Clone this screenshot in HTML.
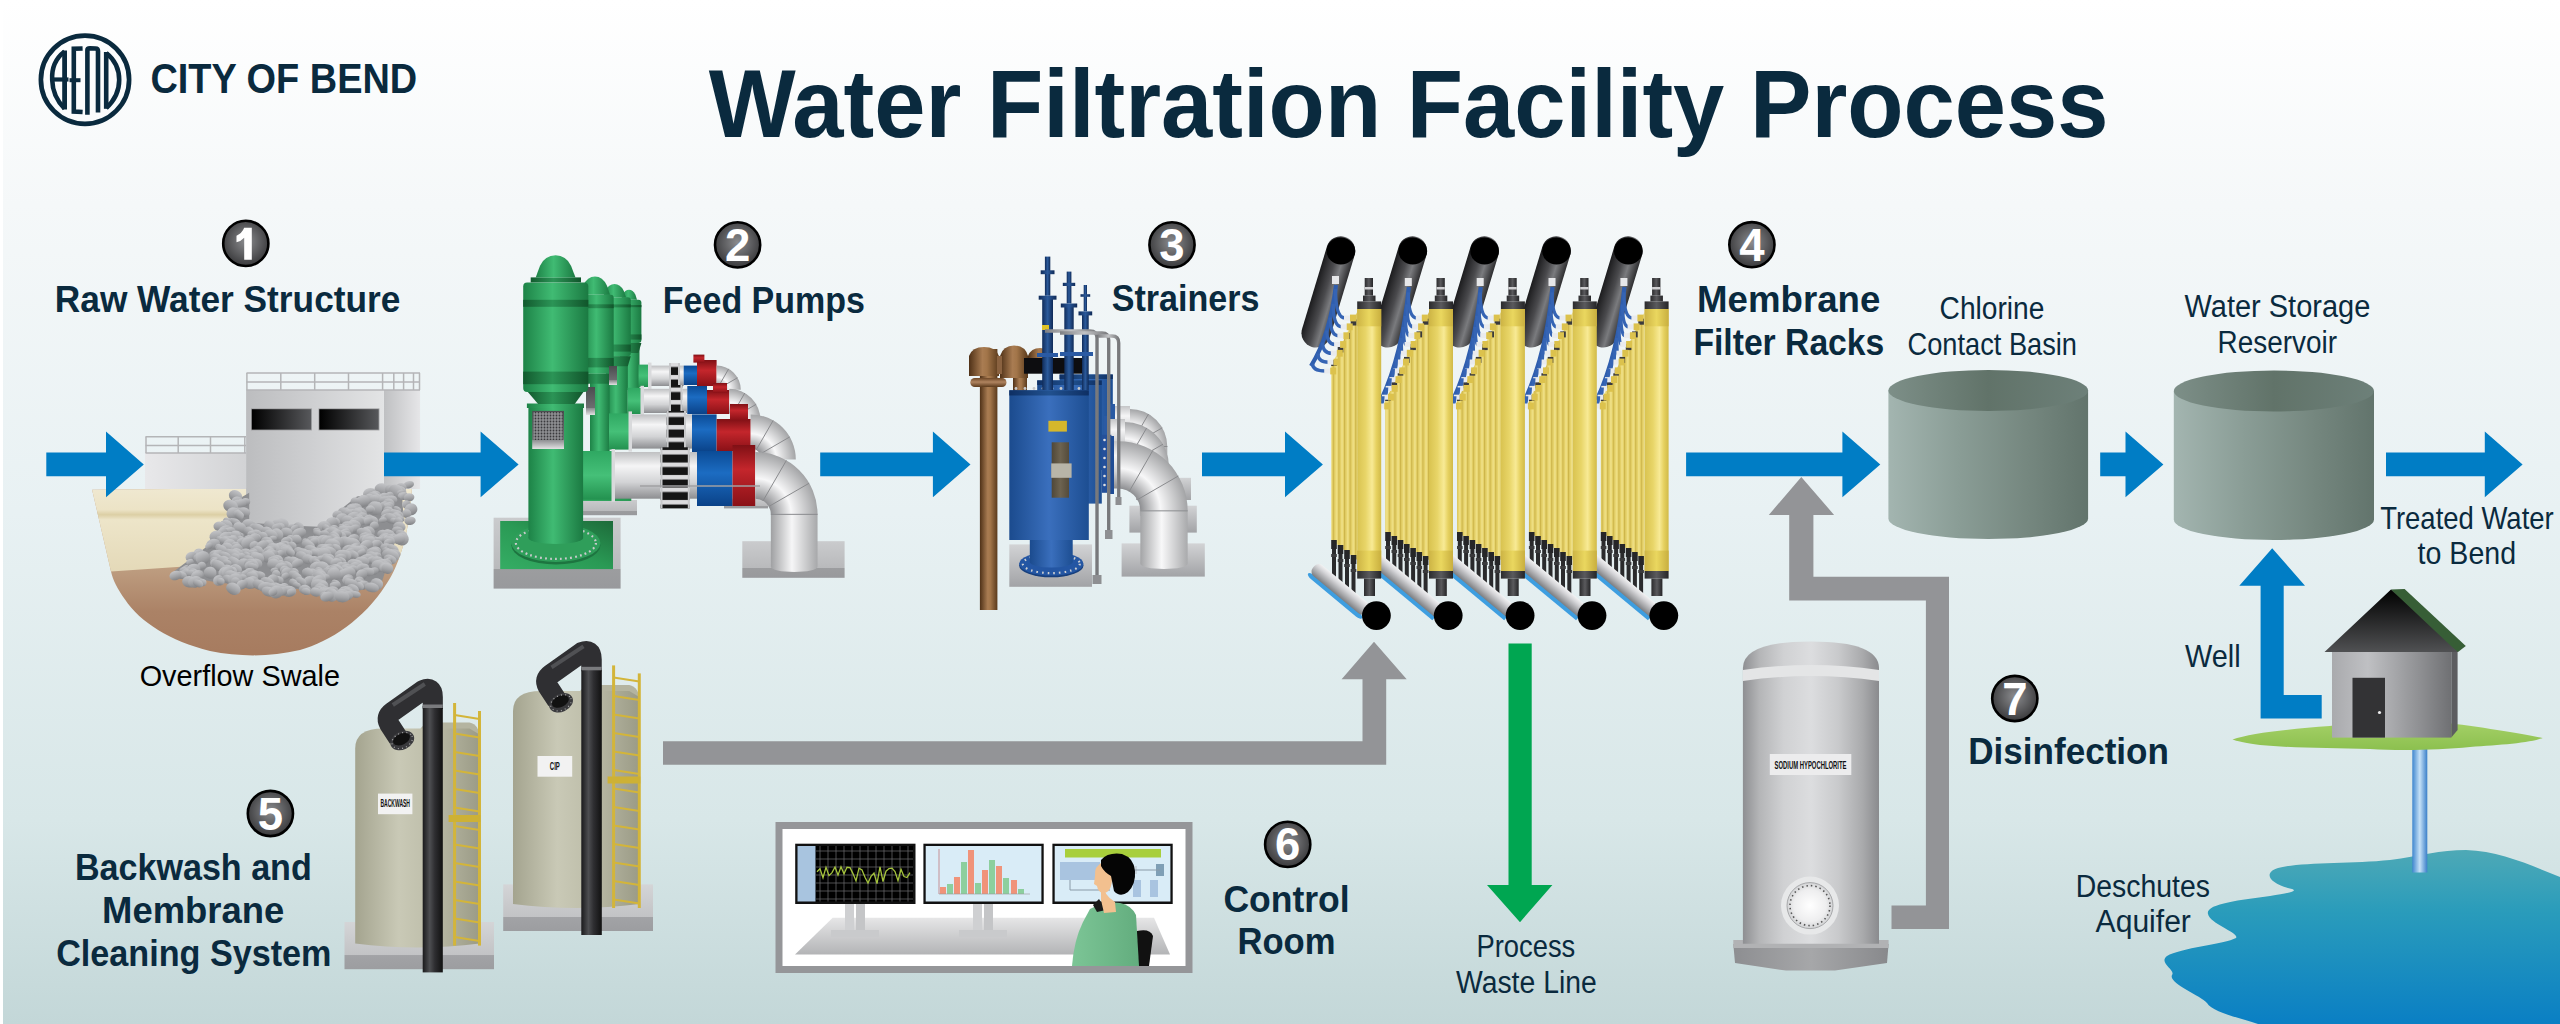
<!DOCTYPE html>
<html><head><meta charset="utf-8"><title>Water Filtration Facility Process</title>
<style>html,body{margin:0;padding:0;background:#fff;overflow:hidden}svg{display:block}</style>
</head><body>
<svg width="2560" height="1024" viewBox="0 0 2560 1024">

<defs>
<linearGradient id="bg" x1="0" y1="0" x2="0" y2="1">
 <stop offset="0" stop-color="#ffffff"/>
 <stop offset="0.2" stop-color="#f5f8f9"/>
 <stop offset="0.5" stop-color="#e8f1f3"/>
 <stop offset="0.8" stop-color="#d8e7e8"/>
 <stop offset="1" stop-color="#c3d7d8"/>
</linearGradient>
<radialGradient id="numg" cx="0.5" cy="0.45" r="0.55">
 <stop offset="0" stop-color="#8b8c8f"/>
 <stop offset="1" stop-color="#3a3a3c"/>
</radialGradient>
</defs>

<rect x="0" y="0" width="2560" height="1024" fill="#ffffff"/>
<rect x="3" y="0" width="2557" height="1024" fill="url(#bg)"/>
<circle cx="85" cy="79.7" r="44.1" fill="none" stroke="#0a2a3e" stroke-width="4.7"/>
<text x="150.4" y="92.5" font-family='"Liberation Sans", sans-serif' font-weight="bold" font-size="42.15" textLength="266.8" lengthAdjust="spacingAndGlyphs" fill="#0a2a3e" >CITY OF BEND</text>
<defs><linearGradient id="rw_sand" x1="0" y1="489" x2="0" y2="572" gradientUnits="userSpaceOnUse"><stop offset="0" stop-color="#efe8d0"/><stop offset="0.25" stop-color="#ece3c6"/><stop offset="0.31" stop-color="#dccfa5"/><stop offset="0.37" stop-color="#ede5c9"/><stop offset="1" stop-color="#e4d9b8"/></linearGradient><linearGradient id="rw_soil" x1="0" y1="565" x2="0" y2="650" gradientUnits="userSpaceOnUse"><stop offset="0" stop-color="#bf9f82"/><stop offset="0.55" stop-color="#ab8266"/><stop offset="1" stop-color="#a77c60"/></linearGradient><linearGradient id="rw_b1" x1="0" y1="0" x2="1" y2="0" ><stop offset="0" stop-color="#e8e8ea"/><stop offset="1" stop-color="#d2d3d5"/></linearGradient><linearGradient id="rw_b2" x1="0" y1="0" x2="1" y2="0" ><stop offset="0" stop-color="#bcbdbf"/><stop offset="0.5" stop-color="#cfd0d2"/><stop offset="1" stop-color="#e3e4e5"/></linearGradient><linearGradient id="rw_b3" x1="0" y1="0" x2="1" y2="0" ><stop offset="0" stop-color="#bfc0c2"/><stop offset="1" stop-color="#e6e6e8"/></linearGradient><linearGradient id="rw_win" x1="0" y1="0" x2="1" y2="0" ><stop offset="0" stop-color="#000"/><stop offset="1" stop-color="#57585b"/></linearGradient><radialGradient id="rw_rock" cx="0.45" cy="0.3" r="0.75" ><stop offset="0" stop-color="#bdbec1"/><stop offset="0.6" stop-color="#9c9da0"/><stop offset="1" stop-color="#7c7d80"/></radialGradient><linearGradient id="rw_rock2" x1="0" y1="0" x2="0" y2="1" ><stop offset="0" stop-color="#c4c5c8"/><stop offset="0.55" stop-color="#a3a4a7"/><stop offset="1" stop-color="#818285"/></linearGradient><clipPath id="rw_rc"><polygon points="165.6,575 188.5,557 213,538 223.6,520 236,494 246,488 246,521 283,524 327,526 345,506 362,492 389,488 410,484 412,515 399,554 389,586 343,598 266,593 213,588 167,579"/></clipPath></defs>
<path d="M92.1,489.7 L412,487 C410,530 400,565 385.4,585.5 C365,618 330,642 300,650 C270,657 240,657 210,651 C170,641 140,622 125,599.5 C117,588 113,580 111,571.4 Z" fill="url(#rw_soil)"/>
<clipPath id="rw_swc"><path d="M92.1,489.7 L412,487 C410,530 400,565 385.4,585.5 C365,618 330,642 300,650 C270,657 240,657 210,651 C170,641 140,622 125,599.5 C117,588 113,580 111,571.4 Z"/></clipPath>
<polygon points="80,480 420,480 420,558 243,562.6 111,571.5 80,573" fill="url(#rw_sand)" clip-path="url(#rw_swc)"/>
<rect x="145.0" y="453.0" width="101.1" height="36.0" fill="url(#rw_b1)" />
<g stroke="#b4b5b7" stroke-width="1.5" fill="none"><line x1="145.5" y1="436.8" x2="246" y2="436.8"/><line x1="145.5" y1="445.4" x2="246" y2="445.4"/><line x1="145.5" y1="453" x2="246" y2="453"/><line x1="146" y1="436.8" x2="146" y2="453"/><line x1="178.2" y1="436.8" x2="178.2" y2="453"/><line x1="210.5" y1="436.8" x2="210.5" y2="453"/><line x1="244.8" y1="436.8" x2="244.8" y2="453"/></g>
<rect x="383.9" y="390.0" width="36.2" height="99.0" fill="url(#rw_b3)" />
<rect x="246.1" y="390.0" width="137.8" height="142.0" fill="url(#rw_b2)" />
<g stroke="#b4b5b7" stroke-width="1.5" fill="none"><line x1="246.5" y1="373" x2="420" y2="373"/><line x1="246.5" y1="382" x2="420" y2="382"/><line x1="246.5" y1="390" x2="420" y2="390"/><line x1="246.9" y1="373" x2="246.9" y2="390"/><line x1="280.8" y1="373" x2="280.8" y2="390"/><line x1="314.7" y1="373" x2="314.7" y2="390"/><line x1="348.5" y1="373" x2="348.5" y2="390"/><line x1="382.6" y1="373" x2="382.6" y2="390"/><line x1="393.8" y1="373" x2="393.8" y2="390"/><line x1="403.6" y1="373" x2="403.6" y2="390"/><line x1="413.5" y1="373" x2="413.5" y2="390"/><line x1="419.5" y1="373" x2="419.5" y2="390"/></g>
<rect x="251.0" y="408.4" width="60.9" height="22.0" fill="#9d9ea0" />
<rect x="251.8" y="409.2" width="59.3" height="20.4" fill="url(#rw_win)" />
<rect x="318.5" y="408.4" width="60.9" height="22.0" fill="#9d9ea0" />
<rect x="319.3" y="409.2" width="59.3" height="20.4" fill="url(#rw_win)" />
<polygon points="174.4,571.1 195.7,554.9 218.5,537.8 228.3,521.6 239.9,498.2 249.2,492.8 249.2,522.5 283.6,525.2 324.5,527.0 341.2,509.0 357.0,496.4 382.2,492.8 401.7,489.2 403.5,517.1 391.5,552.2 382.2,581.0 339.4,591.8 267.8,587.3 218.5,582.8 175.7,574.7" fill="#8d8e91" />
<ellipse cx="408.7" cy="484.7" rx="5.4" ry="3.6" fill="url(#rw_rock2)" transform="rotate(-14 408.7 484.7)"/>
<ellipse cx="401.3" cy="487.2" rx="5.3" ry="4.1" fill="url(#rw_rock2)" transform="rotate(5 401.3 487.2)"/>
<ellipse cx="398.6" cy="488.5" rx="3.8" ry="3.0" fill="url(#rw_rock2)" transform="rotate(24 398.6 488.5)"/>
<ellipse cx="381.8" cy="489.5" rx="7.3" ry="6.3" fill="url(#rw_rock2)" transform="rotate(11 381.8 489.5)"/>
<ellipse cx="390.8" cy="490.1" rx="6.0" ry="5.7" fill="url(#rw_rock2)" transform="rotate(17 390.8 490.1)"/>
<ellipse cx="401.0" cy="490.7" rx="5.5" ry="4.4" fill="url(#rw_rock2)" transform="rotate(26 401.0 490.7)"/>
<ellipse cx="397.6" cy="491.3" rx="5.8" ry="4.8" fill="url(#rw_rock2)" transform="rotate(-12 397.6 491.3)"/>
<ellipse cx="392.0" cy="491.5" rx="6.3" ry="5.0" fill="url(#rw_rock2)" transform="rotate(27 392.0 491.5)"/>
<ellipse cx="395.7" cy="491.6" rx="7.5" ry="7.1" fill="url(#rw_rock2)" transform="rotate(27 395.7 491.6)"/>
<ellipse cx="401.0" cy="492.6" rx="4.0" ry="2.7" fill="url(#rw_rock2)" transform="rotate(-10 401.0 492.6)"/>
<ellipse cx="369.8" cy="493.6" rx="6.9" ry="5.6" fill="url(#rw_rock2)" transform="rotate(-15 369.8 493.6)"/>
<ellipse cx="402.0" cy="495.3" rx="4.2" ry="3.0" fill="url(#rw_rock2)" transform="rotate(-22 402.0 495.3)"/>
<ellipse cx="389.7" cy="495.6" rx="4.3" ry="3.8" fill="url(#rw_rock2)" transform="rotate(-18 389.7 495.6)"/>
<ellipse cx="403.8" cy="496.0" rx="4.4" ry="3.7" fill="url(#rw_rock2)" transform="rotate(-22 403.8 496.0)"/>
<ellipse cx="235.5" cy="496.0" rx="6.9" ry="5.8" fill="url(#rw_rock2)" transform="rotate(23 235.5 496.0)"/>
<ellipse cx="375.1" cy="496.5" rx="6.5" ry="5.6" fill="url(#rw_rock2)" transform="rotate(-14 375.1 496.5)"/>
<ellipse cx="409.0" cy="497.4" rx="5.4" ry="4.1" fill="url(#rw_rock2)" transform="rotate(-6 409.0 497.4)"/>
<ellipse cx="373.8" cy="497.7" rx="7.2" ry="5.6" fill="url(#rw_rock2)" transform="rotate(18 373.8 497.7)"/>
<ellipse cx="383.6" cy="497.9" rx="6.1" ry="4.1" fill="url(#rw_rock2)" transform="rotate(-17 383.6 497.9)"/>
<ellipse cx="384.0" cy="498.1" rx="5.9" ry="5.3" fill="url(#rw_rock2)" transform="rotate(-16 384.0 498.1)"/>
<ellipse cx="363.3" cy="498.7" rx="4.7" ry="3.6" fill="url(#rw_rock2)" transform="rotate(-2 363.3 498.7)"/>
<ellipse cx="369.3" cy="498.8" rx="5.4" ry="5.0" fill="url(#rw_rock2)" transform="rotate(6 369.3 498.8)"/>
<ellipse cx="392.2" cy="499.1" rx="4.8" ry="3.6" fill="url(#rw_rock2)" transform="rotate(0 392.2 499.1)"/>
<ellipse cx="388.1" cy="499.2" rx="4.4" ry="3.4" fill="url(#rw_rock2)" transform="rotate(-26 388.1 499.2)"/>
<ellipse cx="376.6" cy="499.5" rx="6.2" ry="5.7" fill="url(#rw_rock2)" transform="rotate(24 376.6 499.5)"/>
<ellipse cx="374.4" cy="499.7" rx="6.0" ry="4.6" fill="url(#rw_rock2)" transform="rotate(4 374.4 499.7)"/>
<ellipse cx="391.5" cy="499.9" rx="5.9" ry="4.1" fill="url(#rw_rock2)" transform="rotate(2 391.5 499.9)"/>
<ellipse cx="384.5" cy="500.3" rx="5.6" ry="4.0" fill="url(#rw_rock2)" transform="rotate(-3 384.5 500.3)"/>
<ellipse cx="363.0" cy="501.1" rx="6.9" ry="5.8" fill="url(#rw_rock2)" transform="rotate(-10 363.0 501.1)"/>
<ellipse cx="355.3" cy="501.2" rx="4.7" ry="3.9" fill="url(#rw_rock2)" transform="rotate(3 355.3 501.2)"/>
<ellipse cx="245.4" cy="501.9" rx="4.9" ry="3.9" fill="url(#rw_rock2)" transform="rotate(-6 245.4 501.9)"/>
<ellipse cx="237.0" cy="502.0" rx="6.1" ry="5.6" fill="url(#rw_rock2)" transform="rotate(-8 237.0 502.0)"/>
<ellipse cx="388.8" cy="503.2" rx="5.8" ry="4.7" fill="url(#rw_rock2)" transform="rotate(10 388.8 503.2)"/>
<ellipse cx="240.8" cy="503.3" rx="4.7" ry="3.4" fill="url(#rw_rock2)" transform="rotate(25 240.8 503.3)"/>
<ellipse cx="236.9" cy="503.6" rx="4.3" ry="3.7" fill="url(#rw_rock2)" transform="rotate(-14 236.9 503.6)"/>
<ellipse cx="240.9" cy="503.8" rx="5.6" ry="4.4" fill="url(#rw_rock2)" transform="rotate(-16 240.9 503.8)"/>
<ellipse cx="406.5" cy="504.5" rx="4.5" ry="4.2" fill="url(#rw_rock2)" transform="rotate(-28 406.5 504.5)"/>
<ellipse cx="384.2" cy="505.2" rx="4.3" ry="3.8" fill="url(#rw_rock2)" transform="rotate(-8 384.2 505.2)"/>
<ellipse cx="377.2" cy="505.6" rx="4.5" ry="4.0" fill="url(#rw_rock2)" transform="rotate(29 377.2 505.6)"/>
<ellipse cx="389.5" cy="505.9" rx="4.6" ry="3.9" fill="url(#rw_rock2)" transform="rotate(-6 389.5 505.9)"/>
<ellipse cx="230.6" cy="506.1" rx="7.5" ry="6.2" fill="url(#rw_rock2)" transform="rotate(24 230.6 506.1)"/>
<ellipse cx="386.1" cy="507.5" rx="6.3" ry="4.3" fill="url(#rw_rock2)" transform="rotate(-3 386.1 507.5)"/>
<ellipse cx="378.5" cy="507.7" rx="6.4" ry="4.5" fill="url(#rw_rock2)" transform="rotate(-25 378.5 507.7)"/>
<ellipse cx="374.7" cy="508.3" rx="7.5" ry="6.9" fill="url(#rw_rock2)" transform="rotate(9 374.7 508.3)"/>
<ellipse cx="370.7" cy="508.9" rx="4.0" ry="3.5" fill="url(#rw_rock2)" transform="rotate(29 370.7 508.9)"/>
<ellipse cx="355.5" cy="509.0" rx="6.7" ry="5.8" fill="url(#rw_rock2)" transform="rotate(-4 355.5 509.0)"/>
<ellipse cx="352.3" cy="509.2" rx="6.1" ry="5.7" fill="url(#rw_rock2)" transform="rotate(-0 352.3 509.2)"/>
<ellipse cx="397.1" cy="509.3" rx="4.1" ry="2.8" fill="url(#rw_rock2)" transform="rotate(27 397.1 509.3)"/>
<ellipse cx="411.0" cy="509.4" rx="6.4" ry="6.0" fill="url(#rw_rock2)" transform="rotate(-21 411.0 509.4)"/>
<ellipse cx="369.8" cy="509.6" rx="4.2" ry="3.6" fill="url(#rw_rock2)" transform="rotate(-4 369.8 509.6)"/>
<ellipse cx="388.5" cy="510.7" rx="5.5" ry="4.0" fill="url(#rw_rock2)" transform="rotate(16 388.5 510.7)"/>
<ellipse cx="351.5" cy="511.0" rx="6.7" ry="5.8" fill="url(#rw_rock2)" transform="rotate(-4 351.5 511.0)"/>
<ellipse cx="359.4" cy="511.5" rx="5.6" ry="4.3" fill="url(#rw_rock2)" transform="rotate(-2 359.4 511.5)"/>
<ellipse cx="239.5" cy="511.7" rx="5.0" ry="4.0" fill="url(#rw_rock2)" transform="rotate(28 239.5 511.7)"/>
<ellipse cx="243.5" cy="512.0" rx="6.8" ry="4.7" fill="url(#rw_rock2)" transform="rotate(10 243.5 512.0)"/>
<ellipse cx="234.2" cy="512.6" rx="6.8" ry="5.1" fill="url(#rw_rock2)" transform="rotate(23 234.2 512.6)"/>
<ellipse cx="359.6" cy="512.6" rx="7.3" ry="4.9" fill="url(#rw_rock2)" transform="rotate(8 359.6 512.6)"/>
<ellipse cx="352.4" cy="513.0" rx="5.2" ry="4.1" fill="url(#rw_rock2)" transform="rotate(3 352.4 513.0)"/>
<ellipse cx="344.6" cy="513.3" rx="7.0" ry="5.9" fill="url(#rw_rock2)" transform="rotate(23 344.6 513.3)"/>
<ellipse cx="393.6" cy="513.4" rx="4.7" ry="4.2" fill="url(#rw_rock2)" transform="rotate(-6 393.6 513.4)"/>
<ellipse cx="349.0" cy="513.5" rx="4.5" ry="4.0" fill="url(#rw_rock2)" transform="rotate(5 349.0 513.5)"/>
<ellipse cx="406.7" cy="513.6" rx="4.6" ry="4.3" fill="url(#rw_rock2)" transform="rotate(-1 406.7 513.6)"/>
<ellipse cx="232.8" cy="513.7" rx="6.3" ry="6.0" fill="url(#rw_rock2)" transform="rotate(-10 232.8 513.7)"/>
<ellipse cx="386.9" cy="513.8" rx="5.8" ry="4.7" fill="url(#rw_rock2)" transform="rotate(-13 386.9 513.8)"/>
<ellipse cx="356.9" cy="514.0" rx="5.8" ry="5.4" fill="url(#rw_rock2)" transform="rotate(12 356.9 514.0)"/>
<ellipse cx="237.9" cy="514.1" rx="4.8" ry="4.1" fill="url(#rw_rock2)" transform="rotate(7 237.9 514.1)"/>
<ellipse cx="337.6" cy="514.8" rx="5.2" ry="4.4" fill="url(#rw_rock2)" transform="rotate(-7 337.6 514.8)"/>
<ellipse cx="396.9" cy="515.0" rx="6.7" ry="5.1" fill="url(#rw_rock2)" transform="rotate(19 396.9 515.0)"/>
<ellipse cx="396.8" cy="515.3" rx="4.9" ry="3.4" fill="url(#rw_rock2)" transform="rotate(-10 396.8 515.3)"/>
<ellipse cx="239.6" cy="515.5" rx="4.3" ry="3.9" fill="url(#rw_rock2)" transform="rotate(30 239.6 515.5)"/>
<ellipse cx="397.4" cy="517.0" rx="5.3" ry="3.9" fill="url(#rw_rock2)" transform="rotate(23 397.4 517.0)"/>
<ellipse cx="361.6" cy="517.4" rx="6.9" ry="5.0" fill="url(#rw_rock2)" transform="rotate(-12 361.6 517.4)"/>
<ellipse cx="385.9" cy="517.7" rx="5.6" ry="3.9" fill="url(#rw_rock2)" transform="rotate(-17 385.9 517.7)"/>
<ellipse cx="387.9" cy="517.9" rx="5.3" ry="3.6" fill="url(#rw_rock2)" transform="rotate(-21 387.9 517.9)"/>
<ellipse cx="395.8" cy="517.9" rx="6.0" ry="4.5" fill="url(#rw_rock2)" transform="rotate(25 395.8 517.9)"/>
<ellipse cx="353.9" cy="518.1" rx="7.4" ry="6.3" fill="url(#rw_rock2)" transform="rotate(-14 353.9 518.1)"/>
<ellipse cx="390.7" cy="518.3" rx="6.6" ry="5.0" fill="url(#rw_rock2)" transform="rotate(22 390.7 518.3)"/>
<ellipse cx="358.6" cy="518.8" rx="5.4" ry="4.6" fill="url(#rw_rock2)" transform="rotate(15 358.6 518.8)"/>
<ellipse cx="342.2" cy="518.8" rx="6.4" ry="5.6" fill="url(#rw_rock2)" transform="rotate(-9 342.2 518.8)"/>
<ellipse cx="358.6" cy="519.1" rx="4.4" ry="3.3" fill="url(#rw_rock2)" transform="rotate(28 358.6 519.1)"/>
<ellipse cx="400.6" cy="519.5" rx="3.9" ry="2.9" fill="url(#rw_rock2)" transform="rotate(-11 400.6 519.5)"/>
<ellipse cx="369.0" cy="519.5" rx="5.4" ry="4.9" fill="url(#rw_rock2)" transform="rotate(-20 369.0 519.5)"/>
<ellipse cx="382.8" cy="520.1" rx="4.2" ry="2.7" fill="url(#rw_rock2)" transform="rotate(-10 382.8 520.1)"/>
<ellipse cx="347.9" cy="520.7" rx="6.5" ry="5.1" fill="url(#rw_rock2)" transform="rotate(9 347.9 520.7)"/>
<ellipse cx="410.0" cy="520.7" rx="5.7" ry="4.3" fill="url(#rw_rock2)" transform="rotate(-6 410.0 520.7)"/>
<ellipse cx="363.2" cy="520.9" rx="4.0" ry="3.7" fill="url(#rw_rock2)" transform="rotate(14 363.2 520.9)"/>
<ellipse cx="394.3" cy="521.1" rx="4.2" ry="3.0" fill="url(#rw_rock2)" transform="rotate(17 394.3 521.1)"/>
<ellipse cx="372.7" cy="521.1" rx="5.7" ry="5.0" fill="url(#rw_rock2)" transform="rotate(15 372.7 521.1)"/>
<ellipse cx="368.2" cy="521.2" rx="4.3" ry="3.9" fill="url(#rw_rock2)" transform="rotate(-18 368.2 521.2)"/>
<ellipse cx="398.5" cy="521.4" rx="4.3" ry="3.8" fill="url(#rw_rock2)" transform="rotate(19 398.5 521.4)"/>
<ellipse cx="335.3" cy="521.5" rx="4.9" ry="3.8" fill="url(#rw_rock2)" transform="rotate(14 335.3 521.5)"/>
<ellipse cx="227.6" cy="521.6" rx="4.9" ry="3.8" fill="url(#rw_rock2)" transform="rotate(30 227.6 521.6)"/>
<ellipse cx="231.9" cy="522.1" rx="4.3" ry="4.0" fill="url(#rw_rock2)" transform="rotate(23 231.9 522.1)"/>
<ellipse cx="356.3" cy="522.4" rx="7.5" ry="5.4" fill="url(#rw_rock2)" transform="rotate(-18 356.3 522.4)"/>
<ellipse cx="235.5" cy="522.4" rx="5.4" ry="3.8" fill="url(#rw_rock2)" transform="rotate(25 235.5 522.4)"/>
<ellipse cx="332.0" cy="522.5" rx="5.9" ry="5.3" fill="url(#rw_rock2)" transform="rotate(-1 332.0 522.5)"/>
<ellipse cx="332.3" cy="522.8" rx="5.6" ry="5.3" fill="url(#rw_rock2)" transform="rotate(-22 332.3 522.8)"/>
<ellipse cx="248.6" cy="523.4" rx="4.6" ry="4.2" fill="url(#rw_rock2)" transform="rotate(5 248.6 523.4)"/>
<ellipse cx="282.1" cy="524.5" rx="6.7" ry="6.3" fill="url(#rw_rock2)" transform="rotate(16 282.1 524.5)"/>
<ellipse cx="247.8" cy="524.6" rx="6.1" ry="5.3" fill="url(#rw_rock2)" transform="rotate(2 247.8 524.6)"/>
<ellipse cx="224.2" cy="524.8" rx="4.6" ry="3.4" fill="url(#rw_rock2)" transform="rotate(25 224.2 524.8)"/>
<ellipse cx="226.1" cy="524.9" rx="5.7" ry="3.8" fill="url(#rw_rock2)" transform="rotate(8 226.1 524.9)"/>
<ellipse cx="278.4" cy="525.3" rx="7.5" ry="6.3" fill="url(#rw_rock2)" transform="rotate(-0 278.4 525.3)"/>
<ellipse cx="355.3" cy="525.3" rx="5.5" ry="4.6" fill="url(#rw_rock2)" transform="rotate(7 355.3 525.3)"/>
<ellipse cx="269.4" cy="525.5" rx="5.6" ry="5.2" fill="url(#rw_rock2)" transform="rotate(23 269.4 525.5)"/>
<ellipse cx="226.1" cy="525.7" rx="6.7" ry="5.8" fill="url(#rw_rock2)" transform="rotate(13 226.1 525.7)"/>
<ellipse cx="238.0" cy="525.8" rx="4.5" ry="3.6" fill="url(#rw_rock2)" transform="rotate(-14 238.0 525.8)"/>
<ellipse cx="374.3" cy="525.9" rx="4.6" ry="4.3" fill="url(#rw_rock2)" transform="rotate(-16 374.3 525.9)"/>
<ellipse cx="353.2" cy="526.1" rx="6.8" ry="6.1" fill="url(#rw_rock2)" transform="rotate(-6 353.2 526.1)"/>
<ellipse cx="223.1" cy="526.2" rx="3.9" ry="2.7" fill="url(#rw_rock2)" transform="rotate(9 223.1 526.2)"/>
<ellipse cx="219.8" cy="526.5" rx="6.4" ry="4.9" fill="url(#rw_rock2)" transform="rotate(6 219.8 526.5)"/>
<ellipse cx="280.2" cy="526.6" rx="4.4" ry="3.7" fill="url(#rw_rock2)" transform="rotate(17 280.2 526.6)"/>
<ellipse cx="347.5" cy="526.7" rx="6.7" ry="5.5" fill="url(#rw_rock2)" transform="rotate(4 347.5 526.7)"/>
<ellipse cx="291.6" cy="526.7" rx="3.8" ry="2.8" fill="url(#rw_rock2)" transform="rotate(-6 291.6 526.7)"/>
<ellipse cx="342.4" cy="526.9" rx="4.1" ry="2.7" fill="url(#rw_rock2)" transform="rotate(27 342.4 526.9)"/>
<ellipse cx="399.3" cy="526.9" rx="6.3" ry="5.2" fill="url(#rw_rock2)" transform="rotate(11 399.3 526.9)"/>
<ellipse cx="324.1" cy="527.0" rx="7.0" ry="5.9" fill="url(#rw_rock2)" transform="rotate(-4 324.1 527.0)"/>
<ellipse cx="298.6" cy="527.0" rx="5.3" ry="4.9" fill="url(#rw_rock2)" transform="rotate(27 298.6 527.0)"/>
<ellipse cx="278.7" cy="527.6" rx="4.4" ry="3.9" fill="url(#rw_rock2)" transform="rotate(9 278.7 527.6)"/>
<ellipse cx="276.8" cy="527.9" rx="5.1" ry="4.4" fill="url(#rw_rock2)" transform="rotate(-14 276.8 527.9)"/>
<ellipse cx="239.6" cy="527.9" rx="6.6" ry="5.4" fill="url(#rw_rock2)" transform="rotate(5 239.6 527.9)"/>
<ellipse cx="326.0" cy="528.2" rx="4.0" ry="3.7" fill="url(#rw_rock2)" transform="rotate(27 326.0 528.2)"/>
<ellipse cx="255.5" cy="528.3" rx="6.6" ry="4.9" fill="url(#rw_rock2)" transform="rotate(13 255.5 528.3)"/>
<ellipse cx="334.0" cy="528.4" rx="4.2" ry="3.4" fill="url(#rw_rock2)" transform="rotate(-9 334.0 528.4)"/>
<ellipse cx="346.1" cy="528.4" rx="5.5" ry="4.1" fill="url(#rw_rock2)" transform="rotate(-26 346.1 528.4)"/>
<ellipse cx="354.8" cy="528.5" rx="5.4" ry="3.9" fill="url(#rw_rock2)" transform="rotate(-19 354.8 528.5)"/>
<ellipse cx="294.8" cy="528.6" rx="5.0" ry="3.5" fill="url(#rw_rock2)" transform="rotate(-29 294.8 528.6)"/>
<ellipse cx="258.3" cy="529.0" rx="7.4" ry="4.9" fill="url(#rw_rock2)" transform="rotate(24 258.3 529.0)"/>
<ellipse cx="348.7" cy="529.5" rx="5.4" ry="3.7" fill="url(#rw_rock2)" transform="rotate(-4 348.7 529.5)"/>
<ellipse cx="397.6" cy="530.2" rx="5.7" ry="3.8" fill="url(#rw_rock2)" transform="rotate(3 397.6 530.2)"/>
<ellipse cx="316.8" cy="530.7" rx="3.8" ry="2.8" fill="url(#rw_rock2)" transform="rotate(13 316.8 530.7)"/>
<ellipse cx="346.2" cy="530.9" rx="6.9" ry="4.9" fill="url(#rw_rock2)" transform="rotate(-6 346.2 530.9)"/>
<ellipse cx="225.1" cy="530.9" rx="7.3" ry="5.4" fill="url(#rw_rock2)" transform="rotate(-23 225.1 530.9)"/>
<ellipse cx="231.0" cy="531.2" rx="4.7" ry="4.3" fill="url(#rw_rock2)" transform="rotate(-9 231.0 531.2)"/>
<ellipse cx="342.8" cy="531.3" rx="6.3" ry="5.8" fill="url(#rw_rock2)" transform="rotate(7 342.8 531.3)"/>
<ellipse cx="228.1" cy="531.4" rx="4.5" ry="3.6" fill="url(#rw_rock2)" transform="rotate(-10 228.1 531.4)"/>
<ellipse cx="248.9" cy="531.5" rx="5.6" ry="4.7" fill="url(#rw_rock2)" transform="rotate(29 248.9 531.5)"/>
<ellipse cx="267.1" cy="531.8" rx="6.3" ry="5.1" fill="url(#rw_rock2)" transform="rotate(19 267.1 531.8)"/>
<ellipse cx="362.2" cy="531.9" rx="5.7" ry="4.0" fill="url(#rw_rock2)" transform="rotate(10 362.2 531.9)"/>
<ellipse cx="345.6" cy="532.0" rx="4.8" ry="3.4" fill="url(#rw_rock2)" transform="rotate(-7 345.6 532.0)"/>
<ellipse cx="368.7" cy="532.3" rx="5.6" ry="3.7" fill="url(#rw_rock2)" transform="rotate(-8 368.7 532.3)"/>
<ellipse cx="367.6" cy="532.3" rx="7.4" ry="5.9" fill="url(#rw_rock2)" transform="rotate(-8 367.6 532.3)"/>
<ellipse cx="328.9" cy="532.4" rx="5.5" ry="4.7" fill="url(#rw_rock2)" transform="rotate(0 328.9 532.4)"/>
<ellipse cx="329.7" cy="532.5" rx="5.3" ry="4.4" fill="url(#rw_rock2)" transform="rotate(-13 329.7 532.5)"/>
<ellipse cx="286.6" cy="532.6" rx="6.3" ry="4.9" fill="url(#rw_rock2)" transform="rotate(12 286.6 532.6)"/>
<ellipse cx="276.2" cy="532.6" rx="5.1" ry="4.3" fill="url(#rw_rock2)" transform="rotate(-18 276.2 532.6)"/>
<ellipse cx="222.3" cy="532.7" rx="5.6" ry="4.5" fill="url(#rw_rock2)" transform="rotate(-29 222.3 532.7)"/>
<ellipse cx="388.3" cy="532.9" rx="4.3" ry="3.4" fill="url(#rw_rock2)" transform="rotate(16 388.3 532.9)"/>
<ellipse cx="333.2" cy="533.1" rx="6.8" ry="6.1" fill="url(#rw_rock2)" transform="rotate(18 333.2 533.1)"/>
<ellipse cx="299.1" cy="533.3" rx="7.4" ry="5.2" fill="url(#rw_rock2)" transform="rotate(-21 299.1 533.3)"/>
<ellipse cx="344.1" cy="533.4" rx="4.3" ry="3.8" fill="url(#rw_rock2)" transform="rotate(-19 344.1 533.4)"/>
<ellipse cx="318.0" cy="533.4" rx="5.0" ry="3.4" fill="url(#rw_rock2)" transform="rotate(25 318.0 533.4)"/>
<ellipse cx="324.7" cy="533.7" rx="4.6" ry="3.3" fill="url(#rw_rock2)" transform="rotate(6 324.7 533.7)"/>
<ellipse cx="255.8" cy="533.8" rx="6.4" ry="4.2" fill="url(#rw_rock2)" transform="rotate(5 255.8 533.8)"/>
<ellipse cx="337.1" cy="533.9" rx="5.8" ry="4.7" fill="url(#rw_rock2)" transform="rotate(1 337.1 533.9)"/>
<ellipse cx="365.1" cy="534.0" rx="6.8" ry="6.1" fill="url(#rw_rock2)" transform="rotate(22 365.1 534.0)"/>
<ellipse cx="346.4" cy="534.2" rx="5.0" ry="3.3" fill="url(#rw_rock2)" transform="rotate(-2 346.4 534.2)"/>
<ellipse cx="251.3" cy="534.3" rx="3.9" ry="3.3" fill="url(#rw_rock2)" transform="rotate(-1 251.3 534.3)"/>
<ellipse cx="276.8" cy="534.6" rx="6.6" ry="5.9" fill="url(#rw_rock2)" transform="rotate(14 276.8 534.6)"/>
<ellipse cx="383.5" cy="534.6" rx="6.4" ry="4.8" fill="url(#rw_rock2)" transform="rotate(14 383.5 534.6)"/>
<ellipse cx="401.4" cy="534.6" rx="6.2" ry="4.4" fill="url(#rw_rock2)" transform="rotate(22 401.4 534.6)"/>
<ellipse cx="268.8" cy="534.8" rx="5.5" ry="4.5" fill="url(#rw_rock2)" transform="rotate(-18 268.8 534.8)"/>
<ellipse cx="270.7" cy="535.0" rx="6.9" ry="5.4" fill="url(#rw_rock2)" transform="rotate(15 270.7 535.0)"/>
<ellipse cx="388.2" cy="535.1" rx="6.9" ry="5.6" fill="url(#rw_rock2)" transform="rotate(5 388.2 535.1)"/>
<ellipse cx="340.9" cy="535.5" rx="5.5" ry="4.0" fill="url(#rw_rock2)" transform="rotate(18 340.9 535.5)"/>
<ellipse cx="335.2" cy="535.7" rx="7.2" ry="4.8" fill="url(#rw_rock2)" transform="rotate(-28 335.2 535.7)"/>
<ellipse cx="238.4" cy="535.9" rx="5.5" ry="3.7" fill="url(#rw_rock2)" transform="rotate(-4 238.4 535.9)"/>
<ellipse cx="230.9" cy="535.9" rx="5.1" ry="3.7" fill="url(#rw_rock2)" transform="rotate(17 230.9 535.9)"/>
<ellipse cx="235.9" cy="536.0" rx="6.0" ry="5.5" fill="url(#rw_rock2)" transform="rotate(-18 235.9 536.0)"/>
<ellipse cx="262.7" cy="536.1" rx="5.2" ry="4.3" fill="url(#rw_rock2)" transform="rotate(16 262.7 536.1)"/>
<ellipse cx="364.8" cy="536.2" rx="5.4" ry="3.8" fill="url(#rw_rock2)" transform="rotate(-7 364.8 536.2)"/>
<ellipse cx="235.2" cy="536.4" rx="5.9" ry="5.5" fill="url(#rw_rock2)" transform="rotate(9 235.2 536.4)"/>
<ellipse cx="216.4" cy="536.7" rx="6.9" ry="6.2" fill="url(#rw_rock2)" transform="rotate(-4 216.4 536.7)"/>
<ellipse cx="226.3" cy="536.9" rx="5.7" ry="5.1" fill="url(#rw_rock2)" transform="rotate(13 226.3 536.9)"/>
<ellipse cx="255.5" cy="537.0" rx="5.3" ry="3.7" fill="url(#rw_rock2)" transform="rotate(14 255.5 537.0)"/>
<ellipse cx="393.3" cy="537.3" rx="4.9" ry="3.6" fill="url(#rw_rock2)" transform="rotate(-15 393.3 537.3)"/>
<ellipse cx="333.9" cy="537.4" rx="6.3" ry="5.4" fill="url(#rw_rock2)" transform="rotate(26 333.9 537.4)"/>
<ellipse cx="385.6" cy="537.7" rx="6.0" ry="4.8" fill="url(#rw_rock2)" transform="rotate(23 385.6 537.7)"/>
<ellipse cx="390.0" cy="537.9" rx="4.3" ry="3.6" fill="url(#rw_rock2)" transform="rotate(29 390.0 537.9)"/>
<ellipse cx="399.4" cy="537.9" rx="5.0" ry="3.5" fill="url(#rw_rock2)" transform="rotate(-23 399.4 537.9)"/>
<ellipse cx="290.8" cy="538.3" rx="3.9" ry="3.4" fill="url(#rw_rock2)" transform="rotate(-5 290.8 538.3)"/>
<ellipse cx="225.3" cy="538.5" rx="6.8" ry="6.2" fill="url(#rw_rock2)" transform="rotate(-28 225.3 538.5)"/>
<ellipse cx="396.9" cy="538.6" rx="4.9" ry="3.6" fill="url(#rw_rock2)" transform="rotate(-14 396.9 538.6)"/>
<ellipse cx="272.9" cy="538.6" rx="3.9" ry="2.8" fill="url(#rw_rock2)" transform="rotate(-10 272.9 538.6)"/>
<ellipse cx="333.5" cy="538.8" rx="5.5" ry="4.4" fill="url(#rw_rock2)" transform="rotate(29 333.5 538.8)"/>
<ellipse cx="315.0" cy="539.0" rx="4.2" ry="2.9" fill="url(#rw_rock2)" transform="rotate(24 315.0 539.0)"/>
<ellipse cx="248.4" cy="539.0" rx="4.9" ry="3.9" fill="url(#rw_rock2)" transform="rotate(-12 248.4 539.0)"/>
<ellipse cx="401.7" cy="539.0" rx="7.1" ry="6.6" fill="url(#rw_rock2)" transform="rotate(4 401.7 539.0)"/>
<ellipse cx="316.8" cy="539.1" rx="4.1" ry="3.2" fill="url(#rw_rock2)" transform="rotate(12 316.8 539.1)"/>
<ellipse cx="364.7" cy="539.2" rx="5.9" ry="4.3" fill="url(#rw_rock2)" transform="rotate(-6 364.7 539.2)"/>
<ellipse cx="374.4" cy="539.2" rx="4.0" ry="3.1" fill="url(#rw_rock2)" transform="rotate(19 374.4 539.2)"/>
<ellipse cx="233.0" cy="539.2" rx="5.2" ry="4.1" fill="url(#rw_rock2)" transform="rotate(-20 233.0 539.2)"/>
<ellipse cx="399.0" cy="539.3" rx="6.4" ry="5.0" fill="url(#rw_rock2)" transform="rotate(-7 399.0 539.3)"/>
<ellipse cx="353.0" cy="539.3" rx="6.7" ry="4.9" fill="url(#rw_rock2)" transform="rotate(-25 353.0 539.3)"/>
<ellipse cx="254.0" cy="539.3" rx="6.2" ry="5.4" fill="url(#rw_rock2)" transform="rotate(-27 254.0 539.3)"/>
<ellipse cx="296.5" cy="539.4" rx="5.1" ry="4.6" fill="url(#rw_rock2)" transform="rotate(1 296.5 539.4)"/>
<ellipse cx="225.7" cy="539.6" rx="5.3" ry="3.7" fill="url(#rw_rock2)" transform="rotate(-13 225.7 539.6)"/>
<ellipse cx="383.6" cy="539.7" rx="6.0" ry="5.5" fill="url(#rw_rock2)" transform="rotate(10 383.6 539.7)"/>
<ellipse cx="368.7" cy="539.7" rx="7.4" ry="5.7" fill="url(#rw_rock2)" transform="rotate(-26 368.7 539.7)"/>
<ellipse cx="386.8" cy="539.7" rx="5.1" ry="3.8" fill="url(#rw_rock2)" transform="rotate(-27 386.8 539.7)"/>
<ellipse cx="240.5" cy="539.7" rx="4.1" ry="3.8" fill="url(#rw_rock2)" transform="rotate(24 240.5 539.7)"/>
<ellipse cx="220.0" cy="539.8" rx="4.3" ry="2.9" fill="url(#rw_rock2)" transform="rotate(29 220.0 539.8)"/>
<ellipse cx="380.7" cy="539.9" rx="4.4" ry="3.3" fill="url(#rw_rock2)" transform="rotate(-16 380.7 539.9)"/>
<ellipse cx="377.4" cy="540.0" rx="4.6" ry="3.0" fill="url(#rw_rock2)" transform="rotate(-2 377.4 540.0)"/>
<ellipse cx="231.6" cy="540.3" rx="6.7" ry="4.5" fill="url(#rw_rock2)" transform="rotate(-1 231.6 540.3)"/>
<ellipse cx="288.3" cy="540.5" rx="4.3" ry="3.8" fill="url(#rw_rock2)" transform="rotate(24 288.3 540.5)"/>
<ellipse cx="323.0" cy="540.6" rx="7.0" ry="5.7" fill="url(#rw_rock2)" transform="rotate(-21 323.0 540.6)"/>
<ellipse cx="313.1" cy="540.7" rx="6.5" ry="4.3" fill="url(#rw_rock2)" transform="rotate(17 313.1 540.7)"/>
<ellipse cx="372.1" cy="540.8" rx="4.9" ry="4.5" fill="url(#rw_rock2)" transform="rotate(-13 372.1 540.8)"/>
<ellipse cx="327.3" cy="540.8" rx="6.5" ry="5.2" fill="url(#rw_rock2)" transform="rotate(-16 327.3 540.8)"/>
<ellipse cx="343.6" cy="540.9" rx="5.6" ry="4.4" fill="url(#rw_rock2)" transform="rotate(-21 343.6 540.9)"/>
<ellipse cx="389.2" cy="540.9" rx="5.8" ry="4.7" fill="url(#rw_rock2)" transform="rotate(12 389.2 540.9)"/>
<ellipse cx="285.9" cy="541.2" rx="5.1" ry="4.2" fill="url(#rw_rock2)" transform="rotate(-18 285.9 541.2)"/>
<ellipse cx="225.6" cy="541.2" rx="5.7" ry="4.1" fill="url(#rw_rock2)" transform="rotate(17 225.6 541.2)"/>
<ellipse cx="370.1" cy="541.3" rx="4.5" ry="3.3" fill="url(#rw_rock2)" transform="rotate(-26 370.1 541.3)"/>
<ellipse cx="241.3" cy="542.0" rx="4.9" ry="4.0" fill="url(#rw_rock2)" transform="rotate(-16 241.3 542.0)"/>
<ellipse cx="314.0" cy="542.0" rx="4.2" ry="3.9" fill="url(#rw_rock2)" transform="rotate(-11 314.0 542.0)"/>
<ellipse cx="306.4" cy="542.0" rx="4.6" ry="3.5" fill="url(#rw_rock2)" transform="rotate(20 306.4 542.0)"/>
<ellipse cx="369.6" cy="542.3" rx="6.6" ry="6.0" fill="url(#rw_rock2)" transform="rotate(3 369.6 542.3)"/>
<ellipse cx="349.6" cy="542.5" rx="5.0" ry="4.0" fill="url(#rw_rock2)" transform="rotate(-26 349.6 542.5)"/>
<ellipse cx="266.8" cy="542.5" rx="6.3" ry="5.7" fill="url(#rw_rock2)" transform="rotate(25 266.8 542.5)"/>
<ellipse cx="346.6" cy="542.6" rx="6.9" ry="5.8" fill="url(#rw_rock2)" transform="rotate(18 346.6 542.6)"/>
<ellipse cx="388.6" cy="542.8" rx="4.9" ry="4.0" fill="url(#rw_rock2)" transform="rotate(-20 388.6 542.8)"/>
<ellipse cx="248.4" cy="542.8" rx="7.3" ry="5.8" fill="url(#rw_rock2)" transform="rotate(-19 248.4 542.8)"/>
<ellipse cx="336.9" cy="543.2" rx="7.4" ry="6.2" fill="url(#rw_rock2)" transform="rotate(-17 336.9 543.2)"/>
<ellipse cx="353.3" cy="543.9" rx="6.9" ry="5.8" fill="url(#rw_rock2)" transform="rotate(7 353.3 543.9)"/>
<ellipse cx="213.2" cy="544.0" rx="7.0" ry="5.2" fill="url(#rw_rock2)" transform="rotate(-13 213.2 544.0)"/>
<ellipse cx="377.2" cy="544.1" rx="5.9" ry="4.2" fill="url(#rw_rock2)" transform="rotate(12 377.2 544.1)"/>
<ellipse cx="376.2" cy="544.3" rx="5.6" ry="4.0" fill="url(#rw_rock2)" transform="rotate(-23 376.2 544.3)"/>
<ellipse cx="268.8" cy="544.5" rx="4.4" ry="3.6" fill="url(#rw_rock2)" transform="rotate(25 268.8 544.5)"/>
<ellipse cx="331.4" cy="544.6" rx="6.7" ry="6.1" fill="url(#rw_rock2)" transform="rotate(4 331.4 544.6)"/>
<ellipse cx="333.3" cy="544.7" rx="6.8" ry="5.1" fill="url(#rw_rock2)" transform="rotate(-8 333.3 544.7)"/>
<ellipse cx="333.3" cy="544.7" rx="7.1" ry="5.2" fill="url(#rw_rock2)" transform="rotate(7 333.3 544.7)"/>
<ellipse cx="285.5" cy="544.9" rx="5.9" ry="3.9" fill="url(#rw_rock2)" transform="rotate(4 285.5 544.9)"/>
<ellipse cx="229.7" cy="545.1" rx="6.7" ry="6.2" fill="url(#rw_rock2)" transform="rotate(-5 229.7 545.1)"/>
<ellipse cx="308.3" cy="545.3" rx="7.1" ry="4.7" fill="url(#rw_rock2)" transform="rotate(24 308.3 545.3)"/>
<ellipse cx="268.5" cy="545.5" rx="6.3" ry="5.6" fill="url(#rw_rock2)" transform="rotate(-3 268.5 545.5)"/>
<ellipse cx="366.8" cy="545.5" rx="6.0" ry="5.4" fill="url(#rw_rock2)" transform="rotate(-17 366.8 545.5)"/>
<ellipse cx="292.1" cy="545.5" rx="4.5" ry="3.9" fill="url(#rw_rock2)" transform="rotate(23 292.1 545.5)"/>
<ellipse cx="235.7" cy="545.6" rx="4.6" ry="3.8" fill="url(#rw_rock2)" transform="rotate(0 235.7 545.6)"/>
<ellipse cx="254.5" cy="545.6" rx="5.0" ry="4.5" fill="url(#rw_rock2)" transform="rotate(-13 254.5 545.6)"/>
<ellipse cx="262.6" cy="545.8" rx="6.7" ry="5.2" fill="url(#rw_rock2)" transform="rotate(-21 262.6 545.8)"/>
<ellipse cx="365.9" cy="546.0" rx="7.4" ry="5.1" fill="url(#rw_rock2)" transform="rotate(-24 365.9 546.0)"/>
<ellipse cx="209.0" cy="546.0" rx="3.9" ry="3.0" fill="url(#rw_rock2)" transform="rotate(-28 209.0 546.0)"/>
<ellipse cx="285.9" cy="546.3" rx="4.4" ry="4.1" fill="url(#rw_rock2)" transform="rotate(-15 285.9 546.3)"/>
<ellipse cx="281.7" cy="546.5" rx="6.4" ry="4.6" fill="url(#rw_rock2)" transform="rotate(-29 281.7 546.5)"/>
<ellipse cx="326.2" cy="546.8" rx="3.8" ry="2.6" fill="url(#rw_rock2)" transform="rotate(27 326.2 546.8)"/>
<ellipse cx="355.3" cy="547.1" rx="5.5" ry="4.0" fill="url(#rw_rock2)" transform="rotate(-27 355.3 547.1)"/>
<ellipse cx="278.8" cy="547.4" rx="6.2" ry="4.6" fill="url(#rw_rock2)" transform="rotate(-19 278.8 547.4)"/>
<ellipse cx="227.1" cy="547.4" rx="5.4" ry="4.7" fill="url(#rw_rock2)" transform="rotate(-10 227.1 547.4)"/>
<ellipse cx="386.4" cy="547.5" rx="5.9" ry="4.2" fill="url(#rw_rock2)" transform="rotate(4 386.4 547.5)"/>
<ellipse cx="218.8" cy="547.8" rx="4.0" ry="3.7" fill="url(#rw_rock2)" transform="rotate(26 218.8 547.8)"/>
<ellipse cx="282.0" cy="547.9" rx="5.9" ry="4.7" fill="url(#rw_rock2)" transform="rotate(-6 282.0 547.9)"/>
<ellipse cx="227.1" cy="548.2" rx="6.6" ry="5.4" fill="url(#rw_rock2)" transform="rotate(13 227.1 548.2)"/>
<ellipse cx="335.6" cy="548.4" rx="5.4" ry="4.2" fill="url(#rw_rock2)" transform="rotate(13 335.6 548.4)"/>
<ellipse cx="389.5" cy="548.6" rx="4.5" ry="3.4" fill="url(#rw_rock2)" transform="rotate(-16 389.5 548.6)"/>
<ellipse cx="351.8" cy="548.7" rx="4.6" ry="4.1" fill="url(#rw_rock2)" transform="rotate(-11 351.8 548.7)"/>
<ellipse cx="392.5" cy="548.9" rx="6.5" ry="4.3" fill="url(#rw_rock2)" transform="rotate(25 392.5 548.9)"/>
<ellipse cx="354.8" cy="548.9" rx="5.5" ry="4.8" fill="url(#rw_rock2)" transform="rotate(-24 354.8 548.9)"/>
<ellipse cx="237.0" cy="549.2" rx="6.0" ry="5.4" fill="url(#rw_rock2)" transform="rotate(-13 237.0 549.2)"/>
<ellipse cx="273.8" cy="549.2" rx="4.1" ry="3.2" fill="url(#rw_rock2)" transform="rotate(16 273.8 549.2)"/>
<ellipse cx="348.6" cy="549.3" rx="6.6" ry="4.4" fill="url(#rw_rock2)" transform="rotate(-11 348.6 549.3)"/>
<ellipse cx="327.6" cy="549.4" rx="7.2" ry="5.3" fill="url(#rw_rock2)" transform="rotate(-25 327.6 549.4)"/>
<ellipse cx="280.2" cy="549.4" rx="7.0" ry="6.3" fill="url(#rw_rock2)" transform="rotate(-3 280.2 549.4)"/>
<ellipse cx="322.7" cy="549.6" rx="6.4" ry="5.6" fill="url(#rw_rock2)" transform="rotate(20 322.7 549.6)"/>
<ellipse cx="312.0" cy="549.7" rx="4.5" ry="3.9" fill="url(#rw_rock2)" transform="rotate(25 312.0 549.7)"/>
<ellipse cx="286.0" cy="549.9" rx="6.7" ry="5.4" fill="url(#rw_rock2)" transform="rotate(-6 286.0 549.9)"/>
<ellipse cx="273.0" cy="550.0" rx="7.4" ry="7.0" fill="url(#rw_rock2)" transform="rotate(18 273.0 550.0)"/>
<ellipse cx="221.4" cy="550.2" rx="5.7" ry="5.2" fill="url(#rw_rock2)" transform="rotate(22 221.4 550.2)"/>
<ellipse cx="375.7" cy="550.4" rx="5.7" ry="3.9" fill="url(#rw_rock2)" transform="rotate(7 375.7 550.4)"/>
<ellipse cx="284.1" cy="550.6" rx="4.3" ry="3.2" fill="url(#rw_rock2)" transform="rotate(4 284.1 550.6)"/>
<ellipse cx="257.7" cy="550.8" rx="5.7" ry="4.8" fill="url(#rw_rock2)" transform="rotate(19 257.7 550.8)"/>
<ellipse cx="311.1" cy="550.8" rx="7.3" ry="5.4" fill="url(#rw_rock2)" transform="rotate(27 311.1 550.8)"/>
<ellipse cx="298.7" cy="550.9" rx="5.0" ry="3.8" fill="url(#rw_rock2)" transform="rotate(15 298.7 550.9)"/>
<ellipse cx="353.7" cy="551.0" rx="7.4" ry="5.9" fill="url(#rw_rock2)" transform="rotate(18 353.7 551.0)"/>
<ellipse cx="353.8" cy="551.0" rx="6.9" ry="5.1" fill="url(#rw_rock2)" transform="rotate(7 353.8 551.0)"/>
<ellipse cx="269.1" cy="551.1" rx="7.3" ry="4.8" fill="url(#rw_rock2)" transform="rotate(-23 269.1 551.1)"/>
<ellipse cx="361.2" cy="551.1" rx="7.0" ry="5.8" fill="url(#rw_rock2)" transform="rotate(-5 361.2 551.1)"/>
<ellipse cx="361.2" cy="551.2" rx="6.7" ry="5.3" fill="url(#rw_rock2)" transform="rotate(-22 361.2 551.2)"/>
<ellipse cx="269.3" cy="551.2" rx="5.1" ry="4.5" fill="url(#rw_rock2)" transform="rotate(9 269.3 551.2)"/>
<ellipse cx="387.0" cy="551.4" rx="5.6" ry="3.7" fill="url(#rw_rock2)" transform="rotate(30 387.0 551.4)"/>
<ellipse cx="253.4" cy="551.4" rx="4.1" ry="3.0" fill="url(#rw_rock2)" transform="rotate(17 253.4 551.4)"/>
<ellipse cx="325.7" cy="551.7" rx="7.3" ry="6.2" fill="url(#rw_rock2)" transform="rotate(-7 325.7 551.7)"/>
<ellipse cx="359.0" cy="551.7" rx="6.6" ry="5.6" fill="url(#rw_rock2)" transform="rotate(5 359.0 551.7)"/>
<ellipse cx="287.3" cy="551.7" rx="6.7" ry="5.5" fill="url(#rw_rock2)" transform="rotate(2 287.3 551.7)"/>
<ellipse cx="327.4" cy="551.8" rx="4.8" ry="4.2" fill="url(#rw_rock2)" transform="rotate(-24 327.4 551.8)"/>
<ellipse cx="375.3" cy="551.9" rx="4.2" ry="3.5" fill="url(#rw_rock2)" transform="rotate(-27 375.3 551.9)"/>
<ellipse cx="329.4" cy="552.1" rx="7.0" ry="5.0" fill="url(#rw_rock2)" transform="rotate(-2 329.4 552.1)"/>
<ellipse cx="199.1" cy="552.3" rx="4.8" ry="3.8" fill="url(#rw_rock2)" transform="rotate(7 199.1 552.3)"/>
<ellipse cx="290.5" cy="552.4" rx="4.5" ry="3.7" fill="url(#rw_rock2)" transform="rotate(28 290.5 552.4)"/>
<ellipse cx="361.5" cy="552.6" rx="4.4" ry="3.1" fill="url(#rw_rock2)" transform="rotate(-18 361.5 552.6)"/>
<ellipse cx="299.6" cy="552.6" rx="4.2" ry="2.7" fill="url(#rw_rock2)" transform="rotate(28 299.6 552.6)"/>
<ellipse cx="318.5" cy="552.7" rx="7.4" ry="4.9" fill="url(#rw_rock2)" transform="rotate(20 318.5 552.7)"/>
<ellipse cx="316.0" cy="552.8" rx="5.9" ry="4.2" fill="url(#rw_rock2)" transform="rotate(23 316.0 552.8)"/>
<ellipse cx="313.8" cy="552.9" rx="4.2" ry="3.6" fill="url(#rw_rock2)" transform="rotate(10 313.8 552.9)"/>
<ellipse cx="350.0" cy="552.9" rx="6.4" ry="4.6" fill="url(#rw_rock2)" transform="rotate(-21 350.0 552.9)"/>
<ellipse cx="245.8" cy="553.0" rx="6.1" ry="4.5" fill="url(#rw_rock2)" transform="rotate(6 245.8 553.0)"/>
<ellipse cx="390.8" cy="553.1" rx="6.5" ry="4.3" fill="url(#rw_rock2)" transform="rotate(14 390.8 553.1)"/>
<ellipse cx="373.4" cy="553.2" rx="7.4" ry="5.7" fill="url(#rw_rock2)" transform="rotate(4 373.4 553.2)"/>
<ellipse cx="270.8" cy="553.2" rx="5.0" ry="4.6" fill="url(#rw_rock2)" transform="rotate(-17 270.8 553.2)"/>
<ellipse cx="252.5" cy="553.2" rx="4.2" ry="3.3" fill="url(#rw_rock2)" transform="rotate(-3 252.5 553.2)"/>
<ellipse cx="229.7" cy="553.3" rx="5.9" ry="4.2" fill="url(#rw_rock2)" transform="rotate(26 229.7 553.3)"/>
<ellipse cx="394.9" cy="553.8" rx="5.8" ry="4.4" fill="url(#rw_rock2)" transform="rotate(15 394.9 553.8)"/>
<ellipse cx="308.4" cy="553.8" rx="3.9" ry="3.7" fill="url(#rw_rock2)" transform="rotate(20 308.4 553.8)"/>
<ellipse cx="280.0" cy="554.1" rx="4.8" ry="3.7" fill="url(#rw_rock2)" transform="rotate(-28 280.0 554.1)"/>
<ellipse cx="236.8" cy="554.4" rx="6.7" ry="6.3" fill="url(#rw_rock2)" transform="rotate(6 236.8 554.4)"/>
<ellipse cx="303.5" cy="554.4" rx="7.4" ry="5.9" fill="url(#rw_rock2)" transform="rotate(22 303.5 554.4)"/>
<ellipse cx="324.4" cy="554.5" rx="6.9" ry="6.4" fill="url(#rw_rock2)" transform="rotate(-2 324.4 554.5)"/>
<ellipse cx="353.4" cy="554.6" rx="5.7" ry="3.8" fill="url(#rw_rock2)" transform="rotate(27 353.4 554.6)"/>
<ellipse cx="231.6" cy="554.6" rx="4.1" ry="3.4" fill="url(#rw_rock2)" transform="rotate(6 231.6 554.6)"/>
<ellipse cx="237.1" cy="554.9" rx="4.4" ry="3.4" fill="url(#rw_rock2)" transform="rotate(-12 237.1 554.9)"/>
<ellipse cx="394.3" cy="555.0" rx="3.8" ry="3.0" fill="url(#rw_rock2)" transform="rotate(-7 394.3 555.0)"/>
<ellipse cx="388.0" cy="555.1" rx="6.5" ry="5.6" fill="url(#rw_rock2)" transform="rotate(27 388.0 555.1)"/>
<ellipse cx="216.1" cy="555.2" rx="7.0" ry="5.1" fill="url(#rw_rock2)" transform="rotate(7 216.1 555.2)"/>
<ellipse cx="198.2" cy="555.3" rx="6.4" ry="5.6" fill="url(#rw_rock2)" transform="rotate(-22 198.2 555.3)"/>
<ellipse cx="348.3" cy="555.3" rx="5.0" ry="4.2" fill="url(#rw_rock2)" transform="rotate(-11 348.3 555.3)"/>
<ellipse cx="343.9" cy="555.4" rx="7.2" ry="5.6" fill="url(#rw_rock2)" transform="rotate(12 343.9 555.4)"/>
<ellipse cx="246.4" cy="555.4" rx="4.1" ry="3.7" fill="url(#rw_rock2)" transform="rotate(28 246.4 555.4)"/>
<ellipse cx="392.1" cy="555.6" rx="7.4" ry="5.5" fill="url(#rw_rock2)" transform="rotate(20 392.1 555.6)"/>
<ellipse cx="271.5" cy="555.6" rx="7.4" ry="5.1" fill="url(#rw_rock2)" transform="rotate(-26 271.5 555.6)"/>
<ellipse cx="218.8" cy="555.7" rx="6.3" ry="5.9" fill="url(#rw_rock2)" transform="rotate(-28 218.8 555.7)"/>
<ellipse cx="341.4" cy="555.7" rx="6.9" ry="5.9" fill="url(#rw_rock2)" transform="rotate(-1 341.4 555.7)"/>
<ellipse cx="198.7" cy="555.9" rx="4.3" ry="3.5" fill="url(#rw_rock2)" transform="rotate(-0 198.7 555.9)"/>
<ellipse cx="253.8" cy="556.0" rx="4.5" ry="4.2" fill="url(#rw_rock2)" transform="rotate(14 253.8 556.0)"/>
<ellipse cx="377.0" cy="556.1" rx="4.4" ry="3.7" fill="url(#rw_rock2)" transform="rotate(6 377.0 556.1)"/>
<ellipse cx="233.3" cy="556.2" rx="7.3" ry="6.9" fill="url(#rw_rock2)" transform="rotate(23 233.3 556.2)"/>
<ellipse cx="376.7" cy="556.2" rx="4.0" ry="3.1" fill="url(#rw_rock2)" transform="rotate(-21 376.7 556.2)"/>
<ellipse cx="225.1" cy="556.3" rx="6.6" ry="4.4" fill="url(#rw_rock2)" transform="rotate(20 225.1 556.3)"/>
<ellipse cx="301.5" cy="556.5" rx="6.1" ry="5.1" fill="url(#rw_rock2)" transform="rotate(27 301.5 556.5)"/>
<ellipse cx="268.4" cy="556.6" rx="7.0" ry="6.1" fill="url(#rw_rock2)" transform="rotate(8 268.4 556.6)"/>
<ellipse cx="191.1" cy="556.6" rx="5.8" ry="4.7" fill="url(#rw_rock2)" transform="rotate(-28 191.1 556.6)"/>
<ellipse cx="241.5" cy="557.0" rx="4.5" ry="3.9" fill="url(#rw_rock2)" transform="rotate(-5 241.5 557.0)"/>
<ellipse cx="256.0" cy="557.0" rx="5.5" ry="4.9" fill="url(#rw_rock2)" transform="rotate(-7 256.0 557.0)"/>
<ellipse cx="371.4" cy="557.1" rx="6.5" ry="5.8" fill="url(#rw_rock2)" transform="rotate(20 371.4 557.1)"/>
<ellipse cx="326.0" cy="557.4" rx="4.7" ry="3.9" fill="url(#rw_rock2)" transform="rotate(-2 326.0 557.4)"/>
<ellipse cx="259.1" cy="557.5" rx="6.0" ry="4.0" fill="url(#rw_rock2)" transform="rotate(-19 259.1 557.5)"/>
<ellipse cx="234.8" cy="557.5" rx="4.7" ry="4.2" fill="url(#rw_rock2)" transform="rotate(17 234.8 557.5)"/>
<ellipse cx="198.5" cy="557.8" rx="5.2" ry="4.3" fill="url(#rw_rock2)" transform="rotate(-4 198.5 557.8)"/>
<ellipse cx="340.6" cy="557.9" rx="5.8" ry="4.2" fill="url(#rw_rock2)" transform="rotate(-9 340.6 557.9)"/>
<ellipse cx="202.7" cy="557.9" rx="7.3" ry="6.7" fill="url(#rw_rock2)" transform="rotate(-23 202.7 557.9)"/>
<ellipse cx="257.4" cy="558.1" rx="4.2" ry="3.9" fill="url(#rw_rock2)" transform="rotate(-3 257.4 558.1)"/>
<ellipse cx="258.0" cy="558.4" rx="6.2" ry="5.1" fill="url(#rw_rock2)" transform="rotate(6 258.0 558.4)"/>
<ellipse cx="216.3" cy="558.7" rx="7.2" ry="5.0" fill="url(#rw_rock2)" transform="rotate(22 216.3 558.7)"/>
<ellipse cx="320.5" cy="558.9" rx="4.8" ry="3.2" fill="url(#rw_rock2)" transform="rotate(-12 320.5 558.9)"/>
<ellipse cx="329.4" cy="559.0" rx="5.7" ry="5.1" fill="url(#rw_rock2)" transform="rotate(5 329.4 559.0)"/>
<ellipse cx="367.3" cy="559.1" rx="7.4" ry="5.2" fill="url(#rw_rock2)" transform="rotate(-7 367.3 559.1)"/>
<ellipse cx="308.1" cy="559.3" rx="5.9" ry="4.9" fill="url(#rw_rock2)" transform="rotate(12 308.1 559.3)"/>
<ellipse cx="248.7" cy="559.3" rx="5.7" ry="3.9" fill="url(#rw_rock2)" transform="rotate(17 248.7 559.3)"/>
<ellipse cx="390.1" cy="559.4" rx="6.7" ry="4.5" fill="url(#rw_rock2)" transform="rotate(19 390.1 559.4)"/>
<ellipse cx="311.6" cy="559.6" rx="3.8" ry="3.3" fill="url(#rw_rock2)" transform="rotate(7 311.6 559.6)"/>
<ellipse cx="371.9" cy="559.7" rx="4.9" ry="3.3" fill="url(#rw_rock2)" transform="rotate(-15 371.9 559.7)"/>
<ellipse cx="277.4" cy="559.9" rx="6.1" ry="5.0" fill="url(#rw_rock2)" transform="rotate(19 277.4 559.9)"/>
<ellipse cx="272.5" cy="560.0" rx="4.4" ry="3.7" fill="url(#rw_rock2)" transform="rotate(-12 272.5 560.0)"/>
<ellipse cx="388.5" cy="560.5" rx="4.0" ry="2.8" fill="url(#rw_rock2)" transform="rotate(-23 388.5 560.5)"/>
<ellipse cx="341.9" cy="560.6" rx="4.4" ry="2.9" fill="url(#rw_rock2)" transform="rotate(29 341.9 560.6)"/>
<ellipse cx="314.4" cy="560.6" rx="5.1" ry="4.5" fill="url(#rw_rock2)" transform="rotate(-5 314.4 560.6)"/>
<ellipse cx="232.6" cy="560.8" rx="5.7" ry="4.1" fill="url(#rw_rock2)" transform="rotate(27 232.6 560.8)"/>
<ellipse cx="275.1" cy="560.8" rx="4.6" ry="4.3" fill="url(#rw_rock2)" transform="rotate(17 275.1 560.8)"/>
<ellipse cx="328.2" cy="561.0" rx="7.0" ry="4.8" fill="url(#rw_rock2)" transform="rotate(29 328.2 561.0)"/>
<ellipse cx="377.5" cy="561.4" rx="6.2" ry="5.1" fill="url(#rw_rock2)" transform="rotate(4 377.5 561.4)"/>
<ellipse cx="288.8" cy="561.5" rx="5.4" ry="5.1" fill="url(#rw_rock2)" transform="rotate(29 288.8 561.5)"/>
<ellipse cx="361.9" cy="561.6" rx="7.3" ry="5.1" fill="url(#rw_rock2)" transform="rotate(2 361.9 561.6)"/>
<ellipse cx="216.0" cy="561.8" rx="6.4" ry="4.5" fill="url(#rw_rock2)" transform="rotate(23 216.0 561.8)"/>
<ellipse cx="220.6" cy="561.9" rx="6.6" ry="4.5" fill="url(#rw_rock2)" transform="rotate(-12 220.6 561.9)"/>
<ellipse cx="221.5" cy="562.1" rx="6.3" ry="5.8" fill="url(#rw_rock2)" transform="rotate(30 221.5 562.1)"/>
<ellipse cx="295.6" cy="562.1" rx="4.8" ry="4.3" fill="url(#rw_rock2)" transform="rotate(5 295.6 562.1)"/>
<ellipse cx="215.0" cy="562.2" rx="5.1" ry="3.7" fill="url(#rw_rock2)" transform="rotate(-24 215.0 562.2)"/>
<ellipse cx="190.1" cy="562.2" rx="3.9" ry="3.1" fill="url(#rw_rock2)" transform="rotate(-23 190.1 562.2)"/>
<ellipse cx="352.1" cy="562.4" rx="4.6" ry="3.4" fill="url(#rw_rock2)" transform="rotate(-22 352.1 562.4)"/>
<ellipse cx="316.6" cy="562.4" rx="4.5" ry="3.3" fill="url(#rw_rock2)" transform="rotate(29 316.6 562.4)"/>
<ellipse cx="336.7" cy="562.4" rx="5.4" ry="4.5" fill="url(#rw_rock2)" transform="rotate(2 336.7 562.4)"/>
<ellipse cx="223.9" cy="562.6" rx="7.4" ry="6.6" fill="url(#rw_rock2)" transform="rotate(26 223.9 562.6)"/>
<ellipse cx="293.5" cy="562.8" rx="7.0" ry="6.1" fill="url(#rw_rock2)" transform="rotate(23 293.5 562.8)"/>
<ellipse cx="335.4" cy="562.9" rx="5.0" ry="4.2" fill="url(#rw_rock2)" transform="rotate(-10 335.4 562.9)"/>
<ellipse cx="234.2" cy="562.9" rx="7.2" ry="5.3" fill="url(#rw_rock2)" transform="rotate(30 234.2 562.9)"/>
<ellipse cx="227.0" cy="563.1" rx="4.7" ry="3.5" fill="url(#rw_rock2)" transform="rotate(15 227.0 563.1)"/>
<ellipse cx="297.5" cy="563.3" rx="5.9" ry="4.2" fill="url(#rw_rock2)" transform="rotate(-22 297.5 563.3)"/>
<ellipse cx="385.1" cy="563.7" rx="7.0" ry="5.0" fill="url(#rw_rock2)" transform="rotate(1 385.1 563.7)"/>
<ellipse cx="255.5" cy="564.0" rx="6.9" ry="5.5" fill="url(#rw_rock2)" transform="rotate(-1 255.5 564.0)"/>
<ellipse cx="280.9" cy="564.1" rx="4.4" ry="4.1" fill="url(#rw_rock2)" transform="rotate(6 280.9 564.1)"/>
<ellipse cx="244.4" cy="564.1" rx="6.3" ry="4.8" fill="url(#rw_rock2)" transform="rotate(13 244.4 564.1)"/>
<ellipse cx="215.9" cy="564.3" rx="5.2" ry="3.7" fill="url(#rw_rock2)" transform="rotate(-9 215.9 564.3)"/>
<ellipse cx="243.7" cy="564.3" rx="6.6" ry="6.0" fill="url(#rw_rock2)" transform="rotate(1 243.7 564.3)"/>
<ellipse cx="273.4" cy="564.3" rx="6.2" ry="5.8" fill="url(#rw_rock2)" transform="rotate(9 273.4 564.3)"/>
<ellipse cx="251.5" cy="564.4" rx="7.4" ry="5.4" fill="url(#rw_rock2)" transform="rotate(22 251.5 564.4)"/>
<ellipse cx="381.8" cy="564.6" rx="6.6" ry="5.4" fill="url(#rw_rock2)" transform="rotate(6 381.8 564.6)"/>
<ellipse cx="320.4" cy="564.9" rx="4.4" ry="2.9" fill="url(#rw_rock2)" transform="rotate(-28 320.4 564.9)"/>
<ellipse cx="356.3" cy="564.9" rx="7.1" ry="5.5" fill="url(#rw_rock2)" transform="rotate(6 356.3 564.9)"/>
<ellipse cx="357.6" cy="565.4" rx="5.4" ry="5.0" fill="url(#rw_rock2)" transform="rotate(14 357.6 565.4)"/>
<ellipse cx="249.7" cy="565.4" rx="5.2" ry="4.4" fill="url(#rw_rock2)" transform="rotate(-17 249.7 565.4)"/>
<ellipse cx="218.4" cy="565.6" rx="7.3" ry="5.1" fill="url(#rw_rock2)" transform="rotate(25 218.4 565.6)"/>
<ellipse cx="287.2" cy="565.6" rx="5.8" ry="4.0" fill="url(#rw_rock2)" transform="rotate(29 287.2 565.6)"/>
<ellipse cx="201.6" cy="565.8" rx="4.5" ry="3.9" fill="url(#rw_rock2)" transform="rotate(-14 201.6 565.8)"/>
<ellipse cx="316.9" cy="565.9" rx="4.3" ry="3.8" fill="url(#rw_rock2)" transform="rotate(23 316.9 565.9)"/>
<ellipse cx="378.3" cy="566.1" rx="7.1" ry="6.0" fill="url(#rw_rock2)" transform="rotate(9 378.3 566.1)"/>
<ellipse cx="345.6" cy="566.1" rx="4.4" ry="4.2" fill="url(#rw_rock2)" transform="rotate(-10 345.6 566.1)"/>
<ellipse cx="281.4" cy="566.4" rx="6.2" ry="4.1" fill="url(#rw_rock2)" transform="rotate(-11 281.4 566.4)"/>
<ellipse cx="340.9" cy="566.5" rx="5.7" ry="4.5" fill="url(#rw_rock2)" transform="rotate(-5 340.9 566.5)"/>
<ellipse cx="252.7" cy="566.5" rx="5.2" ry="3.4" fill="url(#rw_rock2)" transform="rotate(9 252.7 566.5)"/>
<ellipse cx="282.7" cy="566.7" rx="5.1" ry="3.5" fill="url(#rw_rock2)" transform="rotate(-8 282.7 566.7)"/>
<ellipse cx="385.4" cy="566.9" rx="6.3" ry="5.5" fill="url(#rw_rock2)" transform="rotate(-5 385.4 566.9)"/>
<ellipse cx="315.5" cy="567.2" rx="4.2" ry="3.5" fill="url(#rw_rock2)" transform="rotate(6 315.5 567.2)"/>
<ellipse cx="355.0" cy="567.2" rx="5.6" ry="5.3" fill="url(#rw_rock2)" transform="rotate(-8 355.0 567.2)"/>
<ellipse cx="361.4" cy="567.4" rx="5.7" ry="3.8" fill="url(#rw_rock2)" transform="rotate(-22 361.4 567.4)"/>
<ellipse cx="234.3" cy="567.6" rx="4.5" ry="3.2" fill="url(#rw_rock2)" transform="rotate(-20 234.3 567.6)"/>
<ellipse cx="364.9" cy="567.6" rx="4.2" ry="3.9" fill="url(#rw_rock2)" transform="rotate(5 364.9 567.6)"/>
<ellipse cx="385.1" cy="567.6" rx="5.6" ry="4.6" fill="url(#rw_rock2)" transform="rotate(-13 385.1 567.6)"/>
<ellipse cx="316.6" cy="567.9" rx="7.0" ry="6.1" fill="url(#rw_rock2)" transform="rotate(-4 316.6 567.9)"/>
<ellipse cx="185.2" cy="568.1" rx="3.9" ry="2.5" fill="url(#rw_rock2)" transform="rotate(-28 185.2 568.1)"/>
<ellipse cx="346.7" cy="568.2" rx="6.5" ry="4.3" fill="url(#rw_rock2)" transform="rotate(-3 346.7 568.2)"/>
<ellipse cx="336.3" cy="568.4" rx="5.7" ry="4.4" fill="url(#rw_rock2)" transform="rotate(-12 336.3 568.4)"/>
<ellipse cx="322.4" cy="568.4" rx="7.3" ry="6.8" fill="url(#rw_rock2)" transform="rotate(15 322.4 568.4)"/>
<ellipse cx="387.5" cy="568.5" rx="5.8" ry="5.4" fill="url(#rw_rock2)" transform="rotate(12 387.5 568.5)"/>
<ellipse cx="330.1" cy="568.5" rx="4.7" ry="3.2" fill="url(#rw_rock2)" transform="rotate(-21 330.1 568.5)"/>
<ellipse cx="353.7" cy="568.6" rx="4.2" ry="3.2" fill="url(#rw_rock2)" transform="rotate(6 353.7 568.6)"/>
<ellipse cx="350.6" cy="569.3" rx="4.6" ry="3.1" fill="url(#rw_rock2)" transform="rotate(-10 350.6 569.3)"/>
<ellipse cx="236.5" cy="569.5" rx="5.5" ry="5.0" fill="url(#rw_rock2)" transform="rotate(23 236.5 569.5)"/>
<ellipse cx="336.0" cy="569.5" rx="6.8" ry="5.0" fill="url(#rw_rock2)" transform="rotate(19 336.0 569.5)"/>
<ellipse cx="337.2" cy="569.5" rx="4.8" ry="4.0" fill="url(#rw_rock2)" transform="rotate(2 337.2 569.5)"/>
<ellipse cx="284.5" cy="569.5" rx="4.7" ry="3.8" fill="url(#rw_rock2)" transform="rotate(-14 284.5 569.5)"/>
<ellipse cx="227.8" cy="569.7" rx="6.7" ry="4.9" fill="url(#rw_rock2)" transform="rotate(17 227.8 569.7)"/>
<ellipse cx="231.8" cy="569.7" rx="4.5" ry="2.9" fill="url(#rw_rock2)" transform="rotate(-4 231.8 569.7)"/>
<ellipse cx="193.4" cy="569.7" rx="7.1" ry="5.9" fill="url(#rw_rock2)" transform="rotate(-15 193.4 569.7)"/>
<ellipse cx="346.0" cy="569.8" rx="5.7" ry="4.2" fill="url(#rw_rock2)" transform="rotate(10 346.0 569.8)"/>
<ellipse cx="339.7" cy="569.9" rx="4.9" ry="3.4" fill="url(#rw_rock2)" transform="rotate(30 339.7 569.9)"/>
<ellipse cx="274.4" cy="570.3" rx="3.9" ry="2.7" fill="url(#rw_rock2)" transform="rotate(-11 274.4 570.3)"/>
<ellipse cx="184.3" cy="571.0" rx="5.0" ry="4.1" fill="url(#rw_rock2)" transform="rotate(-0 184.3 571.0)"/>
<ellipse cx="318.8" cy="571.0" rx="4.4" ry="3.9" fill="url(#rw_rock2)" transform="rotate(13 318.8 571.0)"/>
<ellipse cx="306.7" cy="571.1" rx="4.5" ry="3.1" fill="url(#rw_rock2)" transform="rotate(-23 306.7 571.1)"/>
<ellipse cx="333.5" cy="571.2" rx="5.7" ry="4.8" fill="url(#rw_rock2)" transform="rotate(13 333.5 571.2)"/>
<ellipse cx="232.5" cy="571.3" rx="4.7" ry="4.3" fill="url(#rw_rock2)" transform="rotate(24 232.5 571.3)"/>
<ellipse cx="373.4" cy="571.3" rx="5.6" ry="3.8" fill="url(#rw_rock2)" transform="rotate(-20 373.4 571.3)"/>
<ellipse cx="367.9" cy="571.8" rx="6.5" ry="4.3" fill="url(#rw_rock2)" transform="rotate(7 367.9 571.8)"/>
<ellipse cx="187.6" cy="571.8" rx="6.5" ry="4.2" fill="url(#rw_rock2)" transform="rotate(-21 187.6 571.8)"/>
<ellipse cx="294.2" cy="571.8" rx="4.7" ry="3.7" fill="url(#rw_rock2)" transform="rotate(21 294.2 571.8)"/>
<ellipse cx="224.8" cy="572.1" rx="6.8" ry="5.2" fill="url(#rw_rock2)" transform="rotate(-29 224.8 572.1)"/>
<ellipse cx="249.5" cy="572.1" rx="5.8" ry="4.1" fill="url(#rw_rock2)" transform="rotate(-13 249.5 572.1)"/>
<ellipse cx="348.5" cy="572.4" rx="7.2" ry="5.3" fill="url(#rw_rock2)" transform="rotate(-6 348.5 572.4)"/>
<ellipse cx="228.0" cy="572.5" rx="6.3" ry="5.8" fill="url(#rw_rock2)" transform="rotate(-26 228.0 572.5)"/>
<ellipse cx="287.1" cy="572.6" rx="6.0" ry="5.1" fill="url(#rw_rock2)" transform="rotate(-22 287.1 572.6)"/>
<ellipse cx="187.7" cy="572.6" rx="4.2" ry="3.1" fill="url(#rw_rock2)" transform="rotate(-10 187.7 572.6)"/>
<ellipse cx="210.1" cy="572.7" rx="6.4" ry="6.0" fill="url(#rw_rock2)" transform="rotate(10 210.1 572.7)"/>
<ellipse cx="327.0" cy="572.8" rx="5.4" ry="5.1" fill="url(#rw_rock2)" transform="rotate(26 327.0 572.8)"/>
<ellipse cx="312.2" cy="572.9" rx="5.4" ry="4.3" fill="url(#rw_rock2)" transform="rotate(1 312.2 572.9)"/>
<ellipse cx="186.7" cy="573.0" rx="4.2" ry="3.5" fill="url(#rw_rock2)" transform="rotate(13 186.7 573.0)"/>
<ellipse cx="193.6" cy="573.1" rx="5.6" ry="4.6" fill="url(#rw_rock2)" transform="rotate(25 193.6 573.1)"/>
<ellipse cx="308.0" cy="573.2" rx="6.1" ry="5.2" fill="url(#rw_rock2)" transform="rotate(23 308.0 573.2)"/>
<ellipse cx="329.3" cy="573.2" rx="6.5" ry="5.1" fill="url(#rw_rock2)" transform="rotate(27 329.3 573.2)"/>
<ellipse cx="334.1" cy="573.5" rx="7.3" ry="4.9" fill="url(#rw_rock2)" transform="rotate(30 334.1 573.5)"/>
<ellipse cx="191.2" cy="573.7" rx="4.4" ry="4.0" fill="url(#rw_rock2)" transform="rotate(9 191.2 573.7)"/>
<ellipse cx="344.2" cy="573.8" rx="6.7" ry="5.0" fill="url(#rw_rock2)" transform="rotate(-13 344.2 573.8)"/>
<ellipse cx="362.8" cy="574.1" rx="4.5" ry="3.1" fill="url(#rw_rock2)" transform="rotate(-23 362.8 574.1)"/>
<ellipse cx="276.2" cy="574.1" rx="4.4" ry="4.0" fill="url(#rw_rock2)" transform="rotate(2 276.2 574.1)"/>
<ellipse cx="333.9" cy="574.3" rx="7.0" ry="6.6" fill="url(#rw_rock2)" transform="rotate(-4 333.9 574.3)"/>
<ellipse cx="245.1" cy="574.4" rx="4.5" ry="4.1" fill="url(#rw_rock2)" transform="rotate(-23 245.1 574.4)"/>
<ellipse cx="361.7" cy="574.6" rx="5.7" ry="5.2" fill="url(#rw_rock2)" transform="rotate(-23 361.7 574.6)"/>
<ellipse cx="182.3" cy="574.7" rx="4.8" ry="4.1" fill="url(#rw_rock2)" transform="rotate(-24 182.3 574.7)"/>
<ellipse cx="319.1" cy="575.0" rx="7.0" ry="6.1" fill="url(#rw_rock2)" transform="rotate(3 319.1 575.0)"/>
<ellipse cx="255.1" cy="575.0" rx="6.7" ry="4.6" fill="url(#rw_rock2)" transform="rotate(21 255.1 575.0)"/>
<ellipse cx="293.8" cy="575.1" rx="5.8" ry="4.4" fill="url(#rw_rock2)" transform="rotate(19 293.8 575.1)"/>
<ellipse cx="181.5" cy="575.3" rx="5.5" ry="3.6" fill="url(#rw_rock2)" transform="rotate(12 181.5 575.3)"/>
<ellipse cx="238.5" cy="575.3" rx="3.9" ry="3.2" fill="url(#rw_rock2)" transform="rotate(-17 238.5 575.3)"/>
<ellipse cx="260.1" cy="575.4" rx="5.3" ry="4.1" fill="url(#rw_rock2)" transform="rotate(12 260.1 575.4)"/>
<ellipse cx="175.5" cy="575.5" rx="6.2" ry="4.7" fill="url(#rw_rock2)" transform="rotate(-16 175.5 575.5)"/>
<ellipse cx="233.0" cy="575.7" rx="6.7" ry="4.5" fill="url(#rw_rock2)" transform="rotate(5 233.0 575.7)"/>
<ellipse cx="197.8" cy="575.7" rx="6.5" ry="5.4" fill="url(#rw_rock2)" transform="rotate(-28 197.8 575.7)"/>
<ellipse cx="231.1" cy="575.8" rx="4.1" ry="3.5" fill="url(#rw_rock2)" transform="rotate(17 231.1 575.8)"/>
<ellipse cx="230.3" cy="576.0" rx="6.1" ry="5.8" fill="url(#rw_rock2)" transform="rotate(12 230.3 576.0)"/>
<ellipse cx="254.5" cy="576.1" rx="5.4" ry="5.0" fill="url(#rw_rock2)" transform="rotate(-16 254.5 576.1)"/>
<ellipse cx="285.4" cy="576.1" rx="4.2" ry="3.2" fill="url(#rw_rock2)" transform="rotate(-28 285.4 576.1)"/>
<ellipse cx="196.7" cy="576.2" rx="5.9" ry="4.8" fill="url(#rw_rock2)" transform="rotate(-19 196.7 576.2)"/>
<ellipse cx="252.1" cy="576.3" rx="6.1" ry="4.8" fill="url(#rw_rock2)" transform="rotate(12 252.1 576.3)"/>
<ellipse cx="320.8" cy="576.6" rx="6.7" ry="6.0" fill="url(#rw_rock2)" transform="rotate(11 320.8 576.6)"/>
<ellipse cx="315.7" cy="577.1" rx="4.2" ry="3.4" fill="url(#rw_rock2)" transform="rotate(10 315.7 577.1)"/>
<ellipse cx="242.4" cy="577.6" rx="4.5" ry="3.4" fill="url(#rw_rock2)" transform="rotate(1 242.4 577.6)"/>
<ellipse cx="325.1" cy="577.7" rx="4.8" ry="3.2" fill="url(#rw_rock2)" transform="rotate(-13 325.1 577.7)"/>
<ellipse cx="296.9" cy="577.8" rx="5.3" ry="4.7" fill="url(#rw_rock2)" transform="rotate(29 296.9 577.8)"/>
<ellipse cx="318.9" cy="578.0" rx="6.9" ry="6.4" fill="url(#rw_rock2)" transform="rotate(29 318.9 578.0)"/>
<ellipse cx="348.0" cy="579.3" rx="5.7" ry="4.8" fill="url(#rw_rock2)" transform="rotate(-28 348.0 579.3)"/>
<ellipse cx="236.1" cy="579.4" rx="6.5" ry="5.8" fill="url(#rw_rock2)" transform="rotate(-9 236.1 579.4)"/>
<ellipse cx="228.3" cy="579.4" rx="6.1" ry="4.1" fill="url(#rw_rock2)" transform="rotate(26 228.3 579.4)"/>
<ellipse cx="347.7" cy="580.0" rx="5.4" ry="4.2" fill="url(#rw_rock2)" transform="rotate(-17 347.7 580.0)"/>
<ellipse cx="235.1" cy="580.0" rx="7.0" ry="6.6" fill="url(#rw_rock2)" transform="rotate(-5 235.1 580.0)"/>
<ellipse cx="278.0" cy="580.0" rx="5.7" ry="4.2" fill="url(#rw_rock2)" transform="rotate(12 278.0 580.0)"/>
<ellipse cx="272.8" cy="580.0" rx="6.1" ry="5.5" fill="url(#rw_rock2)" transform="rotate(-29 272.8 580.0)"/>
<ellipse cx="218.7" cy="580.4" rx="5.7" ry="5.3" fill="url(#rw_rock2)" transform="rotate(-29 218.7 580.4)"/>
<ellipse cx="311.5" cy="581.2" rx="6.1" ry="4.7" fill="url(#rw_rock2)" transform="rotate(-23 311.5 581.2)"/>
<ellipse cx="359.3" cy="581.2" rx="4.9" ry="4.6" fill="url(#rw_rock2)" transform="rotate(-17 359.3 581.2)"/>
<ellipse cx="309.0" cy="581.2" rx="5.6" ry="5.1" fill="url(#rw_rock2)" transform="rotate(-23 309.0 581.2)"/>
<ellipse cx="348.1" cy="581.4" rx="3.9" ry="3.2" fill="url(#rw_rock2)" transform="rotate(7 348.1 581.4)"/>
<ellipse cx="220.7" cy="581.5" rx="3.9" ry="3.6" fill="url(#rw_rock2)" transform="rotate(16 220.7 581.5)"/>
<ellipse cx="300.7" cy="581.6" rx="6.0" ry="4.3" fill="url(#rw_rock2)" transform="rotate(25 300.7 581.6)"/>
<ellipse cx="235.6" cy="581.6" rx="4.6" ry="4.4" fill="url(#rw_rock2)" transform="rotate(3 235.6 581.6)"/>
<ellipse cx="189.3" cy="581.8" rx="7.2" ry="5.8" fill="url(#rw_rock2)" transform="rotate(6 189.3 581.8)"/>
<ellipse cx="195.3" cy="581.9" rx="7.3" ry="5.7" fill="url(#rw_rock2)" transform="rotate(-11 195.3 581.9)"/>
<ellipse cx="319.0" cy="582.2" rx="7.4" ry="7.0" fill="url(#rw_rock2)" transform="rotate(-22 319.0 582.2)"/>
<ellipse cx="252.3" cy="582.3" rx="7.0" ry="6.1" fill="url(#rw_rock2)" transform="rotate(-17 252.3 582.3)"/>
<ellipse cx="360.0" cy="582.3" rx="4.7" ry="3.1" fill="url(#rw_rock2)" transform="rotate(20 360.0 582.3)"/>
<ellipse cx="202.4" cy="582.4" rx="4.1" ry="3.7" fill="url(#rw_rock2)" transform="rotate(18 202.4 582.4)"/>
<ellipse cx="267.3" cy="582.5" rx="7.5" ry="5.1" fill="url(#rw_rock2)" transform="rotate(19 267.3 582.5)"/>
<ellipse cx="335.4" cy="582.6" rx="4.1" ry="2.8" fill="url(#rw_rock2)" transform="rotate(21 335.4 582.6)"/>
<ellipse cx="293.1" cy="582.7" rx="4.3" ry="3.8" fill="url(#rw_rock2)" transform="rotate(29 293.1 582.7)"/>
<ellipse cx="377.6" cy="583.0" rx="5.6" ry="4.3" fill="url(#rw_rock2)" transform="rotate(24 377.6 583.0)"/>
<ellipse cx="249.3" cy="583.1" rx="6.2" ry="5.8" fill="url(#rw_rock2)" transform="rotate(11 249.3 583.1)"/>
<ellipse cx="198.1" cy="583.4" rx="5.5" ry="3.6" fill="url(#rw_rock2)" transform="rotate(24 198.1 583.4)"/>
<ellipse cx="351.2" cy="583.4" rx="6.6" ry="4.6" fill="url(#rw_rock2)" transform="rotate(11 351.2 583.4)"/>
<ellipse cx="317.9" cy="583.7" rx="4.8" ry="3.8" fill="url(#rw_rock2)" transform="rotate(-20 317.9 583.7)"/>
<ellipse cx="241.2" cy="584.0" rx="4.1" ry="3.2" fill="url(#rw_rock2)" transform="rotate(13 241.2 584.0)"/>
<ellipse cx="376.6" cy="584.1" rx="6.4" ry="5.8" fill="url(#rw_rock2)" transform="rotate(25 376.6 584.1)"/>
<ellipse cx="321.8" cy="584.6" rx="6.6" ry="4.8" fill="url(#rw_rock2)" transform="rotate(16 321.8 584.6)"/>
<ellipse cx="241.8" cy="584.8" rx="6.5" ry="4.5" fill="url(#rw_rock2)" transform="rotate(-29 241.8 584.8)"/>
<ellipse cx="259.5" cy="584.8" rx="7.2" ry="5.0" fill="url(#rw_rock2)" transform="rotate(22 259.5 584.8)"/>
<ellipse cx="318.0" cy="584.9" rx="7.3" ry="5.7" fill="url(#rw_rock2)" transform="rotate(2 318.0 584.9)"/>
<ellipse cx="296.8" cy="585.0" rx="4.1" ry="2.7" fill="url(#rw_rock2)" transform="rotate(21 296.8 585.0)"/>
<ellipse cx="363.3" cy="585.2" rx="6.1" ry="4.4" fill="url(#rw_rock2)" transform="rotate(-18 363.3 585.2)"/>
<ellipse cx="361.3" cy="585.2" rx="4.1" ry="3.6" fill="url(#rw_rock2)" transform="rotate(-14 361.3 585.2)"/>
<ellipse cx="336.8" cy="585.2" rx="4.0" ry="3.6" fill="url(#rw_rock2)" transform="rotate(-11 336.8 585.2)"/>
<ellipse cx="334.1" cy="585.6" rx="4.4" ry="3.6" fill="url(#rw_rock2)" transform="rotate(-8 334.1 585.6)"/>
<ellipse cx="322.6" cy="585.8" rx="5.7" ry="4.5" fill="url(#rw_rock2)" transform="rotate(2 322.6 585.8)"/>
<ellipse cx="359.4" cy="586.1" rx="4.8" ry="3.8" fill="url(#rw_rock2)" transform="rotate(27 359.4 586.1)"/>
<ellipse cx="284.2" cy="586.6" rx="4.6" ry="3.6" fill="url(#rw_rock2)" transform="rotate(-2 284.2 586.6)"/>
<ellipse cx="275.5" cy="586.6" rx="5.5" ry="4.1" fill="url(#rw_rock2)" transform="rotate(8 275.5 586.6)"/>
<ellipse cx="265.4" cy="586.9" rx="7.3" ry="5.0" fill="url(#rw_rock2)" transform="rotate(-3 265.4 586.9)"/>
<ellipse cx="371.7" cy="587.4" rx="7.4" ry="4.8" fill="url(#rw_rock2)" transform="rotate(12 371.7 587.4)"/>
<ellipse cx="272.0" cy="587.5" rx="5.2" ry="4.1" fill="url(#rw_rock2)" transform="rotate(14 272.0 587.5)"/>
<ellipse cx="282.9" cy="587.8" rx="4.7" ry="3.2" fill="url(#rw_rock2)" transform="rotate(8 282.9 587.8)"/>
<ellipse cx="233.3" cy="588.7" rx="7.5" ry="5.9" fill="url(#rw_rock2)" transform="rotate(26 233.3 588.7)"/>
<ellipse cx="279.9" cy="588.8" rx="5.7" ry="4.9" fill="url(#rw_rock2)" transform="rotate(10 279.9 588.8)"/>
<ellipse cx="320.5" cy="589.0" rx="6.6" ry="5.6" fill="url(#rw_rock2)" transform="rotate(11 320.5 589.0)"/>
<ellipse cx="352.8" cy="589.0" rx="6.4" ry="4.7" fill="url(#rw_rock2)" transform="rotate(23 352.8 589.0)"/>
<ellipse cx="304.9" cy="589.6" rx="6.1" ry="4.8" fill="url(#rw_rock2)" transform="rotate(8 304.9 589.6)"/>
<ellipse cx="318.7" cy="589.7" rx="5.1" ry="3.7" fill="url(#rw_rock2)" transform="rotate(25 318.7 589.7)"/>
<ellipse cx="326.5" cy="589.9" rx="4.6" ry="3.5" fill="url(#rw_rock2)" transform="rotate(5 326.5 589.9)"/>
<ellipse cx="288.4" cy="590.1" rx="5.6" ry="3.8" fill="url(#rw_rock2)" transform="rotate(-14 288.4 590.1)"/>
<ellipse cx="332.3" cy="590.9" rx="6.6" ry="4.6" fill="url(#rw_rock2)" transform="rotate(-1 332.3 590.9)"/>
<ellipse cx="327.2" cy="591.0" rx="4.2" ry="2.8" fill="url(#rw_rock2)" transform="rotate(29 327.2 591.0)"/>
<ellipse cx="278.8" cy="591.1" rx="5.4" ry="4.3" fill="url(#rw_rock2)" transform="rotate(-26 278.8 591.1)"/>
<ellipse cx="314.9" cy="591.1" rx="4.4" ry="3.5" fill="url(#rw_rock2)" transform="rotate(26 314.9 591.1)"/>
<ellipse cx="289.0" cy="591.3" rx="7.3" ry="5.6" fill="url(#rw_rock2)" transform="rotate(1 289.0 591.3)"/>
<ellipse cx="282.9" cy="591.4" rx="4.6" ry="4.2" fill="url(#rw_rock2)" transform="rotate(-22 282.9 591.4)"/>
<ellipse cx="306.2" cy="591.5" rx="4.9" ry="3.5" fill="url(#rw_rock2)" transform="rotate(14 306.2 591.5)"/>
<ellipse cx="345.0" cy="591.6" rx="7.0" ry="5.5" fill="url(#rw_rock2)" transform="rotate(-10 345.0 591.6)"/>
<ellipse cx="268.7" cy="591.6" rx="7.2" ry="4.9" fill="url(#rw_rock2)" transform="rotate(16 268.7 591.6)"/>
<ellipse cx="323.4" cy="591.9" rx="5.0" ry="4.6" fill="url(#rw_rock2)" transform="rotate(-15 323.4 591.9)"/>
<ellipse cx="276.2" cy="592.0" rx="7.0" ry="6.4" fill="url(#rw_rock2)" transform="rotate(-11 276.2 592.0)"/>
<ellipse cx="273.0" cy="592.1" rx="4.6" ry="3.8" fill="url(#rw_rock2)" transform="rotate(-25 273.0 592.1)"/>
<ellipse cx="315.8" cy="592.2" rx="5.9" ry="4.4" fill="url(#rw_rock2)" transform="rotate(10 315.8 592.2)"/>
<ellipse cx="291.2" cy="592.2" rx="4.2" ry="3.6" fill="url(#rw_rock2)" transform="rotate(-14 291.2 592.2)"/>
<ellipse cx="348.0" cy="592.2" rx="5.9" ry="5.1" fill="url(#rw_rock2)" transform="rotate(-20 348.0 592.2)"/>
<ellipse cx="348.7" cy="592.7" rx="5.0" ry="4.3" fill="url(#rw_rock2)" transform="rotate(11 348.7 592.7)"/>
<ellipse cx="327.0" cy="593.0" rx="7.1" ry="4.7" fill="url(#rw_rock2)" transform="rotate(-7 327.0 593.0)"/>
<ellipse cx="324.5" cy="593.2" rx="5.1" ry="4.7" fill="url(#rw_rock2)" transform="rotate(-0 324.5 593.2)"/>
<ellipse cx="351.7" cy="593.9" rx="5.0" ry="3.5" fill="url(#rw_rock2)" transform="rotate(-3 351.7 593.9)"/>
<ellipse cx="355.7" cy="594.4" rx="5.1" ry="3.3" fill="url(#rw_rock2)" transform="rotate(8 355.7 594.4)"/>
<ellipse cx="341.9" cy="594.5" rx="7.1" ry="5.5" fill="url(#rw_rock2)" transform="rotate(-3 341.9 594.5)"/>
<ellipse cx="331.4" cy="594.9" rx="7.1" ry="6.6" fill="url(#rw_rock2)" transform="rotate(28 331.4 594.9)"/>
<ellipse cx="346.6" cy="596.0" rx="6.6" ry="4.6" fill="url(#rw_rock2)" transform="rotate(-8 346.6 596.0)"/>
<ellipse cx="324.7" cy="596.3" rx="5.1" ry="4.5" fill="url(#rw_rock2)" transform="rotate(17 324.7 596.3)"/>
<ellipse cx="327.1" cy="596.6" rx="6.8" ry="4.8" fill="url(#rw_rock2)" transform="rotate(-16 327.1 596.6)"/>
<ellipse cx="342.1" cy="596.8" rx="7.5" ry="5.6" fill="url(#rw_rock2)" transform="rotate(6 342.1 596.8)"/>
<defs><linearGradient id="fp_g" x1="0" y1="0" x2="1" y2="0" ><stop offset="0" stop-color="#1d8347"/><stop offset="0.45" stop-color="#40bb73"/><stop offset="1" stop-color="#1b7a42"/></linearGradient><linearGradient id="fp_gh" x1="0" y1="0" x2="0" y2="1" ><stop offset="0" stop-color="#2fa862"/><stop offset="0.5" stop-color="#45c078"/><stop offset="1" stop-color="#23914f"/></linearGradient><linearGradient id="fp_gdk" x1="0" y1="0" x2="1" y2="0" ><stop offset="0" stop-color="#125a2e"/><stop offset="0.45" stop-color="#2b9456"/><stop offset="1" stop-color="#11552b"/></linearGradient><linearGradient id="fp_plate" x1="1" y1="0" x2="0" y2="1" ><stop offset="0" stop-color="#1d6b3a"/><stop offset="0.5" stop-color="#2a9a55"/><stop offset="1" stop-color="#35ad64"/></linearGradient><linearGradient id="fp_slab" x1="0" y1="0" x2="0" y2="1" ><stop offset="0" stop-color="#cacbcd"/><stop offset="0.72" stop-color="#b9babc"/><stop offset="0.73" stop-color="#9c9d9f"/><stop offset="1" stop-color="#98999c"/></linearGradient><linearGradient id="fp_silh" x1="0" y1="0" x2="0" y2="1" ><stop offset="0" stop-color="#bfc0c2"/><stop offset="0.3" stop-color="#f5f5f6"/><stop offset="0.65" stop-color="#d2d3d5"/><stop offset="1" stop-color="#8d8e91"/></linearGradient><linearGradient id="fp_silv" x1="0" y1="0" x2="1" y2="0" ><stop offset="0" stop-color="#9fa0a2"/><stop offset="0.45" stop-color="#f6f6f7"/><stop offset="1" stop-color="#a7a8aa"/></linearGradient><linearGradient id="fp_blue" x1="0" y1="0" x2="0" y2="1" ><stop offset="0" stop-color="#0b4b96"/><stop offset="0.4" stop-color="#1c6cc2"/><stop offset="1" stop-color="#0a4288"/></linearGradient><linearGradient id="fp_red" x1="0" y1="0" x2="0" y2="1" ><stop offset="0" stop-color="#7f1015"/><stop offset="0.4" stop-color="#c4262c"/><stop offset="1" stop-color="#8a1117"/></linearGradient><linearGradient id="fp_grille" x1="0" y1="0" x2="0" y2="1" ><stop offset="0" stop-color="#4b4c4f"/><stop offset="0.75" stop-color="#6d6e71"/><stop offset="0.76" stop-color="#8c8d90"/><stop offset="1" stop-color="#e2e2e3"/></linearGradient><pattern id="fp_perf" patternUnits="userSpaceOnUse" width="3" height="3"><rect width="3" height="3" fill="#8e8f92"/><circle cx="1.5" cy="1.5" r="0.9" fill="#3a3a3d"/></pattern><pattern id="fp_joint" patternUnits="userSpaceOnUse" width="4" height="12.5" y="2"><rect width="4" height="12.5" fill="#dcdcde"/><rect y="2.5" width="4" height="8" fill="#151515"/></pattern></defs>
<rect x="620.0" y="343.0" width="19.5" height="47.0" fill="url(#fp_g)" />
<path d="M621,299.8 L622.6,294.8 Q625.0,289.8 629.0,289.8 Q633.0,289.8 635.4,294.8 L637,299.8 Z" fill="url(#fp_g)"/>
<rect x="612" y="299.8" width="29.399999999999977" height="43.19999999999999" rx="3" fill="url(#fp_g)"/>
<rect x="612.0" y="305.0" width="29.4" height="2.2" fill="url(#fp_gdk)" />
<rect x="612.0" y="334.4" width="29.4" height="5.2" fill="url(#fp_gdk)" />
<polygon points="612,343 641.4,343 638.4,353 618,353" fill="url(#fp_gdk)"/>
<rect x="606.0" y="356.3" width="21.8" height="58.7" fill="url(#fp_g)" />
<path d="M603,297.3 L605.3,290.65 Q608.75,284 614.5,284 Q620.25,284 623.7,290.65 L626,297.3 Z" fill="url(#fp_g)"/>
<rect x="598" y="297.3" width="32.799999999999955" height="59.0" rx="3" fill="url(#fp_g)"/>
<rect x="598.0" y="304.4" width="32.8" height="3.0" fill="url(#fp_gdk)" />
<rect x="598.0" y="344.5" width="32.8" height="7.1" fill="url(#fp_gdk)" />
<polygon points="598,356.3 630.8,356.3 627.8,366.3 604,366.3" fill="url(#fp_gdk)"/>
<rect x="590.0" y="373.7" width="19.6" height="126.3" fill="url(#fp_g)" />
<path d="M580,294.8 L583.0,285.70000000000005 Q587.5,276.6 595.0,276.6 Q602.5,276.6 607.0,285.70000000000005 L610,294.8 Z" fill="url(#fp_g)"/>
<rect x="582" y="294.8" width="31.700000000000045" height="78.89999999999998" rx="3" fill="url(#fp_g)"/>
<rect x="582.0" y="304.3" width="31.7" height="3.9" fill="url(#fp_gdk)" />
<rect x="582.0" y="357.9" width="31.7" height="9.5" fill="url(#fp_gdk)" />
<polygon points="582,373.7 613.7,373.7 610.7,383.7 588,383.7" fill="url(#fp_gdk)"/>
<rect x="586.0" y="387.0" width="9.0" height="28.0" fill="url(#fp_grille)" />
<rect x="609.0" y="366.0" width="8.0" height="19.0" fill="url(#fp_grille)" />
<rect x="583.0" y="500.0" width="54.0" height="15.2" fill="url(#fp_slab)" />
<rect x="583.0" y="489.5" width="48.3" height="11.5" fill="url(#fp_plate)" />
<rect x="638.5" y="364.6" width="11.0" height="22.4" fill="url(#fp_gh)" />
<rect x="649.5" y="365.6" width="19.5" height="20.4" fill="url(#fp_silh)" />
<rect x="648.0" y="362.6" width="3.5" height="26.4" fill="#d9dadc" />
<rect x="669.0" y="363.0" width="11.0" height="26.0" fill="url(#fp_joint)" />
<rect x="669.0" y="363.0" width="2.0" height="26.0" fill="#c8c9cb" />
<rect x="678.0" y="363.0" width="2.0" height="26.0" fill="#c8c9cb" />
<rect x="680.0" y="365.6" width="3.7" height="20.4" fill="url(#fp_silh)" />
<rect x="683.7" y="365.6" width="13.3" height="19.4" fill="url(#fp_blue)" />
<rect x="697.0" y="360.0" width="19.6" height="26.0" fill="url(#fp_red)" />
<radialGradient id="fp_elb4" gradientUnits="userSpaceOnUse" cx="716.6" cy="389.8" r="24.19999999999999"><stop offset="0.157" stop-color="#8e8f92"/><stop offset="0.529" stop-color="#f7f7f8"/><stop offset="1" stop-color="#a3a4a6"/></radialGradient>
<path d="M716.6,365.6 A24.19999999999999,24.19999999999999 0 0 1 740.8,389.8 L720.4000000000001,389.8 A3.8000000000000114,3.8000000000000114 0 0 0 716.6,386.0 Z" fill="url(#fp_elb4)"/>
<line x1="718.5" y1="386.5" x2="728.7" y2="368.8" stroke="#8a8b8e" stroke-width="1"/>
<line x1="719.9" y1="387.9" x2="737.6" y2="377.7" stroke="#8a8b8e" stroke-width="1"/>
<rect x="693.4" y="354.6" width="11" height="8" fill="url(#fp_red)"/>
<rect x="627.6" y="387.8" width="14.4" height="26.2" fill="url(#fp_gh)" />
<rect x="642.0" y="388.8" width="27.0" height="24.2" fill="url(#fp_silh)" />
<rect x="640.5" y="385.8" width="3.5" height="30.2" fill="#d9dadc" />
<rect x="669.0" y="385.0" width="13.4" height="31.0" fill="url(#fp_joint)" />
<rect x="669.0" y="385.0" width="2.0" height="31.0" fill="#c8c9cb" />
<rect x="680.4" y="385.0" width="2.0" height="31.0" fill="#c8c9cb" />
<rect x="682.4" y="388.8" width="4.9" height="24.2" fill="url(#fp_silh)" />
<rect x="687.3" y="386.0" width="19.7" height="28.0" fill="url(#fp_blue)" />
<rect x="707.0" y="390.0" width="22.3" height="24.0" fill="url(#fp_red)" />
<radialGradient id="fp_elb3" gradientUnits="userSpaceOnUse" cx="729.3" cy="419.9" r="31.099999999999994"><stop offset="0.222" stop-color="#8e8f92"/><stop offset="0.561" stop-color="#f7f7f8"/><stop offset="1" stop-color="#a3a4a6"/></radialGradient>
<path d="M729.3,388.79999999999995 A31.099999999999994,31.099999999999994 0 0 1 760.4,419.9 L736.1999999999999,419.9 A6.900000000000006,6.900000000000006 0 0 0 729.3,413.0 Z" fill="url(#fp_elb3)"/>
<line x1="732.8" y1="413.9" x2="744.8" y2="393.0" stroke="#8a8b8e" stroke-width="1"/>
<line x1="735.3" y1="416.4" x2="756.2" y2="404.3" stroke="#8a8b8e" stroke-width="1"/>
<rect x="713" y="383" width="14" height="10" fill="url(#fp_red)"/>
<rect x="609.0" y="413.4" width="21.0" height="36.2" fill="url(#fp_gh)" />
<rect x="630.0" y="414.4" width="36.6" height="34.2" fill="url(#fp_silh)" />
<rect x="628.5" y="411.4" width="3.5" height="40.2" fill="#d9dadc" />
<rect x="666.6" y="411.0" width="19.4" height="41.0" fill="url(#fp_joint)" />
<rect x="666.6" y="411.0" width="2.0" height="41.0" fill="#c8c9cb" />
<rect x="684.0" y="411.0" width="2.0" height="41.0" fill="#c8c9cb" />
<rect x="686.0" y="414.4" width="6.0" height="34.2" fill="url(#fp_silh)" />
<rect x="692.0" y="414.4" width="24.6" height="37.6" fill="url(#fp_blue)" />
<rect x="716.6" y="419.0" width="34.1" height="32.0" fill="url(#fp_red)" />
<radialGradient id="fp_elb2" gradientUnits="userSpaceOnUse" cx="750.7" cy="459.5" r="45.10000000000002"><stop offset="0.242" stop-color="#8e8f92"/><stop offset="0.571" stop-color="#f7f7f8"/><stop offset="1" stop-color="#a3a4a6"/></radialGradient>
<path d="M750.7,414.4 A45.10000000000002,45.10000000000002 0 0 1 795.8000000000001,459.5 L761.6,459.5 A10.899999999999977,10.899999999999977 0 0 0 750.7,448.6 Z" fill="url(#fp_elb2)"/>
<line x1="756.1" y1="450.1" x2="773.2" y2="420.4" stroke="#8a8b8e" stroke-width="1"/>
<line x1="760.1" y1="454.1" x2="789.8" y2="436.9" stroke="#8a8b8e" stroke-width="1"/>
<rect x="730" y="404" width="18" height="16" fill="url(#fp_red)"/>
<rect x="724.0" y="498.7" width="44.0" height="9.7" fill="url(#fp_slab)" />
<rect x="742.3" y="541.2" width="102.3" height="36.6" fill="url(#fp_slab)" />
<rect x="582.4" y="451.0" width="30.6" height="48.7" fill="url(#fp_gh)" />
<rect x="613.0" y="452.0" width="47.5" height="46.7" fill="url(#fp_silh)" />
<rect x="611.5" y="449.0" width="3.5" height="52.7" fill="#d9dadc" />
<rect x="660.5" y="447.3" width="29.3" height="61.1" fill="url(#fp_joint)" />
<rect x="660.5" y="447.3" width="2.0" height="61.1" fill="#c8c9cb" />
<rect x="687.8" y="447.3" width="2.0" height="61.1" fill="#c8c9cb" />
<rect x="689.8" y="452.0" width="7.2" height="46.7" fill="url(#fp_silh)" />
<rect x="697.0" y="451.0" width="35.5" height="55.0" fill="url(#fp_blue)" />
<rect x="732.5" y="445.0" width="22.7" height="61.0" fill="url(#fp_red)" />
<radialGradient id="fp_elb1" gradientUnits="userSpaceOnUse" cx="755.2" cy="514.35" r="62.349999999999994"><stop offset="0.251" stop-color="#8e8f92"/><stop offset="0.576" stop-color="#f7f7f8"/><stop offset="1" stop-color="#a3a4a6"/></radialGradient>
<path d="M755.2,452.0 A62.349999999999994,62.349999999999994 0 0 1 817.5500000000001,514.35 L770.85,514.35 A15.650000000000006,15.650000000000006 0 0 0 755.2,498.70000000000005 Z" fill="url(#fp_elb1)"/>
<line x1="763.0" y1="500.8" x2="786.4" y2="460.4" stroke="#8a8b8e" stroke-width="1"/>
<line x1="768.8" y1="506.5" x2="809.2" y2="483.2" stroke="#8a8b8e" stroke-width="1"/>
<rect x="770.85" y="513.85" width="46.69999999999999" height="52.44999999999993" fill="url(#fp_silv)"/>
<ellipse cx="794.2" cy="566.8" rx="23.349999999999994" ry="5.1" fill="url(#fp_silv)"/>
<line x1="770.85" y1="514.35" x2="817.5500000000001" y2="514.35" stroke="#8a8b8e" stroke-width="1"/>
<line x1="640" y1="486" x2="760" y2="486" stroke="#a0a1a3" stroke-width="1.6"/>
<rect x="493.6" y="517.7" width="127.0" height="70.9" fill="url(#fp_slab)" />
<rect x="500.2" y="521.0" width="112.8" height="48.1" fill="url(#fp_plate)" />
<ellipse cx="555.9" cy="545.5" rx="44.5" ry="19" fill="#1d7540"/>
<ellipse cx="555.9" cy="542.9" rx="44.5" ry="19" fill="#2f9e5a"/>
<ellipse cx="555.9" cy="542.9" rx="40" ry="16" fill="none" stroke="#c9cacc" stroke-width="2.2" stroke-dasharray="1.8 3.2"/>
<rect x="528.4" y="404.8" width="54.7" height="133.2" fill="url(#fp_g)" />
<ellipse cx="555.75" cy="538" rx="27.35" ry="6" fill="url(#fp_g)"/>
<rect x="526.9" y="403.5" width="57.1" height="4.5" fill="url(#fp_g)" />
<rect x="532.2" y="410.9" width="31.8" height="38.1" fill="url(#fp_grille)" />
<rect x="533.5" y="412.0" width="29.0" height="28.0" fill="url(#fp_perf)" />
<polygon points="527.4,391.5 583.8,391.5 574.7,404 538.1,404" fill="url(#fp_gdk)"/>
<rect x="523.2" y="282.4" width="65.1" height="109.6" rx="4" fill="url(#fp_g)"/>
<rect x="523.2" y="299.8" width="65.1" height="7.0" fill="url(#fp_gdk)" />
<rect x="523.2" y="371.6" width="65.1" height="12.6" fill="url(#fp_gdk)" />
<rect x="530.7" y="277.4" width="50.3" height="5.0" fill="url(#fp_gdk)" />
<path d="M535.7,277.6 L540,265.8 Q545,255.3 555.6,255.3 Q566,255.3 571,265.8 L575.5,277.6 Z" fill="url(#fp_g)"/>
<defs><linearGradient id="st_brown" x1="0" y1="0" x2="1" y2="0" ><stop offset="0" stop-color="#4f3117"/><stop offset="0.45" stop-color="#a97c52"/><stop offset="0.6" stop-color="#a27549"/><stop offset="1" stop-color="#5a3a1c"/></linearGradient><linearGradient id="st_brownh" x1="0" y1="0" x2="0" y2="1" ><stop offset="0" stop-color="#6d4726"/><stop offset="0.45" stop-color="#b08460"/><stop offset="1" stop-color="#5c3b1d"/></linearGradient><linearGradient id="st_blue" x1="0" y1="0" x2="1" y2="0" ><stop offset="0" stop-color="#1b4b8e"/><stop offset="0.5" stop-color="#3a6fbd"/><stop offset="1" stop-color="#1d4e92"/></linearGradient><linearGradient id="st_bluedk" x1="0" y1="0" x2="1" y2="0" ><stop offset="0" stop-color="#0e2f63"/><stop offset="0.5" stop-color="#21518f"/><stop offset="1" stop-color="#0e2f63"/></linearGradient><linearGradient id="st_rod" x1="0" y1="0" x2="1" y2="0" ><stop offset="0" stop-color="#102c5a"/><stop offset="0.5" stop-color="#2b5a9b"/><stop offset="1" stop-color="#0f2a57"/></linearGradient><linearGradient id="st_slab" x1="0" y1="0" x2="0" y2="1" ><stop offset="0" stop-color="#d2d3d5"/><stop offset="1" stop-color="#a2a3a6"/></linearGradient><linearGradient id="st_silv" x1="0" y1="0" x2="1" y2="0" ><stop offset="0" stop-color="#a3a4a6"/><stop offset="0.45" stop-color="#f8f8f9"/><stop offset="1" stop-color="#a9aaac"/></linearGradient><linearGradient id="st_silh" x1="0" y1="0" x2="0" y2="1" ><stop offset="0" stop-color="#c4c5c7"/><stop offset="0.3" stop-color="#f5f5f6"/><stop offset="0.65" stop-color="#d2d3d5"/><stop offset="1" stop-color="#8d8e91"/></linearGradient><linearGradient id="st_panel" x1="0" y1="0" x2="1" y2="0" ><stop offset="0" stop-color="#4f4738"/><stop offset="0.5" stop-color="#6d6350"/><stop offset="1" stop-color="#544b3b"/></linearGradient><linearGradient id="st_gp" x1="0" y1="0" x2="1" y2="0" ><stop offset="0" stop-color="#7f8083"/><stop offset="0.5" stop-color="#c2c3c5"/><stop offset="1" stop-color="#77787b"/></linearGradient></defs>
<rect x="1136.0" y="477.8" width="55.0" height="22.2" fill="url(#st_slab)" />
<rect x="1129.4" y="505.7" width="67.4" height="26.9" fill="url(#st_slab)" />
<rect x="1059.6" y="374.5" width="53.2" height="95.5" fill="url(#st_blue)" />
<rect x="1059.6" y="374.5" width="53.2" height="4.5" fill="url(#st_bluedk)" />
<rect x="1037.2" y="380.4" width="64.6" height="123.2" fill="url(#st_blue)" />
<rect x="1037.2" y="380.4" width="64.6" height="4.6" fill="url(#st_bluedk)" />
<radialGradient id="st_e3" gradientUnits="userSpaceOnUse" cx="1129.8" cy="446.5" r="37.5"><stop offset="0.280" stop-color="#8e8f92"/><stop offset="0.590" stop-color="#f7f7f8"/><stop offset="1" stop-color="#a3a4a6"/></radialGradient>
<path d="M1129.8,409.0 A37.5,37.5 0 0 1 1167.3,446.5 L1140.3,446.5 A10.5,10.5 0 0 0 1129.8,436.0 Z" fill="url(#st_e3)"/>
<line x1="1135.0" y1="437.4" x2="1148.5" y2="414.0" stroke="#8a8b8e" stroke-width="1"/>
<line x1="1138.9" y1="441.2" x2="1162.3" y2="427.8" stroke="#8a8b8e" stroke-width="1"/>
<rect x="1140.3" y="446.0" width="27.0" height="33.5" fill="url(#st_silv)"/>
<ellipse cx="1153.8" cy="480" rx="13.5" ry="3.0" fill="url(#st_silv)"/>
<line x1="1140.3" y1="446.5" x2="1167.3" y2="446.5" stroke="#8a8b8e" stroke-width="1"/>
<rect x="1112.0" y="406.0" width="18.0" height="33.0" fill="url(#st_silh)" />
<rect x="1110.0" y="404.0" width="5.0" height="37.0" fill="#2a5aa3" />
<radialGradient id="st_e2" gradientUnits="userSpaceOnUse" cx="1124.4" cy="466.45" r="44.55000000000001"><stop offset="0.347" stop-color="#8e8f92"/><stop offset="0.623" stop-color="#f7f7f8"/><stop offset="1" stop-color="#a3a4a6"/></radialGradient>
<path d="M1124.4,421.9 A44.55000000000001,44.55000000000001 0 0 1 1168.95,466.45 L1139.8500000000001,466.45 A15.449999999999989,15.449999999999989 0 0 0 1124.4,451.0 Z" fill="url(#st_e2)"/>
<line x1="1132.1" y1="453.1" x2="1146.7" y2="427.9" stroke="#8a8b8e" stroke-width="1"/>
<line x1="1137.8" y1="458.7" x2="1163.0" y2="444.2" stroke="#8a8b8e" stroke-width="1"/>
<rect x="1139.8500000000001" y="465.95" width="29.100000000000023" height="48.55000000000001" fill="url(#st_silv)"/>
<ellipse cx="1154.4" cy="515" rx="14.550000000000011" ry="3.2" fill="url(#st_silv)"/>
<line x1="1139.8500000000001" y1="466.45" x2="1168.95" y2="466.45" stroke="#8a8b8e" stroke-width="1"/>
<rect x="1108.0" y="419.0" width="17.0" height="35.0" fill="url(#st_silh)" />
<rect x="1104.0" y="416.0" width="6.0" height="40.0" fill="#2a5aa3" />
<rect x="1101.8" y="434.8" width="9.6" height="58.0" fill="#24509a" />
<rect x="1121.6" y="543.4" width="83.2" height="33.2" fill="url(#st_slab)" />
<radialGradient id="st_e1" gradientUnits="userSpaceOnUse" cx="1118" cy="510.85" r="69.65"><stop offset="0.321" stop-color="#8e8f92"/><stop offset="0.610" stop-color="#f7f7f8"/><stop offset="1" stop-color="#a3a4a6"/></radialGradient>
<path d="M1118,441.20000000000005 A69.65,69.65 0 0 1 1187.65,510.85 L1140.35,510.85 A22.349999999999994,22.349999999999994 0 0 0 1118,488.5 Z" fill="url(#st_e1)"/>
<line x1="1129.2" y1="491.5" x2="1152.8" y2="450.5" stroke="#8a8b8e" stroke-width="1"/>
<line x1="1137.4" y1="499.7" x2="1178.3" y2="476.0" stroke="#8a8b8e" stroke-width="1"/>
<rect x="1140.35" y="510.35" width="47.30000000000001" height="52.94999999999993" fill="url(#st_silv)"/>
<ellipse cx="1164" cy="563.8" rx="23.650000000000006" ry="5.2" fill="url(#st_silv)"/>
<line x1="1140.35" y1="510.85" x2="1187.65" y2="510.85" stroke="#8a8b8e" stroke-width="1"/>
<rect x="1112.5" y="441.2" width="6.5" height="47.3" fill="url(#st_silh)" />
<rect x="1108.0" y="436.0" width="6.0" height="58.0" fill="#1f4c95" />
<g fill="#dfe0e2"><circle cx="1104.5" cy="440" r="1.3"/><circle cx="1104.5" cy="449" r="1.3"/><circle cx="1104.5" cy="458" r="1.3"/><circle cx="1104.5" cy="467" r="1.3"/><circle cx="1104.5" cy="476" r="1.3"/><circle cx="1104.5" cy="485" r="1.3"/></g>
<rect x="979.9" y="349.0" width="17.5" height="261.0" fill="url(#st_brown)" />
<path d="M969,376 L969,356 Q972,347 984,347 Q996,347 999,356 L999,376 Z" fill="url(#st_brown)"/>
<path d="M1000,378 L1000,356 Q1003,345.5 1014,345.5 Q1025,345.5 1028,356 L1028,378 Z" fill="url(#st_brown)"/>
<path d="M1028,372 L1028,356 Q1031,348 1040,348 Q1049,348 1052,356 L1052,372 Z" fill="url(#st_brown)"/>
<rect x="997.0" y="356.0" width="5.0" height="18.0" fill="#8a6240" />
<rect x="970.3" y="378" width="36.2" height="9" rx="4.5" fill="url(#st_brownh)"/>
<rect x="1013.0" y="378.0" width="14.0" height="14.0" fill="url(#st_brown)" />
<rect x="1024.0" y="358.0" width="59.0" height="15.7" fill="#0d0d10" />
<rect x="1009.3" y="544.4" width="82.7" height="42.4" fill="url(#st_slab)" />
<rect x="1009.3" y="390.3" width="79.5" height="149.7" fill="url(#st_blue)" />
<rect x="1009.3" y="390.3" width="79.5" height="5.2" fill="url(#st_bluedk)" />
<g fill="#c8c9cb"><circle cx="1016" cy="388.5" r="1.4"/><circle cx="1025" cy="388.5" r="1.4"/><circle cx="1034" cy="388.5" r="1.4"/><circle cx="1043" cy="388.5" r="1.4"/><circle cx="1052" cy="388.5" r="1.4"/><circle cx="1061" cy="388.5" r="1.4"/><circle cx="1070" cy="388.5" r="1.4"/><circle cx="1079" cy="388.5" r="1.4"/></g>
<rect x="1048.4" y="420.8" width="18.5" height="10.8" fill="#d5b72c" />
<rect x="1051.7" y="442.3" width="17.3" height="55.4" fill="url(#st_panel)" />
<rect x="1051.2" y="463.4" width="20.4" height="14.4" fill="#b8b5a8" />
<ellipse cx="1051.3" cy="565.5" rx="32.2" ry="11.8" fill="#173f7d"/>
<ellipse cx="1051.3" cy="563.8" rx="32.2" ry="11.8" fill="#2456a3"/>
<ellipse cx="1051.3" cy="563.8" rx="28.5" ry="9.3" fill="none" stroke="#d0d1d3" stroke-width="2.2" stroke-dasharray="1.6 4"/>
<rect x="1029.8" y="540.0" width="42.9" height="22.0" fill="url(#st_blue)" />
<ellipse cx="1051.25" cy="562" rx="21.45" ry="5.5" fill="url(#st_blue)"/>
<rect x="1044.9" y="256.6" width="5.4" height="39.1" fill="url(#st_rod)" />
<rect x="1042.2" y="298.7" width="10.8" height="91.3" fill="url(#st_rod)" />
<rect x="1038.7" y="295.7" width="17.8" height="4.0" fill="url(#st_rod)" />
<rect x="1040.7" y="270.3" width="13.8" height="3.9" fill="url(#st_rod)" />
<rect x="1066.7" y="271.6" width="4.7" height="31.9" fill="url(#st_rod)" />
<rect x="1064.3" y="306.5" width="9.4" height="83.5" fill="url(#st_rod)" />
<rect x="1060.8" y="303.5" width="16.4" height="4.0" fill="url(#st_rod)" />
<rect x="1062.8" y="282.8" width="12.4" height="3.2" fill="url(#st_rod)" />
<rect x="1083.7" y="285.0" width="3.3" height="26.4" fill="url(#st_rod)" />
<rect x="1082.0" y="314.4" width="6.7" height="75.6" fill="url(#st_rod)" />
<rect x="1078.5" y="311.4" width="13.7" height="4.0" fill="url(#st_rod)" />
<rect x="1080.5" y="294.2" width="9.7" height="2.6" fill="url(#st_rod)" />
<rect x="1037.0" y="353.0" width="21.0" height="4.0" fill="#2a5aa3" />
<rect x="1060.0" y="352.0" width="33.0" height="4.0" fill="#2a5aa3" />
<rect x="1042.0" y="325.0" width="7.0" height="5.0" fill="#e0c326" />
<g fill="none" stroke="url(#st_gp)" stroke-width="3.4"><path d="M1045,331 L1090,331 Q1097,331 1097,338 L1097,580"/><path d="M1060,333 L1102,333 Q1108.7,333 1108.7,340 L1108.7,536"/><path d="M1098,336 L1112,336 Q1118.7,336 1118.7,343 L1118.7,502"/></g>
<rect x="1092.5" y="575.0" width="9.0" height="9.0" fill="#8e8f92" />
<rect x="1105.0" y="530.0" width="7.5" height="9.0" fill="#8e8f92" />
<rect x="1115.5" y="497.0" width="6.0" height="8.0" fill="#8e8f92" />
<defs><linearGradient id="mb_front" x1="0" y1="0" x2="1" y2="0" ><stop offset="0" stop-color="#d9c350"/><stop offset="0.35" stop-color="#e8d568"/><stop offset="0.62" stop-color="#f8ea95"/><stop offset="0.8" stop-color="#e6d160"/><stop offset="1" stop-color="#d1ba48"/></linearGradient><linearGradient id="mb_collar" x1="0" y1="0" x2="1" y2="0" ><stop offset="0" stop-color="#cdb445"/><stop offset="0.5" stop-color="#ead75f"/><stop offset="1" stop-color="#c9af3f"/></linearGradient><linearGradient id="mb_cap" x1="0" y1="0" x2="1" y2="0" ><stop offset="0" stop-color="#2b2b2d"/><stop offset="0.5" stop-color="#5a5a5d"/><stop offset="1" stop-color="#252527"/></linearGradient><pattern id="mb_back" patternUnits="userSpaceOnUse" width="5.6" height="10"><rect width="5.6" height="10" fill="#e6d26a"/><rect width="1.2" height="10" fill="#cdb54a"/><rect x="3" width="1.4" height="10" fill="#f1e28a"/></pattern><linearGradient id="mb_hdr" x1="0" y1="0" x2="0" y2="1" ><stop offset="0" stop-color="#2e2e30"/><stop offset="0.35" stop-color="#7a7b7e"/><stop offset="0.6" stop-color="#4a4a4d"/><stop offset="1" stop-color="#1c1c1e"/></linearGradient><linearGradient id="mb_pipe2" x1="0" y1="0" x2="0" y2="1" ><stop offset="0" stop-color="#f2f2f3"/><stop offset="0.3" stop-color="#d5d5d8"/><stop offset="0.7" stop-color="#a4a5a8"/><stop offset="1" stop-color="#7c7d80"/></linearGradient><linearGradient id="mb_pipe" x1="0" y1="0" x2="0" y2="1" ><stop offset="0" stop-color="#ececee"/><stop offset="0.25" stop-color="#d3d3d6"/><stop offset="0.6" stop-color="#a2a3a6"/><stop offset="0.8" stop-color="#838487"/><stop offset="0.81" stop-color="#6cb8e8"/><stop offset="1" stop-color="#1f86d0"/></linearGradient></defs>
<g transform="translate(1632.4,236.9) rotate(106.79)"><rect x="0" y="-14.5" width="114.9" height="29.0" rx="14.5" fill="url(#mb_hdr)" /></g>
<ellipse cx="1628.3" cy="251" rx="14.3" ry="13.6" fill="#000"/>
<polygon points="1600.8,401.0 1644.6,312.0 1644.6,560.0 1600.8,532.0" fill="url(#mb_back)" />
<rect x="1600.8" y="395.0" width="5.6" height="6.0" fill="#3a3a3c" />
<rect x="1600.8" y="532.0" width="5.6" height="9.0" fill="#262628" />
<rect x="1607.0" y="382.3" width="5.6" height="6.0" fill="#3a3a3c" />
<rect x="1607.0" y="536.0" width="5.6" height="9.0" fill="#262628" />
<rect x="1613.3" y="369.6" width="5.6" height="6.0" fill="#3a3a3c" />
<rect x="1613.3" y="540.0" width="5.6" height="9.0" fill="#262628" />
<rect x="1619.5" y="356.9" width="5.6" height="6.0" fill="#3a3a3c" />
<rect x="1619.5" y="544.0" width="5.6" height="9.0" fill="#262628" />
<rect x="1625.8" y="344.1" width="5.6" height="6.0" fill="#3a3a3c" />
<rect x="1625.8" y="548.0" width="5.6" height="9.0" fill="#262628" />
<rect x="1632.1" y="331.4" width="5.6" height="6.0" fill="#3a3a3c" />
<rect x="1632.1" y="552.0" width="5.6" height="9.0" fill="#262628" />
<rect x="1638.3" y="318.7" width="5.6" height="6.0" fill="#3a3a3c" />
<rect x="1638.3" y="556.0" width="5.6" height="9.0" fill="#262628" />
<rect x="1620.4" y="278.0" width="7.0" height="8.0" fill="#e6e7e9" />
<path d="M1624.4,287 Q1618.4,353.5 1596.8,400.0" fill="none" stroke="#2f5eae" stroke-width="4.2"/>
<path d="M1623.9,292.3 Q1623.9,318.0 1632.4,318.0" fill="none" stroke="#3564b4" stroke-width="3.4"/>
<rect x="1631.4" y="315.5" width="6.0" height="5.0" fill="#e9ebee" />
<rect x="1637.4" y="314.6" width="6.0" height="6.8" fill="#dcc24d" />
<path d="M1622.5,304.2 Q1622.5,326.8 1628.6,326.8" fill="none" stroke="#3564b4" stroke-width="3.4"/>
<rect x="1627.6" y="324.3" width="6.0" height="5.0" fill="#e9ebee" />
<rect x="1633.6" y="323.4" width="6.0" height="6.8" fill="#dcc24d" />
<path d="M1620.9,315.8 Q1620.9,335.6 1624.9,335.6" fill="none" stroke="#3564b4" stroke-width="3.4"/>
<rect x="1623.9" y="333.1" width="6.0" height="5.0" fill="#e9ebee" />
<rect x="1629.9" y="332.2" width="6.0" height="6.8" fill="#dcc24d" />
<path d="M1619.0,327.0 Q1619.0,344.4 1621.1,344.4" fill="none" stroke="#3564b4" stroke-width="3.4"/>
<rect x="1620.1" y="341.9" width="6.0" height="5.0" fill="#e9ebee" />
<rect x="1626.1" y="341.0" width="6.0" height="6.8" fill="#dcc24d" />
<path d="M1616.9,337.9 Q1616.9,353.2 1617.3,353.2" fill="none" stroke="#3564b4" stroke-width="3.4"/>
<rect x="1616.3" y="350.7" width="6.0" height="5.0" fill="#e9ebee" />
<rect x="1622.3" y="349.8" width="6.0" height="6.8" fill="#dcc24d" />
<path d="M1614.5,348.5 Q1614.5,362.0 1613.6,362.0" fill="none" stroke="#3564b4" stroke-width="3.4"/>
<rect x="1612.6" y="359.5" width="6.0" height="5.0" fill="#e9ebee" />
<rect x="1618.6" y="358.6" width="6.0" height="6.8" fill="#dcc24d" />
<path d="M1611.8,358.7 Q1611.8,370.8 1609.8,370.8" fill="none" stroke="#3564b4" stroke-width="3.4"/>
<rect x="1608.8" y="368.3" width="6.0" height="5.0" fill="#e9ebee" />
<rect x="1614.8" y="367.4" width="6.0" height="6.8" fill="#dcc24d" />
<path d="M1608.9,368.6 Q1608.9,379.6 1606.0,379.6" fill="none" stroke="#3564b4" stroke-width="3.4"/>
<rect x="1605.0" y="377.1" width="6.0" height="5.0" fill="#e9ebee" />
<rect x="1611.0" y="376.2" width="6.0" height="6.8" fill="#dcc24d" />
<path d="M1605.7,378.2 Q1605.7,388.4 1602.3,388.4" fill="none" stroke="#3564b4" stroke-width="3.4"/>
<rect x="1601.3" y="385.9" width="6.0" height="5.0" fill="#e9ebee" />
<rect x="1607.3" y="385.0" width="6.0" height="6.8" fill="#dcc24d" />
<path d="M1602.2,387.4 Q1602.2,397.2 1598.5,397.2" fill="none" stroke="#3564b4" stroke-width="3.4"/>
<rect x="1597.5" y="394.7" width="6.0" height="5.0" fill="#e9ebee" />
<rect x="1603.5" y="393.8" width="6.0" height="6.8" fill="#dcc24d" />
<path d="M1598.5,396.2 Q1598.5,406.0 1594.8,406.0" fill="none" stroke="#3564b4" stroke-width="3.4"/>
<rect x="1593.8" y="403.5" width="6.0" height="5.0" fill="#e9ebee" />
<rect x="1599.8" y="402.6" width="6.0" height="6.8" fill="#dcc24d" />
<rect x="1644.6" y="309.0" width="24.0" height="262.0" fill="url(#mb_front)" />
<rect x="1644.6" y="309.0" width="24.0" height="17.3" fill="url(#mb_collar)" />
<rect x="1644.6" y="550.6" width="24.0" height="20.5" fill="url(#mb_collar)" />
<rect x="1644.6" y="301.4" width="24.0" height="7.6" fill="url(#mb_cap)" />
<rect x="1650.4" y="295.6" width="12.5" height="5.8" fill="url(#mb_cap)" />
<rect x="1652.1" y="278.0" width="8.3" height="17.6" fill="url(#mb_cap)" />
<rect x="1652.1" y="287.0" width="8.3" height="2.5" fill="#d0d0d2" />
<rect x="1644.6" y="571.0" width="24.0" height="7.6" fill="url(#mb_cap)" />
<rect x="1651.4" y="578.6" width="11.0" height="17.4" fill="url(#mb_cap)" />
<rect x="1601.5" y="541.0" width="4.0" height="22.1" fill="#2a2a2c" />
<rect x="1600.8" y="546.0" width="5.6" height="3.0" fill="#3a3a3c" />
<rect x="1607.8" y="545.0" width="4.0" height="23.3" fill="#2a2a2c" />
<rect x="1607.0" y="550.0" width="5.6" height="3.0" fill="#3a3a3c" />
<rect x="1614.1" y="549.0" width="4.0" height="24.5" fill="#2a2a2c" />
<rect x="1613.3" y="554.0" width="5.6" height="3.0" fill="#3a3a3c" />
<rect x="1620.3" y="553.0" width="4.0" height="25.7" fill="#2a2a2c" />
<rect x="1619.5" y="558.0" width="5.6" height="3.0" fill="#3a3a3c" />
<rect x="1626.6" y="557.0" width="4.0" height="26.9" fill="#2a2a2c" />
<rect x="1625.8" y="562.0" width="5.6" height="3.0" fill="#3a3a3c" />
<rect x="1632.9" y="561.0" width="4.0" height="28.1" fill="#2a2a2c" />
<rect x="1632.1" y="566.0" width="5.6" height="3.0" fill="#3a3a3c" />
<rect x="1639.1" y="565.0" width="4.0" height="29.3" fill="#2a2a2c" />
<rect x="1638.3" y="570.0" width="5.6" height="3.0" fill="#3a3a3c" />
<g transform="translate(1596.8,554.5) rotate(39.69)"><rect x="0" y="13" width="81.4" height="5" fill="#3e9ee0" rx="0"/><rect x="0" y="0" width="81.4" height="14" fill="url(#mb_pipe2)" rx="0"/></g>
<circle cx="1663.8" cy="615.6" r="14.4" fill="#000"/>
<g transform="translate(1560.5,236.9) rotate(106.79)"><rect x="0" y="-14.5" width="114.9" height="29.0" rx="14.5" fill="url(#mb_hdr)" /></g>
<ellipse cx="1556.5" cy="251" rx="14.3" ry="13.6" fill="#000"/>
<polygon points="1528.9,401.0 1572.8,312.0 1572.8,560.0 1528.9,532.0" fill="url(#mb_back)" />
<rect x="1528.9" y="395.0" width="5.6" height="6.0" fill="#3a3a3c" />
<rect x="1528.9" y="532.0" width="5.6" height="9.0" fill="#262628" />
<rect x="1535.2" y="382.3" width="5.6" height="6.0" fill="#3a3a3c" />
<rect x="1535.2" y="536.0" width="5.6" height="9.0" fill="#262628" />
<rect x="1541.4" y="369.6" width="5.6" height="6.0" fill="#3a3a3c" />
<rect x="1541.4" y="540.0" width="5.6" height="9.0" fill="#262628" />
<rect x="1547.7" y="356.9" width="5.6" height="6.0" fill="#3a3a3c" />
<rect x="1547.7" y="544.0" width="5.6" height="9.0" fill="#262628" />
<rect x="1554.0" y="344.1" width="5.6" height="6.0" fill="#3a3a3c" />
<rect x="1554.0" y="548.0" width="5.6" height="9.0" fill="#262628" />
<rect x="1560.2" y="331.4" width="5.6" height="6.0" fill="#3a3a3c" />
<rect x="1560.2" y="552.0" width="5.6" height="9.0" fill="#262628" />
<rect x="1566.5" y="318.7" width="5.6" height="6.0" fill="#3a3a3c" />
<rect x="1566.5" y="556.0" width="5.6" height="9.0" fill="#262628" />
<rect x="1548.5" y="278.0" width="7.0" height="8.0" fill="#e6e7e9" />
<path d="M1552.5,287 Q1546.5,353.5 1524.9,400.0" fill="none" stroke="#2f5eae" stroke-width="4.2"/>
<path d="M1552.0,292.3 Q1552.0,318.0 1560.5,318.0" fill="none" stroke="#3564b4" stroke-width="3.4"/>
<rect x="1559.5" y="315.5" width="6.0" height="5.0" fill="#e9ebee" />
<rect x="1565.5" y="314.6" width="6.0" height="6.8" fill="#dcc24d" />
<path d="M1550.7,304.2 Q1550.7,326.8 1556.8,326.8" fill="none" stroke="#3564b4" stroke-width="3.4"/>
<rect x="1555.8" y="324.3" width="6.0" height="5.0" fill="#e9ebee" />
<rect x="1561.8" y="323.4" width="6.0" height="6.8" fill="#dcc24d" />
<path d="M1549.1,315.8 Q1549.1,335.6 1553.0,335.6" fill="none" stroke="#3564b4" stroke-width="3.4"/>
<rect x="1552.0" y="333.1" width="6.0" height="5.0" fill="#e9ebee" />
<rect x="1558.0" y="332.2" width="6.0" height="6.8" fill="#dcc24d" />
<path d="M1547.2,327.0 Q1547.2,344.4 1549.3,344.4" fill="none" stroke="#3564b4" stroke-width="3.4"/>
<rect x="1548.3" y="341.9" width="6.0" height="5.0" fill="#e9ebee" />
<rect x="1554.3" y="341.0" width="6.0" height="6.8" fill="#dcc24d" />
<path d="M1545.0,337.9 Q1545.0,353.2 1545.5,353.2" fill="none" stroke="#3564b4" stroke-width="3.4"/>
<rect x="1544.5" y="350.7" width="6.0" height="5.0" fill="#e9ebee" />
<rect x="1550.5" y="349.8" width="6.0" height="6.8" fill="#dcc24d" />
<path d="M1542.6,348.5 Q1542.6,362.0 1541.7,362.0" fill="none" stroke="#3564b4" stroke-width="3.4"/>
<rect x="1540.7" y="359.5" width="6.0" height="5.0" fill="#e9ebee" />
<rect x="1546.7" y="358.6" width="6.0" height="6.8" fill="#dcc24d" />
<path d="M1540.0,358.7 Q1540.0,370.8 1538.0,370.8" fill="none" stroke="#3564b4" stroke-width="3.4"/>
<rect x="1537.0" y="368.3" width="6.0" height="5.0" fill="#e9ebee" />
<rect x="1543.0" y="367.4" width="6.0" height="6.8" fill="#dcc24d" />
<path d="M1537.0,368.6 Q1537.0,379.6 1534.2,379.6" fill="none" stroke="#3564b4" stroke-width="3.4"/>
<rect x="1533.2" y="377.1" width="6.0" height="5.0" fill="#e9ebee" />
<rect x="1539.2" y="376.2" width="6.0" height="6.8" fill="#dcc24d" />
<path d="M1533.8,378.2 Q1533.8,388.4 1530.4,388.4" fill="none" stroke="#3564b4" stroke-width="3.4"/>
<rect x="1529.4" y="385.9" width="6.0" height="5.0" fill="#e9ebee" />
<rect x="1535.4" y="385.0" width="6.0" height="6.8" fill="#dcc24d" />
<path d="M1530.3,387.4 Q1530.3,397.2 1526.7,397.2" fill="none" stroke="#3564b4" stroke-width="3.4"/>
<rect x="1525.7" y="394.7" width="6.0" height="5.0" fill="#e9ebee" />
<rect x="1531.7" y="393.8" width="6.0" height="6.8" fill="#dcc24d" />
<path d="M1526.6,396.2 Q1526.6,406.0 1522.9,406.0" fill="none" stroke="#3564b4" stroke-width="3.4"/>
<rect x="1521.9" y="403.5" width="6.0" height="5.0" fill="#e9ebee" />
<rect x="1527.9" y="402.6" width="6.0" height="6.8" fill="#dcc24d" />
<rect x="1572.8" y="309.0" width="24.0" height="262.0" fill="url(#mb_front)" />
<rect x="1572.8" y="309.0" width="24.0" height="17.3" fill="url(#mb_collar)" />
<rect x="1572.8" y="550.6" width="24.0" height="20.5" fill="url(#mb_collar)" />
<rect x="1572.8" y="301.4" width="24.0" height="7.6" fill="url(#mb_cap)" />
<rect x="1578.5" y="295.6" width="12.5" height="5.8" fill="url(#mb_cap)" />
<rect x="1580.2" y="278.0" width="8.3" height="17.6" fill="url(#mb_cap)" />
<rect x="1580.2" y="287.0" width="8.3" height="2.5" fill="#d0d0d2" />
<rect x="1572.8" y="571.0" width="24.0" height="7.6" fill="url(#mb_cap)" />
<rect x="1579.5" y="578.6" width="11.0" height="17.4" fill="url(#mb_cap)" />
<rect x="1529.7" y="541.0" width="4.0" height="22.1" fill="#2a2a2c" />
<rect x="1528.9" y="546.0" width="5.6" height="3.0" fill="#3a3a3c" />
<rect x="1536.0" y="545.0" width="4.0" height="23.3" fill="#2a2a2c" />
<rect x="1535.2" y="550.0" width="5.6" height="3.0" fill="#3a3a3c" />
<rect x="1542.2" y="549.0" width="4.0" height="24.5" fill="#2a2a2c" />
<rect x="1541.4" y="554.0" width="5.6" height="3.0" fill="#3a3a3c" />
<rect x="1548.5" y="553.0" width="4.0" height="25.7" fill="#2a2a2c" />
<rect x="1547.7" y="558.0" width="5.6" height="3.0" fill="#3a3a3c" />
<rect x="1554.8" y="557.0" width="4.0" height="26.9" fill="#2a2a2c" />
<rect x="1554.0" y="562.0" width="5.6" height="3.0" fill="#3a3a3c" />
<rect x="1561.0" y="561.0" width="4.0" height="28.1" fill="#2a2a2c" />
<rect x="1560.2" y="566.0" width="5.6" height="3.0" fill="#3a3a3c" />
<rect x="1567.3" y="565.0" width="4.0" height="29.3" fill="#2a2a2c" />
<rect x="1566.5" y="570.0" width="5.6" height="3.0" fill="#3a3a3c" />
<g transform="translate(1524.9,554.5) rotate(39.69)"><rect x="0" y="13" width="81.4" height="5" fill="#3e9ee0" rx="0"/><rect x="0" y="0" width="81.4" height="14" fill="url(#mb_pipe2)" rx="0"/></g>
<circle cx="1592.0" cy="615.6" r="14.4" fill="#000"/>
<g transform="translate(1488.7,236.9) rotate(106.79)"><rect x="0" y="-14.5" width="114.9" height="29.0" rx="14.5" fill="url(#mb_hdr)" /></g>
<ellipse cx="1484.6" cy="251" rx="14.3" ry="13.6" fill="#000"/>
<polygon points="1457.0,401.0 1500.9,312.0 1500.9,560.0 1457.0,532.0" fill="url(#mb_back)" />
<rect x="1457.0" y="395.0" width="5.6" height="6.0" fill="#3a3a3c" />
<rect x="1457.0" y="532.0" width="5.6" height="9.0" fill="#262628" />
<rect x="1463.3" y="382.3" width="5.6" height="6.0" fill="#3a3a3c" />
<rect x="1463.3" y="536.0" width="5.6" height="9.0" fill="#262628" />
<rect x="1469.6" y="369.6" width="5.6" height="6.0" fill="#3a3a3c" />
<rect x="1469.6" y="540.0" width="5.6" height="9.0" fill="#262628" />
<rect x="1475.8" y="356.9" width="5.6" height="6.0" fill="#3a3a3c" />
<rect x="1475.8" y="544.0" width="5.6" height="9.0" fill="#262628" />
<rect x="1482.1" y="344.1" width="5.6" height="6.0" fill="#3a3a3c" />
<rect x="1482.1" y="548.0" width="5.6" height="9.0" fill="#262628" />
<rect x="1488.4" y="331.4" width="5.6" height="6.0" fill="#3a3a3c" />
<rect x="1488.4" y="552.0" width="5.6" height="9.0" fill="#262628" />
<rect x="1494.6" y="318.7" width="5.6" height="6.0" fill="#3a3a3c" />
<rect x="1494.6" y="556.0" width="5.6" height="9.0" fill="#262628" />
<rect x="1476.7" y="278.0" width="7.0" height="8.0" fill="#e6e7e9" />
<path d="M1480.7,287 Q1474.7,353.5 1453.0,400.0" fill="none" stroke="#2f5eae" stroke-width="4.2"/>
<path d="M1480.2,292.3 Q1480.2,318.0 1488.7,318.0" fill="none" stroke="#3564b4" stroke-width="3.4"/>
<rect x="1487.7" y="315.5" width="6.0" height="5.0" fill="#e9ebee" />
<rect x="1493.7" y="314.6" width="6.0" height="6.8" fill="#dcc24d" />
<path d="M1478.8,304.2 Q1478.8,326.8 1484.9,326.8" fill="none" stroke="#3564b4" stroke-width="3.4"/>
<rect x="1483.9" y="324.3" width="6.0" height="5.0" fill="#e9ebee" />
<rect x="1489.9" y="323.4" width="6.0" height="6.8" fill="#dcc24d" />
<path d="M1477.2,315.8 Q1477.2,335.6 1481.2,335.6" fill="none" stroke="#3564b4" stroke-width="3.4"/>
<rect x="1480.2" y="333.1" width="6.0" height="5.0" fill="#e9ebee" />
<rect x="1486.2" y="332.2" width="6.0" height="6.8" fill="#dcc24d" />
<path d="M1475.3,327.0 Q1475.3,344.4 1477.4,344.4" fill="none" stroke="#3564b4" stroke-width="3.4"/>
<rect x="1476.4" y="341.9" width="6.0" height="5.0" fill="#e9ebee" />
<rect x="1482.4" y="341.0" width="6.0" height="6.8" fill="#dcc24d" />
<path d="M1473.2,337.9 Q1473.2,353.2 1473.6,353.2" fill="none" stroke="#3564b4" stroke-width="3.4"/>
<rect x="1472.6" y="350.7" width="6.0" height="5.0" fill="#e9ebee" />
<rect x="1478.6" y="349.8" width="6.0" height="6.8" fill="#dcc24d" />
<path d="M1470.8,348.5 Q1470.8,362.0 1469.9,362.0" fill="none" stroke="#3564b4" stroke-width="3.4"/>
<rect x="1468.9" y="359.5" width="6.0" height="5.0" fill="#e9ebee" />
<rect x="1474.9" y="358.6" width="6.0" height="6.8" fill="#dcc24d" />
<path d="M1468.1,358.7 Q1468.1,370.8 1466.1,370.8" fill="none" stroke="#3564b4" stroke-width="3.4"/>
<rect x="1465.1" y="368.3" width="6.0" height="5.0" fill="#e9ebee" />
<rect x="1471.1" y="367.4" width="6.0" height="6.8" fill="#dcc24d" />
<path d="M1465.2,368.6 Q1465.2,379.6 1462.3,379.6" fill="none" stroke="#3564b4" stroke-width="3.4"/>
<rect x="1461.3" y="377.1" width="6.0" height="5.0" fill="#e9ebee" />
<rect x="1467.3" y="376.2" width="6.0" height="6.8" fill="#dcc24d" />
<path d="M1462.0,378.2 Q1462.0,388.4 1458.6,388.4" fill="none" stroke="#3564b4" stroke-width="3.4"/>
<rect x="1457.6" y="385.9" width="6.0" height="5.0" fill="#e9ebee" />
<rect x="1463.6" y="385.0" width="6.0" height="6.8" fill="#dcc24d" />
<path d="M1458.5,387.4 Q1458.5,397.2 1454.8,397.2" fill="none" stroke="#3564b4" stroke-width="3.4"/>
<rect x="1453.8" y="394.7" width="6.0" height="5.0" fill="#e9ebee" />
<rect x="1459.8" y="393.8" width="6.0" height="6.8" fill="#dcc24d" />
<path d="M1454.8,396.2 Q1454.8,406.0 1451.0,406.0" fill="none" stroke="#3564b4" stroke-width="3.4"/>
<rect x="1450.0" y="403.5" width="6.0" height="5.0" fill="#e9ebee" />
<rect x="1456.0" y="402.6" width="6.0" height="6.8" fill="#dcc24d" />
<rect x="1500.9" y="309.0" width="24.0" height="262.0" fill="url(#mb_front)" />
<rect x="1500.9" y="309.0" width="24.0" height="17.3" fill="url(#mb_collar)" />
<rect x="1500.9" y="550.6" width="24.0" height="20.5" fill="url(#mb_collar)" />
<rect x="1500.9" y="301.4" width="24.0" height="7.6" fill="url(#mb_cap)" />
<rect x="1506.7" y="295.6" width="12.5" height="5.8" fill="url(#mb_cap)" />
<rect x="1508.4" y="278.0" width="8.3" height="17.6" fill="url(#mb_cap)" />
<rect x="1508.4" y="287.0" width="8.3" height="2.5" fill="#d0d0d2" />
<rect x="1500.9" y="571.0" width="24.0" height="7.6" fill="url(#mb_cap)" />
<rect x="1507.7" y="578.6" width="11.0" height="17.4" fill="url(#mb_cap)" />
<rect x="1457.8" y="541.0" width="4.0" height="22.1" fill="#2a2a2c" />
<rect x="1457.0" y="546.0" width="5.6" height="3.0" fill="#3a3a3c" />
<rect x="1464.1" y="545.0" width="4.0" height="23.3" fill="#2a2a2c" />
<rect x="1463.3" y="550.0" width="5.6" height="3.0" fill="#3a3a3c" />
<rect x="1470.4" y="549.0" width="4.0" height="24.5" fill="#2a2a2c" />
<rect x="1469.6" y="554.0" width="5.6" height="3.0" fill="#3a3a3c" />
<rect x="1476.6" y="553.0" width="4.0" height="25.7" fill="#2a2a2c" />
<rect x="1475.8" y="558.0" width="5.6" height="3.0" fill="#3a3a3c" />
<rect x="1482.9" y="557.0" width="4.0" height="26.9" fill="#2a2a2c" />
<rect x="1482.1" y="562.0" width="5.6" height="3.0" fill="#3a3a3c" />
<rect x="1489.2" y="561.0" width="4.0" height="28.1" fill="#2a2a2c" />
<rect x="1488.4" y="566.0" width="5.6" height="3.0" fill="#3a3a3c" />
<rect x="1495.4" y="565.0" width="4.0" height="29.3" fill="#2a2a2c" />
<rect x="1494.6" y="570.0" width="5.6" height="3.0" fill="#3a3a3c" />
<g transform="translate(1453.0,554.5) rotate(39.69)"><rect x="0" y="13" width="81.4" height="5" fill="#3e9ee0" rx="0"/><rect x="0" y="0" width="81.4" height="14" fill="url(#mb_pipe2)" rx="0"/></g>
<circle cx="1520.1" cy="615.6" r="14.4" fill="#000"/>
<g transform="translate(1416.8,236.9) rotate(106.79)"><rect x="0" y="-14.5" width="114.9" height="29.0" rx="14.5" fill="url(#mb_hdr)" /></g>
<ellipse cx="1412.8" cy="251" rx="14.3" ry="13.6" fill="#000"/>
<polygon points="1385.2,401.0 1429.0,312.0 1429.0,560.0 1385.2,532.0" fill="url(#mb_back)" />
<rect x="1385.2" y="395.0" width="5.6" height="6.0" fill="#3a3a3c" />
<rect x="1385.2" y="532.0" width="5.6" height="9.0" fill="#262628" />
<rect x="1391.5" y="382.3" width="5.6" height="6.0" fill="#3a3a3c" />
<rect x="1391.5" y="536.0" width="5.6" height="9.0" fill="#262628" />
<rect x="1397.7" y="369.6" width="5.6" height="6.0" fill="#3a3a3c" />
<rect x="1397.7" y="540.0" width="5.6" height="9.0" fill="#262628" />
<rect x="1404.0" y="356.9" width="5.6" height="6.0" fill="#3a3a3c" />
<rect x="1404.0" y="544.0" width="5.6" height="9.0" fill="#262628" />
<rect x="1410.3" y="344.1" width="5.6" height="6.0" fill="#3a3a3c" />
<rect x="1410.3" y="548.0" width="5.6" height="9.0" fill="#262628" />
<rect x="1416.5" y="331.4" width="5.6" height="6.0" fill="#3a3a3c" />
<rect x="1416.5" y="552.0" width="5.6" height="9.0" fill="#262628" />
<rect x="1422.8" y="318.7" width="5.6" height="6.0" fill="#3a3a3c" />
<rect x="1422.8" y="556.0" width="5.6" height="9.0" fill="#262628" />
<rect x="1404.8" y="278.0" width="7.0" height="8.0" fill="#e6e7e9" />
<path d="M1408.8,287 Q1402.8,353.5 1381.2,400.0" fill="none" stroke="#2f5eae" stroke-width="4.2"/>
<path d="M1408.3,292.3 Q1408.3,318.0 1416.8,318.0" fill="none" stroke="#3564b4" stroke-width="3.4"/>
<rect x="1415.8" y="315.5" width="6.0" height="5.0" fill="#e9ebee" />
<rect x="1421.8" y="314.6" width="6.0" height="6.8" fill="#dcc24d" />
<path d="M1407.0,304.2 Q1407.0,326.8 1413.1,326.8" fill="none" stroke="#3564b4" stroke-width="3.4"/>
<rect x="1412.1" y="324.3" width="6.0" height="5.0" fill="#e9ebee" />
<rect x="1418.1" y="323.4" width="6.0" height="6.8" fill="#dcc24d" />
<path d="M1405.4,315.8 Q1405.4,335.6 1409.3,335.6" fill="none" stroke="#3564b4" stroke-width="3.4"/>
<rect x="1408.3" y="333.1" width="6.0" height="5.0" fill="#e9ebee" />
<rect x="1414.3" y="332.2" width="6.0" height="6.8" fill="#dcc24d" />
<path d="M1403.5,327.0 Q1403.5,344.4 1405.6,344.4" fill="none" stroke="#3564b4" stroke-width="3.4"/>
<rect x="1404.6" y="341.9" width="6.0" height="5.0" fill="#e9ebee" />
<rect x="1410.6" y="341.0" width="6.0" height="6.8" fill="#dcc24d" />
<path d="M1401.3,337.9 Q1401.3,353.2 1401.8,353.2" fill="none" stroke="#3564b4" stroke-width="3.4"/>
<rect x="1400.8" y="350.7" width="6.0" height="5.0" fill="#e9ebee" />
<rect x="1406.8" y="349.8" width="6.0" height="6.8" fill="#dcc24d" />
<path d="M1398.9,348.5 Q1398.9,362.0 1398.0,362.0" fill="none" stroke="#3564b4" stroke-width="3.4"/>
<rect x="1397.0" y="359.5" width="6.0" height="5.0" fill="#e9ebee" />
<rect x="1403.0" y="358.6" width="6.0" height="6.8" fill="#dcc24d" />
<path d="M1396.3,358.7 Q1396.3,370.8 1394.3,370.8" fill="none" stroke="#3564b4" stroke-width="3.4"/>
<rect x="1393.3" y="368.3" width="6.0" height="5.0" fill="#e9ebee" />
<rect x="1399.3" y="367.4" width="6.0" height="6.8" fill="#dcc24d" />
<path d="M1393.3,368.6 Q1393.3,379.6 1390.5,379.6" fill="none" stroke="#3564b4" stroke-width="3.4"/>
<rect x="1389.5" y="377.1" width="6.0" height="5.0" fill="#e9ebee" />
<rect x="1395.5" y="376.2" width="6.0" height="6.8" fill="#dcc24d" />
<path d="M1390.1,378.2 Q1390.1,388.4 1386.7,388.4" fill="none" stroke="#3564b4" stroke-width="3.4"/>
<rect x="1385.7" y="385.9" width="6.0" height="5.0" fill="#e9ebee" />
<rect x="1391.7" y="385.0" width="6.0" height="6.8" fill="#dcc24d" />
<path d="M1386.6,387.4 Q1386.6,397.2 1383.0,397.2" fill="none" stroke="#3564b4" stroke-width="3.4"/>
<rect x="1382.0" y="394.7" width="6.0" height="5.0" fill="#e9ebee" />
<rect x="1388.0" y="393.8" width="6.0" height="6.8" fill="#dcc24d" />
<path d="M1382.9,396.2 Q1382.9,406.0 1379.2,406.0" fill="none" stroke="#3564b4" stroke-width="3.4"/>
<rect x="1378.2" y="403.5" width="6.0" height="5.0" fill="#e9ebee" />
<rect x="1384.2" y="402.6" width="6.0" height="6.8" fill="#dcc24d" />
<rect x="1429.0" y="309.0" width="24.0" height="262.0" fill="url(#mb_front)" />
<rect x="1429.0" y="309.0" width="24.0" height="17.3" fill="url(#mb_collar)" />
<rect x="1429.0" y="550.6" width="24.0" height="20.5" fill="url(#mb_collar)" />
<rect x="1429.0" y="301.4" width="24.0" height="7.6" fill="url(#mb_cap)" />
<rect x="1434.8" y="295.6" width="12.5" height="5.8" fill="url(#mb_cap)" />
<rect x="1436.5" y="278.0" width="8.3" height="17.6" fill="url(#mb_cap)" />
<rect x="1436.5" y="287.0" width="8.3" height="2.5" fill="#d0d0d2" />
<rect x="1429.0" y="571.0" width="24.0" height="7.6" fill="url(#mb_cap)" />
<rect x="1435.8" y="578.6" width="11.0" height="17.4" fill="url(#mb_cap)" />
<rect x="1386.0" y="541.0" width="4.0" height="22.1" fill="#2a2a2c" />
<rect x="1385.2" y="546.0" width="5.6" height="3.0" fill="#3a3a3c" />
<rect x="1392.3" y="545.0" width="4.0" height="23.3" fill="#2a2a2c" />
<rect x="1391.5" y="550.0" width="5.6" height="3.0" fill="#3a3a3c" />
<rect x="1398.5" y="549.0" width="4.0" height="24.5" fill="#2a2a2c" />
<rect x="1397.7" y="554.0" width="5.6" height="3.0" fill="#3a3a3c" />
<rect x="1404.8" y="553.0" width="4.0" height="25.7" fill="#2a2a2c" />
<rect x="1404.0" y="558.0" width="5.6" height="3.0" fill="#3a3a3c" />
<rect x="1411.1" y="557.0" width="4.0" height="26.9" fill="#2a2a2c" />
<rect x="1410.3" y="562.0" width="5.6" height="3.0" fill="#3a3a3c" />
<rect x="1417.3" y="561.0" width="4.0" height="28.1" fill="#2a2a2c" />
<rect x="1416.5" y="566.0" width="5.6" height="3.0" fill="#3a3a3c" />
<rect x="1423.6" y="565.0" width="4.0" height="29.3" fill="#2a2a2c" />
<rect x="1422.8" y="570.0" width="5.6" height="3.0" fill="#3a3a3c" />
<g transform="translate(1381.2,554.5) rotate(39.69)"><rect x="0" y="13" width="81.4" height="5" fill="#3e9ee0" rx="0"/><rect x="0" y="0" width="81.4" height="14" fill="url(#mb_pipe2)" rx="0"/></g>
<circle cx="1448.2" cy="615.6" r="14.4" fill="#000"/>
<g transform="translate(1345.0,236.9) rotate(106.79)"><rect x="0" y="-14.5" width="114.9" height="29.0" rx="14.5" fill="url(#mb_hdr)" /></g>
<ellipse cx="1340.9" cy="251" rx="14.3" ry="13.6" fill="#000"/>
<polygon points="1331.2,366.0 1357.2,312.0 1357.2,560.0 1331.2,540.0" fill="url(#mb_back)" />
<rect x="1331.2" y="360.0" width="5.6" height="6.0" fill="#3a3a3c" />
<rect x="1331.2" y="540.0" width="5.6" height="9.0" fill="#262628" />
<rect x="1337.7" y="346.5" width="5.6" height="6.0" fill="#3a3a3c" />
<rect x="1337.7" y="545.0" width="5.6" height="9.0" fill="#262628" />
<rect x="1344.2" y="333.0" width="5.6" height="6.0" fill="#3a3a3c" />
<rect x="1344.2" y="550.0" width="5.6" height="9.0" fill="#262628" />
<rect x="1350.7" y="319.5" width="5.6" height="6.0" fill="#3a3a3c" />
<rect x="1350.7" y="555.0" width="5.6" height="9.0" fill="#262628" />
<rect x="1332.0" y="276.0" width="7.0" height="8.0" fill="#e6e7e9" />
<path d="M1336.0,285 Q1330.0,335.5 1311.0,366.0" fill="none" stroke="#2f5eae" stroke-width="4.2"/>
<path d="M1335.5,289.0 Q1335.5,318.0 1345.0,318.0" fill="none" stroke="#3564b4" stroke-width="3.4"/>
<rect x="1344.0" y="315.5" width="6.0" height="5.0" fill="#e9ebee" />
<rect x="1350.0" y="314.6" width="6.0" height="6.8" fill="#dcc24d" />
<path d="M1333.2,303.8 Q1333.2,326.8 1341.7,326.8" fill="none" stroke="#3564b4" stroke-width="3.4"/>
<rect x="1340.7" y="324.3" width="6.0" height="5.0" fill="#e9ebee" />
<rect x="1346.7" y="323.4" width="6.0" height="6.8" fill="#dcc24d" />
<path d="M1330.3,317.6 Q1330.3,335.7 1338.4,335.7" fill="none" stroke="#3564b4" stroke-width="3.4"/>
<rect x="1337.4" y="333.2" width="6.0" height="5.0" fill="#e9ebee" />
<rect x="1343.4" y="332.3" width="6.0" height="6.8" fill="#dcc24d" />
<path d="M1326.8,330.5 Q1326.8,344.5 1335.1,344.5" fill="none" stroke="#3564b4" stroke-width="3.4"/>
<rect x="1334.1" y="342.0" width="6.0" height="5.0" fill="#e9ebee" />
<rect x="1340.1" y="341.1" width="6.0" height="6.8" fill="#dcc24d" />
<path d="M1322.6,342.4 Q1322.6,353.3 1331.8,353.3" fill="none" stroke="#3564b4" stroke-width="3.4"/>
<rect x="1330.8" y="350.8" width="6.0" height="5.0" fill="#e9ebee" />
<rect x="1336.8" y="349.9" width="6.0" height="6.8" fill="#dcc24d" />
<path d="M1317.9,353.5 Q1317.9,362.2 1328.5,362.2" fill="none" stroke="#3564b4" stroke-width="3.4"/>
<rect x="1327.5" y="359.7" width="6.0" height="5.0" fill="#e9ebee" />
<rect x="1333.5" y="358.8" width="6.0" height="6.8" fill="#dcc24d" />
<path d="M1312.5,363.5 Q1312.5,371.0 1325.2,371.0" fill="none" stroke="#3564b4" stroke-width="3.4"/>
<rect x="1324.2" y="368.5" width="6.0" height="5.0" fill="#e9ebee" />
<rect x="1330.2" y="367.6" width="6.0" height="6.8" fill="#dcc24d" />
<rect x="1357.2" y="309.0" width="24.0" height="262.0" fill="url(#mb_front)" />
<rect x="1357.2" y="309.0" width="24.0" height="17.3" fill="url(#mb_collar)" />
<rect x="1357.2" y="550.6" width="24.0" height="20.5" fill="url(#mb_collar)" />
<rect x="1357.2" y="301.4" width="24.0" height="7.6" fill="url(#mb_cap)" />
<rect x="1363.0" y="295.6" width="12.5" height="5.8" fill="url(#mb_cap)" />
<rect x="1364.7" y="278.0" width="8.3" height="17.6" fill="url(#mb_cap)" />
<rect x="1364.7" y="287.0" width="8.3" height="2.5" fill="#d0d0d2" />
<rect x="1357.2" y="571.0" width="24.0" height="7.6" fill="url(#mb_cap)" />
<rect x="1364.0" y="578.6" width="11.0" height="17.4" fill="url(#mb_cap)" />
<rect x="1332.0" y="549.0" width="4.0" height="28.9" fill="#2a2a2c" />
<rect x="1331.2" y="554.0" width="5.6" height="3.0" fill="#3a3a3c" />
<rect x="1338.5" y="554.0" width="4.0" height="29.3" fill="#2a2a2c" />
<rect x="1337.7" y="559.0" width="5.6" height="3.0" fill="#3a3a3c" />
<rect x="1345.0" y="559.0" width="4.0" height="29.7" fill="#2a2a2c" />
<rect x="1344.2" y="564.0" width="5.6" height="3.0" fill="#3a3a3c" />
<rect x="1351.5" y="564.0" width="4.0" height="30.1" fill="#2a2a2c" />
<rect x="1350.7" y="569.0" width="5.6" height="3.0" fill="#3a3a3c" />
<g transform="translate(1318.0,561.6) rotate(39.69)"><rect x="0" y="13" width="70.2" height="5" fill="#3e9ee0" rx="6"/><rect x="0" y="0" width="70.2" height="14" fill="url(#mb_pipe2)" rx="6"/></g>
<circle cx="1376.4" cy="615.6" r="14.4" fill="#000"/>
<defs><linearGradient id="cy_side" x1="0" y1="0" x2="1" y2="0" ><stop offset="0" stop-color="#a3b5b0"/><stop offset="0.35" stop-color="#8a9d96"/><stop offset="0.7" stop-color="#75877f"/><stop offset="1" stop-color="#62746c"/></linearGradient><linearGradient id="cy_top" x1="0" y1="0" x2="1" y2="0" ><stop offset="0" stop-color="#7d8f88"/><stop offset="0.5" stop-color="#617369"/><stop offset="1" stop-color="#6d8079"/></linearGradient><linearGradient id="hs_wall" x1="0" y1="0" x2="1" y2="0" ><stop offset="0" stop-color="#a9aaad"/><stop offset="0.3" stop-color="#bfc0c3"/><stop offset="0.75" stop-color="#8d8e91"/><stop offset="1" stop-color="#6f7073"/></linearGradient><linearGradient id="hs_roof" x1="0" y1="0" x2="0" y2="1" ><stop offset="0" stop-color="#000"/><stop offset="1" stop-color="#505153"/></linearGradient><linearGradient id="hs_grass" x1="0" y1="0" x2="0" y2="1" ><stop offset="0" stop-color="#a6d168"/><stop offset="1" stop-color="#8cc04f"/></linearGradient><linearGradient id="hs_pipe" x1="0" y1="0" x2="1" y2="0" ><stop offset="0" stop-color="#3f86cf"/><stop offset="0.5" stop-color="#c5e1f7"/><stop offset="1" stop-color="#3a7fc9"/></linearGradient><linearGradient id="aq" x1="0" y1="0" x2="0" y2="1" ><stop offset="0" stop-color="#4ea9b6"/><stop offset="0.35" stop-color="#2a9cbb"/><stop offset="1" stop-color="#0a7fc4"/></linearGradient></defs>
<path d="M1888.4,390.5 L1888.4,518.5 A99.84999999999991,20.5 0 0 0 2088.1,518.5 L2088.1,390.5 Z" fill="url(#cy_side)"/>
<ellipse cx="1988.25" cy="390.5" rx="99.84999999999991" ry="20.5" fill="url(#cy_top)"/>
<path d="M2173.8,391 L2173.8,519.5 A100.09999999999991,20.5 0 0 0 2374,519.5 L2374,391 Z" fill="url(#cy_side)"/>
<ellipse cx="2273.9" cy="391" rx="100.09999999999991" ry="20.5" fill="url(#cy_top)"/>
<path d="M2560,877 C2530,865 2500,851 2466,850 C2440,850 2420,856 2390,860 C2350,864 2300,862 2278,868 C2262,873 2270,884 2292,889 C2298,891 2290,893 2270,896 C2240,900 2205,904 2208,914 C2210,924 2240,933 2236,938 C2225,944 2180,948 2167,956 C2158,963 2176,970 2172,975 C2168,983 2200,995 2207,1003 C2212,1012 2240,1018 2258,1024 L2560,1024 Z" fill="url(#aq)"/>
<rect x="2412.3" y="745.0" width="15.0" height="127.5" fill="url(#hs_pipe)" />
<path d="M2232.5,739.5 C2250,733 2290,729 2330,726 C2360,722 2400,718 2440,722 C2480,727 2520,733 2542.8,738 C2530,743 2500,745 2470,747 C2440,750 2400,751 2370,749 C2330,748 2290,748 2260,745 C2245,743 2236,741 2232.5,739.5 Z" fill="url(#hs_grass)"/>
<polygon points="2451.3,652 2457.6,648 2457.6,730 2451.3,737.6" fill="#5c5d60"/>
<rect x="2332.0" y="652.0" width="119.3" height="85.6" fill="url(#hs_wall)" />
<rect x="2352.5" y="677.8" width="32.5" height="59.8" fill="#333335" />
<circle cx="2379.5" cy="712.5" r="1.6" fill="#eee"/>
<polygon points="2391,589.4 2404.6,589 2465.8,646 2458,652 2451,652" fill="#375e36"/>
<polygon points="2391,589.4 2451,646 2458,652 2324.5,652" fill="url(#hs_roof)"/>
<defs><linearGradient id="nt_body" x1="0" y1="0" x2="1" y2="0" ><stop offset="0" stop-color="#8e8f92"/><stop offset="0.12" stop-color="#b4b5b7"/><stop offset="0.3" stop-color="#d0d1d3"/><stop offset="0.5" stop-color="#dcdddf"/><stop offset="0.7" stop-color="#c9cacc"/><stop offset="0.88" stop-color="#a9aaac"/><stop offset="1" stop-color="#8a8b8e"/></linearGradient><linearGradient id="nt_base" x1="0" y1="0" x2="1" y2="0" ><stop offset="0" stop-color="#8d8e91"/><stop offset="0.5" stop-color="#a6a7a9"/><stop offset="1" stop-color="#88898c"/></linearGradient><radialGradient id="nt_man" cx="0.5" cy="0.5" r="0.5" ><stop offset="0" stop-color="#ffffff"/><stop offset="0.7" stop-color="#eeeeef"/><stop offset="1" stop-color="#d2d3d5"/></radialGradient></defs>
<polygon points="1733.3,944 1888.6,944 1887,963 1835,970.6 1786,970.6 1735,963" fill="url(#nt_base)"/>
<polygon points="1733.3,940 1888.6,940 1888.6,948 1733.3,948" fill="#b1b2b4"/>
<path d="M1742.9,668 Q1742.9,641.4 1811,641.4 Q1879,641.4 1879,668 L1879,943.7 L1742.9,943.7 Z" fill="url(#nt_body)"/>
<path d="M1742.9,670 Q1811,660 1879,670 L1879,681 Q1811,671 1742.9,681 Z" fill="#e4e5e6"/>
<rect x="1769.8" y="754.0" width="81.5" height="21.0" fill="#ececed" />
<text x="1810.5" y="768.8" text-anchor="middle" font-family='"Liberation Sans", sans-serif' font-size="11.5" font-weight="bold" textLength="72" lengthAdjust="spacingAndGlyphs" fill="#111">SODIUM HYPOCHLORITE</text>
<circle cx="1810" cy="905.6" r="29" fill="#e7e8e9"/>
<circle cx="1810" cy="905.6" r="23" fill="url(#nt_man)" stroke="#a8a9ab" stroke-width="1"/>
<circle cx="1810" cy="905.6" r="20" fill="none" stroke="#555" stroke-width="1.6" stroke-dasharray="1.5 3"/>
<defs><linearGradient id="cr_desk" x1="0" y1="0" x2="0" y2="1" ><stop offset="0" stop-color="#e6e6e7"/><stop offset="1" stop-color="#b3b4b6"/></linearGradient><linearGradient id="cr_shirt" x1="0" y1="0" x2="1" y2="0" ><stop offset="0" stop-color="#7cc596"/><stop offset="1" stop-color="#63ad7e"/></linearGradient></defs>
<rect x="775.5" y="822.0" width="417.0" height="151.0" fill="#959699" />
<rect x="782.5" y="829.0" width="403.0" height="137.0" fill="#ffffff" />
<polygon points="832.7,917.8 1154,917.8 1170,954.5 795,954.5" fill="url(#cr_desk)"/>
<rect x="845.0" y="904.0" width="9.0" height="27.0" fill="#cfd0d2" />
<rect x="856.0" y="904.0" width="9.0" height="27.0" fill="#c4c5c7" />
<rect x="831.0" y="930.0" width="48.0" height="7.0" fill="#c9cacc" />
<rect x="973.0" y="904.0" width="9.0" height="27.0" fill="#cfd0d2" />
<rect x="984.0" y="904.0" width="9.0" height="27.0" fill="#c4c5c7" />
<rect x="959.0" y="930.0" width="48.0" height="7.0" fill="#c9cacc" />
<rect x="795.2" y="843.7" width="120.3" height="60.3" fill="#111" />
<rect x="797.5" y="846.0" width="115.5" height="55.5" fill="#000" />
<rect x="797.5" y="846.0" width="18.0" height="55.5" fill="#a8c4df" />
<g stroke="#6d6e70" stroke-width="0.7"><line x1="820" y1="846" x2="820" y2="901.5"/><line x1="828" y1="846" x2="828" y2="901.5"/><line x1="836" y1="846" x2="836" y2="901.5"/><line x1="844" y1="846" x2="844" y2="901.5"/><line x1="852" y1="846" x2="852" y2="901.5"/><line x1="860" y1="846" x2="860" y2="901.5"/><line x1="868" y1="846" x2="868" y2="901.5"/><line x1="876" y1="846" x2="876" y2="901.5"/><line x1="884" y1="846" x2="884" y2="901.5"/><line x1="892" y1="846" x2="892" y2="901.5"/><line x1="900" y1="846" x2="900" y2="901.5"/><line x1="908" y1="846" x2="908" y2="901.5"/><line x1="816" y1="851" x2="913" y2="851"/><line x1="816" y1="859" x2="913" y2="859"/><line x1="816" y1="867" x2="913" y2="867"/><line x1="816" y1="875" x2="913" y2="875"/><line x1="816" y1="883" x2="913" y2="883"/><line x1="816" y1="891" x2="913" y2="891"/><line x1="816" y1="899" x2="913" y2="899"/></g>
<polyline points="817,871.8 820,868.7 823,877.7 826,867.3 829,875.6 832,872.6 835,867.0 838,875.1 841,866.7 844,873.8 847,867.3 850,867.6 853,873.6 856,880.9 859,868.2 862,870.0 865,877.3 868,883.1 871,876.4 874,873.1 877,883.6 880,866.8 883,881.5 886,871.2 889,868.6 892,868.1 895,871.6 898,880.7 901,869.3 904,876.5 907,877.5 910,872.7" fill="none" stroke="#a5c43c" stroke-width="1.3"/>
<rect x="923.4" y="843.7" width="120.3" height="60.3" fill="#111" />
<rect x="925.7" y="846.0" width="115.7" height="55.5" fill="#d9ecf7" />
<rect x="940.0" y="887.0" width="6.0" height="7.0" fill="#f0937a" />
<rect x="947.0" y="884.0" width="6.0" height="10.0" fill="#8ccf9e" />
<rect x="954.0" y="877.0" width="6.0" height="17.0" fill="#f0937a" />
<rect x="961.0" y="862.0" width="6.0" height="32.0" fill="#8ccf9e" />
<rect x="968.0" y="850.0" width="6.0" height="44.0" fill="#f0937a" />
<rect x="975.0" y="883.0" width="6.0" height="11.0" fill="#8ccf9e" />
<rect x="982.0" y="870.0" width="6.0" height="24.0" fill="#f0937a" />
<rect x="989.0" y="860.0" width="6.0" height="34.0" fill="#8ccf9e" />
<rect x="996.0" y="866.0" width="6.0" height="28.0" fill="#f0937a" />
<rect x="1003.0" y="878.0" width="6.0" height="16.0" fill="#8ccf9e" />
<rect x="1011.0" y="880.0" width="6.0" height="14.0" fill="#f0937a" />
<rect x="1018.0" y="889.0" width="6.0" height="5.0" fill="#8ccf9e" />
<line x1="939" y1="894" x2="1030" y2="894" stroke="#999" stroke-width="0.6"/><line x1="939" y1="849" x2="939" y2="894" stroke="#b55" stroke-width="0.6"/>
<rect x="1052.4" y="843.7" width="120.3" height="60.3" fill="#111" />
<rect x="1054.7" y="846.0" width="115.7" height="55.5" fill="#d9ecf7" />
<rect x="1065.0" y="849.0" width="96.0" height="8.5" fill="#a8cf3c" />
<rect x="1060.0" y="862.0" width="40.0" height="18.0" fill="#a9c4e0" />
<rect x="1129.0" y="866.0" width="8.0" height="8.0" fill="#c8d4dd" />
<rect x="1156.0" y="864.0" width="8.0" height="12.0" fill="#7f9fb6" />
<rect x="1133.0" y="880.0" width="8.0" height="17.0" fill="#a9c4e0" />
<rect x="1150.0" y="880.0" width="8.0" height="17.0" fill="#a9c4e0" />
<path d="M1070,880 L1070,890 L1110,890 M1120,870 L1160,870" stroke="#8a9aa8" stroke-width="1" fill="none"/>
<path d="M1137,931 Q1150,928 1153,936 L1149,966 L1137,966 Z" fill="#111"/>
<path d="M1090,909 Q1105,901 1120,903 Q1131,905 1136,915 L1139,966 L1072,966 Q1074,940 1083,922 Z" fill="url(#cr_shirt)"/>
<path d="M1093,905 L1099,899 L1106,910 L1097,912 Z" fill="#1a1a1a"/>
<path d="M1101,880 Q1104,896 1115,902 L1116,912 L1104,913 L1101,900 Z" fill="#f2c08f"/>
<path d="M1095,876 Q1094,866 1103,862 Q1108,860 1111,864 L1112,880 Q1111,893 1103,893 Q1098,892 1097,886 L1094,884 Z" fill="#f2c08f"/>
<path d="M1101,860 Q1108,852 1122,854 Q1134,858 1135,871 Q1136,884 1128,892 Q1120,898 1114,891 L1111,876 Q1104,872 1101,866 Z" fill="#050505"/>
<defs><linearGradient id="bw_slab" x1="0" y1="0" x2="0" y2="1" ><stop offset="0" stop-color="#d4d5d7"/><stop offset="0.7" stop-color="#c2c3c5"/><stop offset="0.71" stop-color="#a2a3a6"/><stop offset="1" stop-color="#9c9da0"/></linearGradient><linearGradient id="bw_pipe" x1="0" y1="0" x2="1" y2="0" ><stop offset="0" stop-color="#1a1a1c"/><stop offset="0.35" stop-color="#4d4e51"/><stop offset="0.6" stop-color="#2e2e31"/><stop offset="1" stop-color="#111"/></linearGradient></defs>
<defs><linearGradient id="bw_b2" x1="0" y1="0" x2="1" y2="0" ><stop offset="0" stop-color="#a4a48f"/><stop offset="0.35" stop-color="#c9c9b6"/><stop offset="0.6" stop-color="#bebeaa"/><stop offset="1" stop-color="#9b9b86"/></linearGradient></defs>
<rect x="503.2" y="884.4" width="149.8" height="46.6" fill="url(#bw_slab)" />
<path d="M579.3,693 Q581.3,686 594.3,685 L629.3,685 Q639.3,687 639.3,701 L639.3,884 L579.3,884 Z" fill="#b4b4a0"/>
<path d="M513,904 L513,711 Q513,691 541,691 L629.3,691 L639.3,697 L639.3,904 Q576.15,912 513,904 Z" fill="url(#bw_b2)"/>
<rect x="537.5" y="756.0" width="34.7" height="20.7" fill="#f2f2f2" />
<text x="554.85" y="769.85" text-anchor="middle" font-family='"Liberation Sans", sans-serif' font-size="11" font-weight="bold" textLength="10" lengthAdjust="spacingAndGlyphs" fill="#111">CIP</text>
<g stroke="#d3b53a" stroke-width="3"><line x1="613.6" y1="665.4" x2="613.6" y2="908"/><line x1="639.3" y1="673.4" x2="639.3" y2="908"/><line x1="613.6" y1="677.4" x2="639.3" y2="681.4" stroke-width="2"/><line x1="613.6" y1="695.9" x2="639.3" y2="699.9" stroke-width="2"/><line x1="613.6" y1="714.4" x2="639.3" y2="718.4" stroke-width="2"/><line x1="613.6" y1="732.9" x2="639.3" y2="736.9" stroke-width="2"/><line x1="613.6" y1="751.4" x2="639.3" y2="755.4" stroke-width="2"/><line x1="613.6" y1="769.9" x2="639.3" y2="773.9" stroke-width="2"/><line x1="613.6" y1="788.4" x2="639.3" y2="792.4" stroke-width="2"/><line x1="613.6" y1="806.9" x2="639.3" y2="810.9" stroke-width="2"/><line x1="613.6" y1="825.4" x2="639.3" y2="829.4" stroke-width="2"/><line x1="613.6" y1="843.9" x2="639.3" y2="847.9" stroke-width="2"/><line x1="613.6" y1="862.4" x2="639.3" y2="866.4" stroke-width="2"/><line x1="613.6" y1="880.9" x2="639.3" y2="884.9" stroke-width="2"/><line x1="613.6" y1="899.4" x2="639.3" y2="903.4" stroke-width="2"/></g>
<rect x="607.6" y="776.5" width="32.7" height="7.0" fill="#cdb135" />
<path d="M591.5,671.3 L591.5,659.3 Q591.5,648.3 581.8,652.3 L550.8,674.3 Q543.8,679.3 547.8,686.3 L557.0,700.3" fill="none" stroke="#2f2f32" stroke-width="20.5" stroke-linejoin="round"/>
<path d="M583.5,646.3 L551.5,667.3" fill="none" stroke="#505154" stroke-width="4"/>
<rect x="581.3" y="668.3" width="20.5" height="266.7" fill="url(#bw_pipe)" />
<rect x="581.3" y="666.8" width="20.5" height="3.5" fill="#7a7b7e" />
<ellipse cx="561.0" cy="702.8" rx="12.5" ry="9" fill="#3a3a3d" transform="rotate(-25 561.0 702.8)"/>
<ellipse cx="561.0" cy="701.3" rx="9" ry="5.5" fill="#111" transform="rotate(-25 561.0 702.8)"/>
<ellipse cx="561.0" cy="702.8" rx="10.8" ry="7.4" fill="none" stroke="#aaa" stroke-width="1.2" stroke-dasharray="1 3.2" transform="rotate(-25 561.0 702.8)"/>
<defs><linearGradient id="bw_b1" x1="0" y1="0" x2="1" y2="0" ><stop offset="0" stop-color="#a4a48f"/><stop offset="0.35" stop-color="#c9c9b6"/><stop offset="0.6" stop-color="#bebeaa"/><stop offset="1" stop-color="#9b9b86"/></linearGradient></defs>
<rect x="344.5" y="922.0" width="149.5" height="47.2" fill="url(#bw_slab)" />
<path d="M419.5,730.5 Q421.5,723.5 434.5,722.5 L469.5,722.5 Q479.5,724.5 479.5,738.5 L479.5,923.6 L419.5,923.6 Z" fill="#b4b4a0"/>
<path d="M355.2,943.6 L355.2,748.5 Q355.2,728.5 383.2,728.5 L469.5,728.5 L479.5,734.5 L479.5,943.6 Q417.35,951.6 355.2,943.6 Z" fill="url(#bw_b1)"/>
<rect x="378.0" y="793.6" width="34.4" height="20.6" fill="#f2f2f2" />
<text x="395.2" y="807.4000000000001" text-anchor="middle" font-family='"Liberation Sans", sans-serif' font-size="11" font-weight="bold" textLength="29.58399999999998" lengthAdjust="spacingAndGlyphs" fill="#111">BACKWASH</text>
<g stroke="#d3b53a" stroke-width="3"><line x1="454.6" y1="703" x2="454.6" y2="945.6"/><line x1="479.5" y1="711" x2="479.5" y2="945.6"/><line x1="454.6" y1="715.0" x2="479.5" y2="719.0" stroke-width="2"/><line x1="454.6" y1="733.5" x2="479.5" y2="737.5" stroke-width="2"/><line x1="454.6" y1="752.0" x2="479.5" y2="756.0" stroke-width="2"/><line x1="454.6" y1="770.5" x2="479.5" y2="774.5" stroke-width="2"/><line x1="454.6" y1="789.0" x2="479.5" y2="793.0" stroke-width="2"/><line x1="454.6" y1="807.5" x2="479.5" y2="811.5" stroke-width="2"/><line x1="454.6" y1="826.0" x2="479.5" y2="830.0" stroke-width="2"/><line x1="454.6" y1="844.5" x2="479.5" y2="848.5" stroke-width="2"/><line x1="454.6" y1="863.0" x2="479.5" y2="867.0" stroke-width="2"/><line x1="454.6" y1="881.5" x2="479.5" y2="885.5" stroke-width="2"/><line x1="454.6" y1="900.0" x2="479.5" y2="904.0" stroke-width="2"/><line x1="454.6" y1="918.5" x2="479.5" y2="922.5" stroke-width="2"/><line x1="454.6" y1="937.0" x2="479.5" y2="941.0" stroke-width="2"/></g>
<rect x="448.6" y="815.0" width="31.9" height="7.0" fill="#cdb135" />
<path d="M432.8,709.0 L432.8,697.0 Q432.8,686.0 423.1,690.0 L392.1,712.0 Q385.1,717.0 389.1,724.0 L398.2,738.0" fill="none" stroke="#2f2f32" stroke-width="20.1" stroke-linejoin="round"/>
<path d="M424.8,684.0 L392.8,705.0" fill="none" stroke="#505154" stroke-width="4"/>
<rect x="422.7" y="706.0" width="20.1" height="266.4" fill="url(#bw_pipe)" />
<rect x="422.7" y="704.5" width="20.1" height="3.5" fill="#7a7b7e" />
<ellipse cx="402.2" cy="740.5" rx="12.5" ry="9" fill="#3a3a3d" transform="rotate(-25 402.2 740.5)"/>
<ellipse cx="402.2" cy="739.0" rx="9" ry="5.5" fill="#111" transform="rotate(-25 402.2 740.5)"/>
<ellipse cx="402.2" cy="740.5" rx="10.8" ry="7.4" fill="none" stroke="#aaa" stroke-width="1.2" stroke-dasharray="1 3.2" transform="rotate(-25 402.2 740.5)"/>
<g fill="none" stroke="#0a2a3e" stroke-width="4.6" stroke-linejoin="miter">
<path d="M64.6,51.5 C56,58 51.5,68 52.2,80 C52.5,92 57,101 64.6,108.5"/>
<path d="M64.6,50.5 L64.6,109.5" stroke-width="4.8"/>
<path d="M53,79.5 L68.5,79.5" stroke-width="4.2"/>
<path d="M82.6,48.5 L73.8,48.8 L73.8,111.5 L82.6,112"/>
<path d="M69.5,80.2 L80.5,80.2" stroke-width="4"/>
<path d="M87.4,114.7 L87.4,50 Q87.4,48.4 90,48.4 L95.5,48.5 Q98,48.6 98,51 L98,112.5"/>
<path d="M106.2,52 L106.2,108.8"/>
<path d="M106.2,53 C115,60 119.2,69 119.2,80 C119.2,92 114,101 106.2,108"/>
</g>
<path d="M46.3,452.5 L106,452.5 L106,431.59999999999997 L143.8,464.4 L106,497.2 L106,476.29999999999995 L46.3,476.29999999999995 Z" fill="#007dc5"/>
<path d="M384,452.5 L480.6,452.5 L480.6,431.59999999999997 L518.6,464.4 L480.6,497.2 L480.6,476.29999999999995 L384,476.29999999999995 Z" fill="#007dc5"/>
<path d="M820.2,452.5 L932.9,452.5 L932.9,431.59999999999997 L970.5,464.4 L932.9,497.2 L932.9,476.29999999999995 L820.2,476.29999999999995 Z" fill="#007dc5"/>
<path d="M1202,452.5 L1285,452.5 L1285,431.59999999999997 L1322.9,464.4 L1285,497.2 L1285,476.29999999999995 L1202,476.29999999999995 Z" fill="#007dc5"/>
<path d="M1686.1,452.5 L1842.4,452.5 L1842.4,431.59999999999997 L1880.3,464.4 L1842.4,497.2 L1842.4,476.29999999999995 L1686.1,476.29999999999995 Z" fill="#007dc5"/>
<path d="M2100.2,452.5 L2125.5,452.5 L2125.5,431.59999999999997 L2163.4,464.4 L2125.5,497.2 L2125.5,476.29999999999995 L2100.2,476.29999999999995 Z" fill="#007dc5"/>
<path d="M2386,452.5 L2484.8,452.5 L2484.8,431.59999999999997 L2522.6,464.4 L2484.8,497.2 L2484.8,476.29999999999995 L2386,476.29999999999995 Z" fill="#007dc5"/>
<path d="M663,741.3 L1362.5,741.3 L1362.5,679.2 L1341.6,679.2 L1374,641.7 L1406.7,679.2 L1386.2,679.2 L1386.2,764.8 L663,764.8 Z" fill="#939497"/>
<path d="M1891.5,905.6 L1925.9,905.6 L1925.9,600.6 L1789.2,600.6 L1789.2,514.9 L1768.8,514.9 L1801.3,477 L1834.1,514.9 L1813.4,514.9 L1813.4,576.8 L1949,576.8 L1949,929 L1891.5,929 Z" fill="#939497"/>
<path d="M1508.5,643.5 L1531.7,643.5 L1531.7,884.9 L1552.4,884.9 L1520,922.2 L1487,884.9 L1508.5,884.9 Z" fill="#00a651"/>
<path d="M2321.7,695 L2283.7,695 L2283.7,585.8 L2305,585.8 L2272.2,548.2 L2239.3,585.8 L2260.6,585.8 L2260.6,718.5 L2321.7,718.5 Z" fill="#007dc5"/>
<circle cx="245.8" cy="243.4" r="22.6" fill="url(#numg)" stroke="#000" stroke-width="2.6"/><path d="M244.2,227.8 L251.8,227.8 L251.8,259.7 L244.2,259.7 L244.2,237.8 Q241.0,241.3 236.5,242.3 L236.5,235.8 Q242.0,233.3 244.2,227.8 Z" fill="#fff"/>
<circle cx="737.6" cy="244.9" r="22.6" fill="url(#numg)" stroke="#000" stroke-width="2.6"/><text x="737.6" y="260.9" text-anchor="middle" font-family='"Liberation Sans", sans-serif' font-weight="bold" font-size="45.5" fill="#fff">2</text>
<circle cx="1172" cy="244.9" r="22.6" fill="url(#numg)" stroke="#000" stroke-width="2.6"/><text x="1172" y="260.9" text-anchor="middle" font-family='"Liberation Sans", sans-serif' font-weight="bold" font-size="45.5" fill="#fff">3</text>
<circle cx="1751.9" cy="244.7" r="22.6" fill="url(#numg)" stroke="#000" stroke-width="2.6"/><text x="1751.9" y="260.7" text-anchor="middle" font-family='"Liberation Sans", sans-serif' font-weight="bold" font-size="45.5" fill="#fff">4</text>
<circle cx="270.4" cy="813.5" r="22.6" fill="url(#numg)" stroke="#000" stroke-width="2.6"/><text x="270.4" y="829.5" text-anchor="middle" font-family='"Liberation Sans", sans-serif' font-weight="bold" font-size="45.5" fill="#fff">5</text>
<circle cx="1287.7" cy="844.4" r="22.6" fill="url(#numg)" stroke="#000" stroke-width="2.6"/><text x="1287.7" y="860.4" text-anchor="middle" font-family='"Liberation Sans", sans-serif' font-weight="bold" font-size="45.5" fill="#fff">6</text>
<circle cx="2014.8" cy="698.5" r="22.6" fill="url(#numg)" stroke="#000" stroke-width="2.6"/><text x="2014.8" y="714.5" text-anchor="middle" font-family='"Liberation Sans", sans-serif' font-weight="bold" font-size="45.5" fill="#fff">7</text>
<text x="708.8" y="136.8" font-family='"Liberation Sans", sans-serif' font-weight="bold" font-size="96.66" textLength="1399.8" lengthAdjust="spacingAndGlyphs" fill="#0a2a3e" >Water Filtration Facility Process</text>
<text x="54.8" y="312.1" font-family='"Liberation Sans", sans-serif' font-weight="bold" font-size="37.35" textLength="345.6" lengthAdjust="spacingAndGlyphs" fill="#0a2a3e" >Raw Water Structure</text>
<text x="662.8" y="312.5" font-family='"Liberation Sans", sans-serif' font-weight="bold" font-size="37.50" textLength="202.2" lengthAdjust="spacingAndGlyphs" fill="#0a2a3e" >Feed Pumps</text>
<text x="1111.8" y="311.0" font-family='"Liberation Sans", sans-serif' font-weight="bold" font-size="36.92" textLength="147.6" lengthAdjust="spacingAndGlyphs" fill="#0a2a3e" >Strainers</text>
<text x="1697.1" y="311.9" font-family='"Liberation Sans", sans-serif' font-weight="bold" font-size="36.77" textLength="183.2" lengthAdjust="spacingAndGlyphs" fill="#0a2a3e" >Membrane</text>
<text x="1693.4" y="354.5" font-family='"Liberation Sans", sans-serif' font-weight="bold" font-size="37.35" textLength="190.9" lengthAdjust="spacingAndGlyphs" fill="#0a2a3e" >Filter Racks</text>
<text x="74.9" y="880.0" font-family='"Liberation Sans", sans-serif' font-weight="bold" font-size="36.05" textLength="236.9" lengthAdjust="spacingAndGlyphs" fill="#0a2a3e" >Backwash and</text>
<text x="102.1" y="923.0" font-family='"Liberation Sans", sans-serif' font-weight="bold" font-size="37.50" textLength="182.2" lengthAdjust="spacingAndGlyphs" fill="#0a2a3e" >Membrane</text>
<text x="56.2" y="965.5" font-family='"Liberation Sans", sans-serif' font-weight="bold" font-size="36.77" textLength="275.3" lengthAdjust="spacingAndGlyphs" fill="#0a2a3e" >Cleaning System</text>
<text x="1223.4" y="911.6" font-family='"Liberation Sans", sans-serif' font-weight="bold" font-size="37.50" textLength="126.3" lengthAdjust="spacingAndGlyphs" fill="#0a2a3e" >Control</text>
<text x="1237.5" y="954.0" font-family='"Liberation Sans", sans-serif' font-weight="bold" font-size="36.70" textLength="98.0" lengthAdjust="spacingAndGlyphs" fill="#0a2a3e" >Room</text>
<text x="1968.2" y="764.3" font-family='"Liberation Sans", sans-serif' font-weight="bold" font-size="36.63" textLength="200.8" lengthAdjust="spacingAndGlyphs" fill="#0a2a3e" >Disinfection</text>
<text x="1939.6" y="318.7" font-family='"Liberation Sans", sans-serif' font-weight="normal" font-size="30.67" textLength="104.8" lengthAdjust="spacingAndGlyphs" fill="#0a2a3e" >Chlorine</text>
<text x="1907.5" y="354.7" font-family='"Liberation Sans", sans-serif' font-weight="normal" font-size="31.25" textLength="169.5" lengthAdjust="spacingAndGlyphs" fill="#0a2a3e" >Contact Basin</text>
<text x="2184.5" y="316.9" font-family='"Liberation Sans", sans-serif' font-weight="normal" font-size="30.67" textLength="185.8" lengthAdjust="spacingAndGlyphs" fill="#0a2a3e" >Water Storage</text>
<text x="2217.5" y="352.5" font-family='"Liberation Sans", sans-serif' font-weight="normal" font-size="30.67" textLength="119.5" lengthAdjust="spacingAndGlyphs" fill="#0a2a3e" >Reservoir</text>
<text x="2380.2" y="529.2" font-family='"Liberation Sans", sans-serif' font-weight="normal" font-size="31.98" textLength="173.5" lengthAdjust="spacingAndGlyphs" fill="#0a2a3e" >Treated Water</text>
<text x="2417.6" y="564.3" font-family='"Liberation Sans", sans-serif' font-weight="normal" font-size="31.83" textLength="98.5" lengthAdjust="spacingAndGlyphs" fill="#0a2a3e" >to Bend</text>
<text x="2185.0" y="667.1" font-family='"Liberation Sans", sans-serif' font-weight="normal" font-size="31.25" textLength="55.7" lengthAdjust="spacingAndGlyphs" fill="#0a2a3e" >Well</text>
<text x="2075.7" y="896.5" font-family='"Liberation Sans", sans-serif' font-weight="normal" font-size="30.67" textLength="134.3" lengthAdjust="spacingAndGlyphs" fill="#0a2a3e" >Deschutes</text>
<text x="2095.6" y="932.1" font-family='"Liberation Sans", sans-serif' font-weight="normal" font-size="30.67" textLength="95.3" lengthAdjust="spacingAndGlyphs" fill="#0a2a3e" >Aquifer</text>
<text x="139.7" y="686.1" font-family='"Liberation Sans", sans-serif' font-weight="normal" font-size="30.23" textLength="200.3" lengthAdjust="spacingAndGlyphs" fill="#000" >Overflow Swale</text>
<text x="1476.5" y="957.1" font-family='"Liberation Sans", sans-serif' font-weight="normal" font-size="30.96" textLength="98.8" lengthAdjust="spacingAndGlyphs" fill="#0a2a3e" >Process</text>
<text x="1456.0" y="993.0" font-family='"Liberation Sans", sans-serif' font-weight="normal" font-size="30.67" textLength="140.7" lengthAdjust="spacingAndGlyphs" fill="#0a2a3e" >Waste Line</text>
</svg>
</body></html>
